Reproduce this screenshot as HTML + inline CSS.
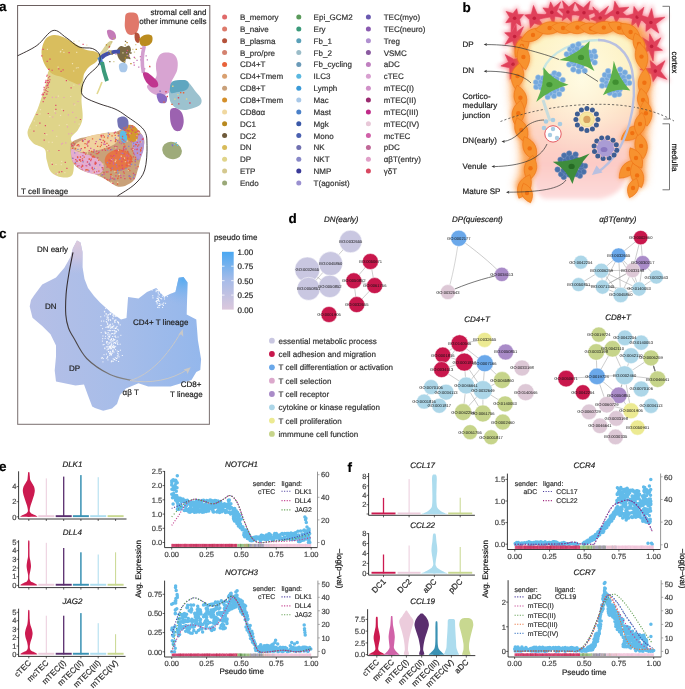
<!DOCTYPE html>
<html><head><meta charset="utf-8"><style>
html,body{margin:0;padding:0;background:#fff;width:685px;height:689px;overflow:hidden}
svg{display:block;will-change:transform}
text.n{stroke:none}
text{font-family:"Liberation Sans",sans-serif;text-rendering:geometricPrecision;stroke:currentColor;stroke-width:0.2px}
</style></head><body>
<svg width="685" height="689" viewBox="0 0 685 689" font-family="Liberation Sans, sans-serif">
<text x="-1.0" y="11.0" font-size="13.5" fill="#000" color="#000" font-weight="bold" >a</text>
<rect x="17.6" y="5.5" width="192.2" height="190.7" fill="none" stroke="#6b5f5f" stroke-width="1"/>
<path d="M50.0,70.0 C53.2,69.0 60.7,73.7 66.0,74.0 C71.3,74.3 79.2,70.2 82.0,72.0 C84.8,73.8 83.1,80.4 83.0,85.0 C82.9,89.6 81.6,94.1 81.5,99.6 C81.4,105.1 83.2,113.2 82.6,118.2 C82.0,123.2 79.9,126.5 78.0,129.8 C76.1,133.1 71.8,135.3 71.0,138.0 C70.2,140.7 72.9,142.3 73.4,146.0 C73.9,149.7 74.2,155.2 74.0,160.0 C73.8,164.8 74.2,172.1 72.2,175.0 C70.2,177.9 65.3,177.8 61.8,177.3 C58.3,176.8 53.5,174.9 51.0,172.0 C48.5,169.1 47.8,163.8 46.7,160.0 C45.6,156.2 46.8,151.8 44.5,149.0 C42.2,146.2 35.8,145.7 33.0,143.0 C30.2,140.3 27.5,137.0 27.5,133.0 C27.5,129.0 31.2,123.2 33.0,119.0 C34.8,114.8 36.3,112.4 38.0,108.0 C39.7,103.6 41.7,97.3 43.2,92.6 C44.7,87.9 45.9,83.8 47.0,80.0 C48.1,76.2 46.8,71.0 50.0,70.0Z" fill="#dfd489"/>
<path d="M42.0,48.0 C42.7,44.9 44.0,40.7 46.0,38.5 C48.0,36.3 51.2,35.2 54.0,35.0 C56.8,34.8 59.7,35.7 63.0,37.0 C66.3,38.3 70.3,40.9 74.0,43.0 C77.7,45.1 81.5,48.1 85.0,49.5 C88.5,50.9 92.7,50.6 95.0,51.5 C97.3,52.4 98.8,53.3 99.0,55.0 C99.2,56.7 98.2,59.5 96.5,61.5 C94.8,63.5 91.1,64.9 89.0,67.0 C86.9,69.1 85.5,71.2 84.0,74.0 C82.5,76.8 82.0,82.7 80.0,84.0 C78.0,85.3 75.0,83.2 72.0,82.0 C69.0,80.8 65.2,78.3 62.0,77.0 C58.8,75.7 55.2,75.8 52.5,74.0 C49.8,72.2 47.2,68.8 45.5,66.0 C43.8,63.2 42.6,60.0 42.0,57.0 C41.4,54.0 41.3,51.1 42.0,48.0Z" fill="#d9be5e"/>
<path d="M71.0,144.0 C72.0,140.5 75.5,140.2 78.0,139.0 C80.5,137.8 83.2,137.7 86.0,137.0 C88.8,136.3 91.8,135.7 95.0,135.0 C98.2,134.3 102.0,133.4 105.0,133.0 C108.0,132.6 110.8,132.9 113.0,132.6 C115.2,132.3 116.2,131.8 118.0,131.0 C119.8,130.2 121.7,129.0 124.0,128.0 C126.3,127.0 129.3,124.3 132.0,125.0 C134.7,125.7 137.9,129.4 140.0,132.0 C142.1,134.6 143.8,137.3 144.3,140.3 C144.8,143.3 143.4,147.7 143.0,150.0 C142.6,152.3 142.6,151.1 141.7,154.4 C140.8,157.7 139.1,165.5 137.8,169.8 C136.5,174.1 136.1,177.4 134.0,180.1 C131.9,182.8 128.0,184.9 125.0,185.9 C122.0,186.9 119.4,187.1 116.0,185.9 C112.6,184.7 108.1,180.8 104.4,178.8 C100.8,176.8 96.9,174.8 94.1,173.7 C91.3,172.6 90.4,173.3 87.7,172.4 C85.0,171.5 80.6,170.1 78.0,168.0 C75.4,165.9 73.2,164.0 72.0,160.0 C70.8,156.0 70.0,147.5 71.0,144.0Z" fill="#c9a179"/>
<path d="M74.0,146.0 C74.2,144.0 79.3,141.7 82.0,140.0 C84.7,138.3 87.0,137.0 90.0,136.0 C93.0,135.0 96.2,134.6 100.0,134.0 C103.8,133.4 109.8,132.3 113.0,132.6 C116.2,132.9 118.5,134.3 119.0,136.0 C119.5,137.7 118.2,141.0 116.0,143.0 C113.8,145.0 109.8,146.7 106.0,148.0 C102.2,149.3 97.2,150.3 93.0,151.0 C88.8,151.7 84.2,152.8 81.0,152.0 C77.8,151.2 73.8,148.0 74.0,146.0Z" fill="#f0d29e"/>
<path d="M71.5,149.0 C72.6,147.5 76.1,151.0 79.0,152.0 C81.9,153.0 85.7,153.7 89.0,155.0 C92.3,156.3 96.5,158.0 99.0,160.0 C101.5,162.0 104.0,164.7 104.0,167.0 C104.0,169.3 101.5,173.0 99.0,174.0 C96.5,175.0 92.3,174.0 89.0,173.0 C85.7,172.0 81.8,170.0 79.0,168.0 C76.2,166.0 73.8,164.2 72.5,161.0 C71.2,157.8 70.4,150.5 71.5,149.0Z" fill="#e4add0"/>
<path d="M106.0,156.0 C107.2,154.0 109.5,152.0 112.0,151.0 C114.5,150.0 118.0,149.5 121.0,150.0 C124.0,150.5 128.2,152.2 130.0,154.0 C131.8,155.8 132.5,158.7 132.0,161.0 C131.5,163.3 129.3,166.3 127.0,168.0 C124.7,169.7 120.8,170.8 118.0,171.0 C115.2,171.2 112.2,170.3 110.0,169.0 C107.8,167.7 105.7,165.2 105.0,163.0 C104.3,160.8 104.8,158.0 106.0,156.0Z" fill="#e8713f" opacity="0.9"/>
<path d="M135.0,135.0 C136.5,134.0 139.5,133.2 141.0,134.0 C142.5,134.8 143.7,137.0 144.0,140.0 C144.3,143.0 144.0,148.7 143.0,152.0 C142.0,155.3 139.7,160.3 138.0,160.0 C136.3,159.7 134.0,153.3 133.0,150.0 C132.0,146.7 131.7,142.5 132.0,140.0 C132.3,137.5 133.5,136.0 135.0,135.0Z" fill="#b596d2"/>
<path d="M127.0,125.0 C128.5,124.3 132.2,124.8 134.0,126.0 C135.8,127.2 137.5,129.7 138.0,132.0 C138.5,134.3 138.2,138.3 137.0,140.0 C135.8,141.7 132.8,142.5 131.0,142.0 C129.2,141.5 127.0,139.0 126.0,137.0 C125.0,135.0 124.8,132.0 125.0,130.0 C125.2,128.0 125.5,125.7 127.0,125.0Z" fill="#d4972e"/>
<path d="M118.0,118.0 C119.1,116.9 122.3,116.2 124.0,116.5 C125.7,116.8 127.3,118.2 128.0,120.0 C128.7,121.8 128.7,125.3 128.0,127.0 C127.3,128.7 125.5,129.8 124.0,130.0 C122.5,130.2 120.1,129.2 119.0,128.0 C117.9,126.8 117.7,124.7 117.5,123.0 C117.3,121.3 116.9,119.1 118.0,118.0Z" fill="#7272b4"/>
<path d="M121.0,131.0 C122.0,130.0 125.0,130.5 126.0,132.0 C127.0,133.5 127.3,138.2 127.0,140.0 C126.7,141.8 125.2,143.3 124.0,143.0 C122.8,142.7 120.5,140.0 120.0,138.0 C119.5,136.0 120.0,132.0 121.0,131.0Z" fill="#5cbce6"/>
<path d="M126.6 141.1h1.3M123.8 158.2h1.3M95.3 167.6h1.3M83.6 142.9h1.3M103.5 145.3h1.3M110.2 138.9h1.3M113.6 138.7h1.3M97.8 159.5h1.3M127.8 170.1h1.3M111.7 183.3h1.3M110.5 159.1h1.3M82.7 145.0h1.3M86.3 144.7h1.3M133.0 148.4h1.3M102.2 164.2h1.3M92.7 172.7h1.3M94.8 171.1h1.3M120.6 156.2h1.3M76.5 150.2h1.3M117.1 182.5h1.3M107.5 149.6h1.3M77.2 166.1h1.3M128.2 161.1h1.3M129.5 133.5h1.3M117.6 150.4h1.3M71.0 148.2h1.3M109.2 149.0h1.3M114.6 161.6h1.3M132.8 149.2h1.3M98.5 175.6h1.3M101.9 174.0h1.3M78.6 153.2h1.3M137.2 132.3h1.3M128.5 164.3h1.3M140.3 142.0h1.3M124.8 161.6h1.3M99.7 167.8h1.3M136.2 135.8h1.3M78.5 161.7h1.3M118.6 174.4h1.3M111.5 177.1h1.3M110.8 182.3h1.3M115.4 147.9h1.3M74.9 151.5h1.3M111.6 159.7h1.3M114.3 171.5h1.3M86.8 153.0h1.3M92.0 148.8h1.3M115.2 160.2h1.3M135.9 140.0h1.3" stroke="#f0d29e" stroke-width="1.3"/>
<path d="M126.4 154.8h1.3M135.4 168.2h1.3M78.4 146.0h1.3M105.4 171.9h1.3M104.5 144.4h1.3M142.5 139.2h1.3M81.4 169.4h1.3M86.1 165.9h1.3M120.0 175.6h1.3M76.8 161.1h1.3M113.7 156.0h1.3M93.4 150.6h1.3M94.9 163.8h1.3M93.4 149.6h1.3M120.5 153.1h1.3M82.2 155.6h1.3M113.9 178.9h1.3M128.0 156.2h1.3M118.9 142.5h1.3M127.0 160.9h1.3M103.1 144.2h1.3M98.5 151.8h1.3M95.6 141.7h1.3M107.6 171.9h1.3M96.0 171.6h1.3M132.6 126.9h1.3M123.0 147.7h1.3M87.0 142.9h1.3M124.5 141.4h1.3M117.6 135.9h1.3M75.1 163.8h1.3M112.2 159.7h1.3M110.0 176.6h1.3M81.6 165.1h1.3M140.6 150.3h1.3M85.4 165.6h1.3M94.9 162.9h1.3M111.7 158.8h1.3M103.8 174.1h1.3M90.1 148.3h1.3M110.2 140.7h1.3M78.3 165.6h1.3M133.8 154.4h1.3M110.9 169.0h1.3M88.7 140.9h1.3M112.8 164.0h1.3M123.2 175.9h1.3M125.9 155.8h1.3M112.9 162.1h1.3M130.8 141.7h1.3M122.4 169.2h1.3M120.7 143.7h1.3M116.3 166.9h1.3M120.0 158.0h1.3M116.3 149.2h1.3M136.0 136.5h1.3M95.6 153.6h1.3M134.2 149.4h1.3" stroke="#d060a0" stroke-width="1.3"/>
<path d="M128.5 130.9h1.3M136.3 149.6h1.3M132.8 156.8h1.3M132.3 148.3h1.3M103.8 142.0h1.3M116.2 146.7h1.3M81.9 141.1h1.3M100.9 136.8h1.3M135.0 144.3h1.3M79.1 160.3h1.3M126.9 158.5h1.3M123.8 130.3h1.3M79.5 159.7h1.3M134.3 174.7h1.3M75.1 159.7h1.3M136.6 131.8h1.3M131.4 125.8h1.3M81.9 140.2h1.3M76.9 166.1h1.3M115.2 175.9h1.3M106.3 179.3h1.3M94.0 157.1h1.3M82.7 152.3h1.3M121.2 161.5h1.3M90.1 160.5h1.3M115.3 139.7h1.3M142.3 138.8h1.3M123.1 146.9h1.3M124.6 130.3h1.3M114.4 150.7h1.3M83.6 152.6h1.3M87.5 141.4h1.3M128.7 175.9h1.3M110.3 155.9h1.3M91.6 167.5h1.3M94.6 164.2h1.3M116.6 150.6h1.3M132.8 173.4h1.3M134.9 159.3h1.3M104.0 141.3h1.3M102.5 135.3h1.3M87.1 146.0h1.3M108.6 148.2h1.3M128.3 137.0h1.3M134.7 161.5h1.3M114.8 141.5h1.3M126.2 134.6h1.3M104.1 177.9h1.3M95.6 163.1h1.3M122.7 158.8h1.3M122.9 171.8h1.3M133.4 178.7h1.3M108.6 160.2h1.3M97.1 157.8h1.3M93.7 172.2h1.3M114.2 146.4h1.3M89.0 164.8h1.3M121.5 165.5h1.3M92.0 156.9h1.3M100.9 142.7h1.3M95.9 151.2h1.3M141.8 139.4h1.3M127.5 131.2h1.3M131.9 130.6h1.3M120.3 177.6h1.3M122.3 150.9h1.3M88.6 150.7h1.3M109.3 163.4h1.3M94.7 163.2h1.3M121.7 139.2h1.3M71.1 145.8h1.3M109.1 147.8h1.3M76.4 145.7h1.3M108.0 145.3h1.3M136.6 142.3h1.3M104.8 150.4h1.3M110.2 178.2h1.3M115.8 153.1h1.3M98.0 152.7h1.3M91.5 168.3h1.3M130.5 133.4h1.3M134.7 132.3h1.3M88.4 164.4h1.3M102.4 169.1h1.3M136.6 149.1h1.3M101.7 150.1h1.3M112.2 183.4h1.3M80.6 148.7h1.3M129.3 166.1h1.3M138.2 134.7h1.3M109.7 149.6h1.3M109.6 160.1h1.3M121.9 168.5h1.3M111.9 178.2h1.3M124.2 146.2h1.3M90.3 154.5h1.3M123.1 140.1h1.3M80.8 167.0h1.3M125.3 149.1h1.3M113.7 133.1h1.3M123.3 150.0h1.3M129.4 164.2h1.3M127.9 135.1h1.3M130.8 149.2h1.3M130.4 161.4h1.3M106.4 167.2h1.3M137.4 130.9h1.3M84.1 147.7h1.3M139.7 154.6h1.3M128.7 161.3h1.3M72.1 158.4h1.3M113.1 155.6h1.3M132.9 153.1h1.3M110.6 161.1h1.3M139.6 141.8h1.3M94.8 143.7h1.3M100.7 135.3h1.3M86.8 162.0h1.3M123.5 153.9h1.3M126.7 130.3h1.3M88.5 159.1h1.3M94.7 162.1h1.3M99.9 139.6h1.3M122.8 148.9h1.3M92.4 156.4h1.3M125.8 165.2h1.3M102.1 174.4h1.3M77.0 157.5h1.3M124.2 178.7h1.3M72.0 145.6h1.3M86.2 144.2h1.3M73.8 144.8h1.3M84.4 139.4h1.3M108.9 179.9h1.3M106.1 146.7h1.3M114.7 132.2h1.3M82.0 160.7h1.3M81.9 165.6h1.3" stroke="#e04a6a" stroke-width="1.3"/>
<path d="M121.5 141.8h1.3M117.9 135.6h1.3M109.8 179.2h1.3M107.8 133.1h1.3M134.6 160.9h1.3M88.4 171.0h1.3M73.8 143.8h1.3M128.1 146.4h1.3M130.9 164.3h1.3M82.6 140.8h1.3M117.0 170.5h1.3M122.1 153.3h1.3M114.7 138.2h1.3M134.4 145.8h1.3M88.8 163.4h1.3M93.1 152.2h1.3M130.1 126.5h1.3M103.1 172.3h1.3M132.9 143.1h1.3M127.9 152.2h1.3M125.2 168.3h1.3M137.2 159.5h1.3M120.4 170.0h1.3M133.5 175.0h1.3M122.6 142.9h1.3M114.2 179.5h1.3M101.3 167.6h1.3M77.3 149.3h1.3M134.5 164.9h1.3M121.5 141.8h1.3M106.8 162.7h1.3M93.8 168.5h1.3M111.6 168.1h1.3M70.9 144.2h1.3M79.8 150.2h1.3M107.5 136.0h1.3M129.5 176.6h1.3M99.1 139.4h1.3M125.1 148.3h1.3M99.1 164.9h1.3M82.5 161.9h1.3M101.4 175.0h1.3M130.5 127.8h1.3M110.9 149.7h1.3M116.9 140.5h1.3M107.2 150.0h1.3M119.1 159.3h1.3M89.4 165.2h1.3M132.8 177.5h1.3M128.4 176.1h1.3M72.0 158.3h1.3M74.9 162.4h1.3M130.2 179.0h1.3M115.7 164.7h1.3M117.4 173.0h1.3M74.1 152.9h1.3M125.3 132.3h1.3" stroke="#8a80c8" stroke-width="1.3"/>
<path d="M138.5 131.3h1.3M100.4 135.9h1.3M99.7 146.7h1.3M139.9 151.0h1.3M109.9 174.5h1.3M113.2 179.2h1.3M103.3 172.5h1.3M118.6 165.8h1.3M77.9 144.7h1.3M125.1 151.2h1.3M107.5 148.8h1.3M91.6 156.5h1.3M115.3 150.3h1.3M81.8 158.9h1.3M126.3 162.8h1.3M97.0 146.4h1.3M140.8 148.0h1.3M129.8 159.2h1.3M110.6 169.8h1.3M110.1 168.4h1.3M88.8 159.1h1.3M84.3 147.7h1.3M76.1 161.2h1.3M139.9 149.6h1.3M128.8 161.5h1.3M92.3 169.7h1.3M110.3 170.5h1.3M94.6 163.5h1.3M126.6 165.7h1.3M135.6 144.6h1.3M90.7 159.2h1.3M75.0 148.5h1.3M102.1 167.7h1.3M98.0 160.1h1.3M131.9 150.8h1.3M106.3 172.0h1.3M116.9 184.0h1.3M121.1 150.3h1.3M82.0 166.1h1.3M111.4 135.9h1.3M87.4 170.2h1.3M85.2 170.0h1.3M132.4 127.7h1.3M119.1 149.6h1.3M136.8 153.1h1.3M98.2 171.2h1.3M129.9 178.9h1.3M107.1 137.9h1.3M74.2 143.9h1.3M100.7 145.1h1.3M108.8 134.4h1.3M128.1 169.3h1.3M129.2 170.7h1.3M103.7 137.0h1.3M131.0 157.3h1.3M124.6 160.7h1.3M117.0 178.7h1.3M90.9 151.5h1.3M110.6 158.7h1.3M81.9 141.2h1.3M124.0 146.9h1.3M76.9 157.0h1.3M93.0 156.1h1.3M111.6 156.7h1.3M80.1 161.2h1.3M77.1 145.0h1.3M117.4 178.1h1.3M91.9 138.8h1.3M88.1 142.1h1.3M125.2 129.4h1.3M133.0 146.1h1.3M79.8 157.0h1.3M110.7 174.3h1.3M138.1 144.8h1.3M115.6 151.1h1.3M103.8 148.8h1.3M137.4 166.7h1.3M130.0 156.2h1.3M86.2 169.7h1.3M106.3 143.4h1.3M85.0 154.2h1.3M115.5 172.5h1.3M127.0 151.5h1.3M131.1 158.9h1.3M83.6 157.1h1.3M129.1 178.1h1.3M70.7 144.2h1.3M129.0 162.6h1.3M74.3 163.3h1.3M137.0 146.2h1.3M125.6 127.2h1.3M93.1 157.0h1.3M78.8 159.7h1.3M123.5 128.0h1.3M131.0 129.7h1.3M129.3 127.3h1.3M96.4 153.7h1.3M102.6 140.3h1.3M131.4 161.7h1.3M114.6 135.4h1.3M114.9 141.3h1.3M128.0 153.8h1.3M117.8 133.1h1.3M121.9 136.5h1.3M123.4 143.9h1.3M71.7 148.4h1.3M134.9 157.3h1.3M117.8 176.1h1.3M106.9 179.8h1.3M84.4 143.6h1.3M72.6 143.0h1.3M123.6 173.2h1.3M127.3 152.5h1.3M97.1 153.7h1.3M107.7 148.3h1.3M115.3 139.8h1.3M92.6 152.0h1.3" stroke="#e8623a" stroke-width="1.3"/>
<path d="M56.8 173.6h1.2M39.9 109.6h1.2M55.4 164.5h1.2M51.2 162.8h1.2M51.7 142.3h1.2M46.2 134.6h1.2M60.7 164.6h1.2M74.2 104.9h1.2M33.8 120.9h1.2M39.4 113.9h1.2M47.0 150.7h1.2M35.7 125.7h1.2M29.5 128.2h1.2M54.0 111.1h1.2M49.3 116.7h1.2M60.0 115.4h1.2M58.7 125.4h1.2M61.3 109.3h1.2M66.3 124.5h1.2M57.8 96.1h1.2M48.3 142.2h1.2M73.3 85.1h1.2M56.1 136.4h1.2M70.1 96.5h1.2M64.3 172.7h1.2M78.6 124.2h1.2M61.1 161.3h1.2" stroke="#f0e0b0" stroke-width="1.2"/>
<path d="M67.8 114.8h1.2M61.9 143.3h1.2M63.4 97.5h1.2M47.2 84.7h1.2M55.5 97.4h1.2M54.9 113.2h1.2M68.2 133.9h1.2M77.4 101.5h1.2M73.3 104.0h1.2M66.9 126.9h1.2M60.9 144.2h1.2M75.5 117.6h1.2M71.1 133.5h1.2M65.2 142.9h1.2M74.2 122.0h1.2M78.6 84.3h1.2M55.4 173.8h1.2M72.1 112.3h1.2M52.1 130.7h1.2M51.8 97.3h1.2M52.1 117.0h1.2M48.8 151.0h1.2" stroke="#e8a0b8" stroke-width="1.2"/>
<path d="M61.2 171.7h1.2M44.1 133.5h1.2M65.8 80.6h1.2M55.2 105.3h1.2M42.6 101.7h1.2M36.4 114.5h1.2M70.5 87.8h1.2M64.7 162.4h1.2M66.3 168.3h1.2M44.8 125.6h1.2M62.9 110.7h1.2M79.8 119.5h1.2M43.6 140.2h1.2M58.3 150.5h1.2M47.7 113.5h1.2M58.6 172.1h1.2M55.3 109.3h1.2M42.9 94.7h1.2M33.3 131.1h1.2M51.7 164.4h1.2M39.3 123.1h1.2" stroke="#e0486a" stroke-width="1.2"/>
<path d="M61.9 49.5h1.2M63.3 52.4h1.2M57.5 67.1h1.2M46.8 49.3h1.2M77.5 67.6h1.2M73.1 71.0h1.2M60.1 51.3h1.2M76.1 52.3h1.2M59.8 51.9h1.2M71.9 63.7h1.2M75.8 68.0h1.2M86.2 45.2h1.2M78.5 41.0h1.2M73.3 41.4h1.2M81.9 47.6h1.2M82.7 48.7h1.2" stroke="#f0e0b0" stroke-width="1.2"/>
<path d="M58.2 68.9h1.2M68.5 52.7h1.2M49.4 59.1h1.2M42.5 49.4h1.2M62.5 69.8h1.2M60.5 71.4h1.2M46.6 61.3h1.2M41.2 55.8h1.2M82.5 44.3h1.2" stroke="#e0486a" stroke-width="1.2"/>
<rect x="42.4" y="94.2" width="1.1" height="1.1" fill="#e04a6a"/>
<rect x="45.7" y="93.5" width="1.1" height="1.1" fill="#e04a6a"/>
<rect x="42.4" y="92.7" width="1.1" height="1.1" fill="#e04a6a"/>
<rect x="45.3" y="80.8" width="1.1" height="1.1" fill="#e04a6a"/>
<rect x="47.2" y="91.0" width="1.1" height="1.1" fill="#e04a6a"/>
<rect x="47.1" y="84.7" width="1.1" height="1.1" fill="#e04a6a"/>
<rect x="43.4" y="89.3" width="1.1" height="1.1" fill="#e04a6a"/>
<rect x="46.8" y="79.9" width="1.1" height="1.1" fill="#e04a6a"/>
<rect x="44.1" y="92.0" width="1.1" height="1.1" fill="#e04a6a"/>
<rect x="47.8" y="79.8" width="1.1" height="1.1" fill="#e04a6a"/>
<rect x="46.7" y="74.6" width="1.1" height="1.1" fill="#e04a6a"/>
<rect x="46.2" y="75.6" width="1.1" height="1.1" fill="#e04a6a"/>
<rect x="44.9" y="89.4" width="1.1" height="1.1" fill="#e04a6a"/>
<rect x="45.9" y="87.7" width="1.1" height="1.1" fill="#e04a6a"/>
<rect x="51.6" y="69.7" width="1.1" height="1.1" fill="#e04a6a"/>
<rect x="41.5" y="94.2" width="1.1" height="1.1" fill="#e04a6a"/>
<rect x="48.5" y="81.8" width="1.1" height="1.1" fill="#e04a6a"/>
<rect x="49.0" y="81.3" width="1.1" height="1.1" fill="#e04a6a"/>
<rect x="45.7" y="90.2" width="1.1" height="1.1" fill="#e04a6a"/>
<rect x="44.6" y="97.0" width="1.1" height="1.1" fill="#e04a6a"/>
<rect x="43.6" y="86.7" width="1.1" height="1.1" fill="#e04a6a"/>
<rect x="47.8" y="82.5" width="1.1" height="1.1" fill="#e04a6a"/>
<rect x="46.7" y="84.7" width="1.1" height="1.1" fill="#e04a6a"/>
<rect x="49.4" y="79.2" width="1.1" height="1.1" fill="#e04a6a"/>
<rect x="49.2" y="75.9" width="1.1" height="1.1" fill="#e04a6a"/>
<rect x="45.2" y="82.0" width="1.1" height="1.1" fill="#e04a6a"/>
<rect x="48.5" y="68.6" width="1.1" height="1.1" fill="#e04a6a"/>
<rect x="48.1" y="77.2" width="1.1" height="1.1" fill="#e04a6a"/>
<rect x="48.1" y="68.9" width="1.1" height="1.1" fill="#e04a6a"/>
<rect x="46.5" y="93.5" width="1.1" height="1.1" fill="#e04a6a"/>
<rect x="46.9" y="81.8" width="1.1" height="1.1" fill="#e04a6a"/>
<rect x="43.7" y="87.3" width="1.1" height="1.1" fill="#e04a6a"/>
<rect x="47.1" y="85.2" width="1.1" height="1.1" fill="#e04a6a"/>
<rect x="43.7" y="98.2" width="1.1" height="1.1" fill="#e04a6a"/>
<rect x="45.7" y="85.4" width="1.1" height="1.1" fill="#e04a6a"/>
<rect x="43.3" y="97.2" width="1.1" height="1.1" fill="#e04a6a"/>
<rect x="47.8" y="83.3" width="1.1" height="1.1" fill="#e04a6a"/>
<rect x="44.8" y="82.0" width="1.1" height="1.1" fill="#e04a6a"/>
<rect x="47.6" y="86.9" width="1.1" height="1.1" fill="#e04a6a"/>
<rect x="45.5" y="79.8" width="1.1" height="1.1" fill="#e04a6a"/>
<path d="M126.0,14.0 C127.0,12.8 129.2,12.5 131.0,12.5 C132.8,12.5 135.7,12.4 137.0,14.0 C138.3,15.6 138.8,19.3 139.0,22.0 C139.2,24.7 138.8,27.9 138.0,30.0 C137.2,32.1 135.7,33.8 134.0,34.5 C132.3,35.2 129.5,35.1 128.0,34.0 C126.5,32.9 125.5,30.3 125.0,28.0 C124.5,25.7 124.8,22.3 125.0,20.0 C125.2,17.7 125.0,15.2 126.0,14.0Z" fill="#e0786a"/>
<path d="M135.0,33.0 C135.7,32.0 138.2,32.8 139.0,34.0 C139.8,35.2 140.2,38.5 140.0,40.0 C139.8,41.5 138.8,43.0 138.0,43.0 C137.2,43.0 135.5,41.7 135.0,40.0 C134.5,38.3 134.3,34.0 135.0,33.0Z" fill="#b5523b"/>
<path d="M141.0,37.0 C142.2,35.8 145.2,34.7 147.0,34.5 C148.8,34.3 151.2,34.8 152.0,36.0 C152.8,37.2 152.7,40.4 152.0,42.0 C151.3,43.6 149.7,44.8 148.0,45.5 C146.3,46.2 143.4,46.6 142.0,46.0 C140.6,45.4 139.7,43.5 139.5,42.0 C139.3,40.5 139.8,38.2 141.0,37.0Z" fill="#bb8c1f"/>
<path d="M107.0,31.0 C107.3,29.7 109.7,29.7 111.0,30.0 C112.3,30.3 114.2,31.7 115.0,33.0 C115.8,34.3 116.3,36.8 116.0,38.0 C115.7,39.2 114.2,40.0 113.0,40.0 C111.8,40.0 110.0,39.5 109.0,38.0 C108.0,36.5 106.7,32.3 107.0,31.0Z" fill="#c47ab8"/>
<path d="M99.0,55.0 C99.5,53.3 101.7,50.9 103.0,49.0 C104.3,47.1 105.8,44.8 107.0,43.5 C108.2,42.2 109.7,41.1 110.5,41.0 C111.3,40.9 112.2,41.8 112.0,43.0 C111.8,44.2 110.0,46.3 109.0,48.0 C108.0,49.7 107.0,51.3 106.0,53.0 C105.0,54.7 104.0,57.0 103.0,58.0 C102.0,59.0 100.7,59.5 100.0,59.0 C99.3,58.5 98.5,56.7 99.0,55.0Z" fill="#d8cf96"/>
<path d="M117.0,50.0 C117.5,48.2 119.7,46.5 121.0,46.0 C122.3,45.5 123.7,47.1 125.0,47.0 C126.3,46.9 128.0,45.0 129.0,45.5 C130.0,46.0 131.0,48.4 131.0,50.0 C131.0,51.6 129.1,53.5 129.0,55.0 C128.9,56.5 131.0,58.3 130.5,59.0 C130.0,59.7 126.9,58.3 126.0,59.0 C125.1,59.7 125.8,62.7 125.0,63.0 C124.2,63.3 122.2,62.0 121.0,61.0 C119.8,60.0 118.7,58.8 118.0,57.0 C117.3,55.2 116.5,51.8 117.0,50.0Z" fill="#7a6a44"/>
<path d="M119.5,64.0 C120.3,63.1 122.7,62.2 124.0,62.5 C125.3,62.8 127.2,64.5 127.5,66.0 C127.8,67.5 127.1,70.5 126.0,71.5 C124.9,72.5 122.2,72.6 121.0,72.0 C119.8,71.4 119.2,69.3 119.0,68.0 C118.8,66.7 118.7,64.9 119.5,64.0Z" fill="#a9c8ea"/>
<path d="M101,58 C106,53 112,51.5 120,51.5" fill="none" stroke="#4450aa" stroke-width="4.2"/>
<path d="M99,57 C100.5,59 101,62 101.5,65" fill="none" stroke="#4a82cc" stroke-width="4"/>
<path d="M102,62 C103,68 104.5,74 107,81" fill="none" stroke="#3c9a7a" stroke-width="4"/>
<path d="M102,82 C100,87 98.5,91 97,94" fill="none" stroke="#e2d88f" stroke-width="1.6"/>
<path d="M109.2 61.6h1.3M130.2 53.4h1.3M108.6 50.7h1.3M128.0 55.4h1.3M123.1 59.4h1.3M124.9 41.3h1.3M130.2 52.7h1.3M111.5 54.0h1.3M107.9 53.5h1.3" stroke="#7a6a44" stroke-width="1.3"/>
<path d="M123.8 61.7h1.3M124.6 45.0h1.3M113.3 38.4h1.3M110.3 51.0h1.3M126.6 55.7h1.3M109.6 51.8h1.3M111.2 41.9h1.3M110.2 53.0h1.3" stroke="#c4b060" stroke-width="1.3"/>
<path d="M126.0 52.6h1.3M115.3 54.1h1.3M133.2 62.7h1.3M141.3 60.1h1.3M128.3 55.9h1.3M140.1 59.9h1.3" stroke="#c47ab8" stroke-width="1.3"/>
<path d="M113.2 61.6h1.3M132.2 49.4h1.3M135.1 44.7h1.3M133.8 52.1h1.3M122.3 52.8h1.3M134.5 58.4h1.3M108.6 51.0h1.3" stroke="#d8cf96" stroke-width="1.3"/>
<path d="M126.4 42.7h1.3M130.3 63.7h1.3M124.7 58.0h1.3M105.8 44.9h1.3M108.9 46.4h1.3M135.6 49.3h1.3M138.9 38.6h1.3" stroke="#b8891f" stroke-width="1.3"/>
<path d="M140.4 48.3h1.3M126.8 50.4h1.3M108.6 47.2h1.3" stroke="#d84860" stroke-width="1.3"/>
<path d="M138.1 67.1h1.3M136.4 60.3h1.3M149.2 66.8h1.3M145.5 55.9h1.3M146.7 59.8h1.3" stroke="#c47ab8" stroke-width="1.3"/>
<path d="M133.6 65.2h1.3M133.7 57.3h1.3M139.8 56.6h1.3M144.0 68.9h1.3" stroke="#d060a8" stroke-width="1.3"/>
<path d="M149.0 66.4h1.3" stroke="#e8623a" stroke-width="1.3"/>
<path d="M144.3,46 C142,54 141.2,62 143.5,73" fill="none" stroke="#d39ecf" stroke-width="3.6"/>
<path d="M156.4,62.0 C157.1,59.8 158.2,56.1 160.0,54.5 C161.8,52.9 164.7,52.6 167.0,52.6 C169.3,52.6 172.2,53.1 174.0,54.5 C175.8,55.9 177.0,58.4 177.5,61.0 C178.0,63.6 177.8,67.3 177.2,70.0 C176.6,72.7 174.9,75.0 174.0,77.0 C173.1,79.0 171.8,80.2 171.5,82.0 C171.2,83.8 172.2,86.3 172.0,88.0 C171.8,89.7 171.5,90.8 170.0,92.0 C168.5,93.2 165.5,95.1 163.0,95.5 C160.5,95.9 157.2,95.2 155.0,94.5 C152.8,93.8 150.8,92.4 149.5,91.0 C148.2,89.6 146.6,87.5 147.0,86.0 C147.4,84.5 150.4,83.7 152.0,82.0 C153.6,80.3 155.8,78.3 156.5,76.0 C157.2,73.7 156.0,70.3 156.0,68.0 C156.0,65.7 155.7,64.2 156.4,62.0Z" fill="#d8a4d2"/>
<path d="M143.0,73.0 C143.4,71.9 145.5,72.0 147.0,72.5 C148.5,73.0 150.3,74.6 152.0,76.0 C153.7,77.4 156.0,79.3 157.0,81.0 C158.0,82.7 158.7,84.9 158.0,86.0 C157.3,87.1 154.7,87.8 153.0,87.5 C151.3,87.2 149.4,85.4 148.0,84.0 C146.6,82.6 145.3,80.8 144.5,79.0 C143.7,77.2 142.6,74.1 143.0,73.0Z" fill="#c0358f"/>
<path d="M172.0,82.0 C173.3,80.7 175.7,80.5 178.0,80.3 C180.3,80.0 184.0,79.9 186.0,80.5 C188.0,81.1 188.3,82.1 190.0,84.0 C191.7,85.9 194.1,89.5 196.0,92.0 C197.9,94.5 200.6,96.8 201.3,99.0 C202.0,101.2 201.6,103.4 200.0,105.0 C198.4,106.6 194.7,107.7 192.0,108.5 C189.3,109.3 186.7,110.1 184.0,110.0 C181.3,109.9 178.2,109.2 176.0,108.0 C173.8,106.8 172.2,105.2 171.0,103.0 C169.8,100.8 169.2,97.5 169.0,95.0 C168.8,92.5 169.5,90.2 170.0,88.0 C170.5,85.8 170.7,83.3 172.0,82.0Z" fill="#9cc2cf"/>
<path d="M172.0,82.0 C173.3,80.9 175.7,80.5 178.0,80.3 C180.3,80.0 184.2,79.7 186.0,80.5 C187.8,81.3 189.0,83.4 189.0,85.0 C189.0,86.6 187.8,88.8 186.0,90.0 C184.2,91.2 180.5,91.5 178.0,92.0 C175.5,92.5 172.3,93.8 171.0,93.0 C169.7,92.2 169.8,88.8 170.0,87.0 C170.2,85.2 170.7,83.1 172.0,82.0Z" fill="#5fa6c0"/>
<path d="M157.0,94.0 C157.8,93.1 160.4,93.2 162.0,93.7 C163.6,94.2 166.1,95.5 166.8,97.0 C167.5,98.5 167.1,101.5 166.0,102.5 C164.9,103.5 161.4,103.6 160.0,103.0 C158.6,102.4 158.0,100.5 157.5,99.0 C157.0,97.5 156.2,94.9 157.0,94.0Z" fill="#8a6ac2"/>
<path d="M159.4 91.2h1.4" stroke="#8a6ac2" stroke-width="1.4"/>
<path d="M189.2 103.0h1.4M165.3 91.7h1.4M166.6 96.5h1.4M178.1 103.9h1.4M177.8 97.8h1.4" stroke="#d84860" stroke-width="1.4"/>
<path d="M180.0 92.6h1.4M182.9 92.7h1.4M163.3 102.1h1.4M171.3 104.4h1.4" stroke="#e8623a" stroke-width="1.4"/>
<path d="M185.9 99.0h1.4M174.2 99.1h1.4M172.1 86.2h1.4M177.2 94.6h1.4" stroke="#e0d48a" stroke-width="1.4"/>
<path d="M171.0,109.0 C172.2,107.9 175.2,107.8 177.0,108.5 C178.8,109.2 180.9,110.8 182.0,113.0 C183.1,115.2 183.9,119.2 183.7,122.0 C183.5,124.8 182.4,128.6 181.0,130.0 C179.6,131.4 176.7,131.5 175.0,130.5 C173.3,129.5 171.8,126.6 171.0,124.0 C170.2,121.4 170.0,117.5 170.0,115.0 C170.0,112.5 169.8,110.1 171.0,109.0Z" fill="#9c62b0"/>
<ellipse cx="172" cy="150.5" rx="10" ry="8.5" transform="rotate(20 172 150.5)" fill="#9eab7a"/>
<path d="M171.5 145.0h1.2M176.9 145.4h1.2M173.9 144.4h1.2M175.6 142.7h1.2" stroke="#5cbce6" stroke-width="1.2"/>
<path d="M172.0 145.7h1.2M171.7 144.8h1.2" stroke="#8a6ac2" stroke-width="1.2"/>
<path d="M17.6,55.8 C20.8,54.1 31.0,49.7 36.9,45.5 C42.8,41.3 48.1,31.8 53.0,30.5 C57.9,29.2 61.7,34.8 66.0,37.5 C70.3,40.2 74.6,45.2 79.0,47.0 C83.4,48.8 89.0,47.2 92.4,48.5 C95.9,49.8 98.7,52.2 99.7,55.0 C100.7,57.8 100.4,61.6 98.2,65.3 C96.0,69.0 89.3,72.9 86.5,77.0 C83.7,81.1 81.7,86.6 81.4,90.0 C81.2,93.4 81.9,95.1 85.0,97.4 C88.1,99.7 95.0,102.1 100.0,104.0 C105.0,105.9 110.7,107.0 115.0,109.0 C119.3,111.0 121.2,112.3 126.0,115.8 C130.8,119.3 140.3,124.9 143.8,129.8 C147.3,134.8 146.8,138.8 147.0,145.5 C147.2,152.2 146.7,163.6 144.7,170.0 C142.7,176.4 139.5,179.7 135.0,184.0 C130.5,188.3 120.4,194.0 117.5,196.0" fill="none" stroke="#2a2222" stroke-width="0.9"/>
<text x="206.5" y="15.0" font-size="8" fill="#222" color="#222" text-anchor="end" >stromal cell and</text>
<text x="206.5" y="24.3" font-size="8" fill="#222" color="#222" text-anchor="end" >other immune cells</text>
<text x="21.1" y="194.0" font-size="8" fill="#222" color="#222" >T cell lineage</text>
<circle cx="224.6" cy="17.1" r="2.50" fill="#e06a6a" />
<text x="239.9" y="20.0" font-size="8" fill="#333" color="#333" >B_memory</text>
<circle cx="224.6" cy="29.0" r="2.50" fill="#dd7a6b" />
<text x="239.9" y="31.9" font-size="8" fill="#333" color="#333" >B_naive</text>
<circle cx="224.6" cy="40.8" r="2.50" fill="#b5523b" />
<text x="239.9" y="43.7" font-size="8" fill="#333" color="#333" >B_plasma</text>
<circle cx="224.6" cy="52.6" r="2.50" fill="#d4826f" />
<text x="239.9" y="55.5" font-size="8" fill="#333" color="#333" >B_pro/pre</text>
<circle cx="224.6" cy="64.5" r="2.50" fill="#e8623a" />
<text x="239.9" y="67.4" font-size="8" fill="#333" color="#333" >CD4+T</text>
<circle cx="224.6" cy="76.3" r="2.50" fill="#d9a070" />
<text x="239.9" y="79.2" font-size="8" fill="#333" color="#333" >CD4+Tmem</text>
<circle cx="224.6" cy="88.2" r="2.50" fill="#c9a07a" />
<text x="239.9" y="91.1" font-size="8" fill="#333" color="#333" >CD8+T</text>
<circle cx="224.6" cy="100.1" r="2.50" fill="#d48f2a" />
<text x="239.9" y="103.0" font-size="8" fill="#333" color="#333" >CD8+Tmem</text>
<circle cx="224.6" cy="111.9" r="2.50" fill="#f0d8a0" />
<text x="239.9" y="114.8" font-size="8" fill="#333" color="#333" >CD8αα</text>
<circle cx="224.6" cy="123.8" r="2.50" fill="#b8891f" />
<text x="239.9" y="126.7" font-size="8" fill="#333" color="#333" >DC1</text>
<circle cx="224.6" cy="135.6" r="2.50" fill="#6e5a3a" />
<text x="239.9" y="138.5" font-size="8" fill="#333" color="#333" >DC2</text>
<circle cx="224.6" cy="147.4" r="2.50" fill="#d8bb5a" />
<text x="239.9" y="150.3" font-size="8" fill="#333" color="#333" >DN</text>
<circle cx="224.6" cy="159.3" r="2.50" fill="#e0d48a" />
<text x="239.9" y="162.2" font-size="8" fill="#333" color="#333" >DP</text>
<circle cx="224.6" cy="171.1" r="2.50" fill="#d4c88e" />
<text x="239.9" y="174.0" font-size="8" fill="#333" color="#333" >ETP</text>
<circle cx="224.6" cy="183.0" r="2.50" fill="#9aa878" />
<text x="239.9" y="185.9" font-size="8" fill="#333" color="#333" >Endo</text>
<circle cx="298.8" cy="17.1" r="2.50" fill="#5a9a5a" />
<text x="313.6" y="20.0" font-size="8" fill="#333" color="#333" >Epi_GCM2</text>
<circle cx="298.8" cy="29.0" r="2.50" fill="#3a9a7a" />
<text x="313.6" y="31.9" font-size="8" fill="#333" color="#333" >Ery</text>
<circle cx="298.8" cy="40.8" r="2.50" fill="#5aa0b8" />
<text x="313.6" y="43.7" font-size="8" fill="#333" color="#333" >Fb_1</text>
<circle cx="298.8" cy="52.6" r="2.50" fill="#9abcc8" />
<text x="313.6" y="55.5" font-size="8" fill="#333" color="#333" >Fb_2</text>
<circle cx="298.8" cy="64.5" r="2.50" fill="#6a9ab8" />
<text x="313.6" y="67.4" font-size="8" fill="#333" color="#333" >Fb_cycling</text>
<circle cx="298.8" cy="76.3" r="2.50" fill="#5ab8e0" />
<text x="313.6" y="79.2" font-size="8" fill="#333" color="#333" >ILC3</text>
<circle cx="298.8" cy="88.2" r="2.50" fill="#3a9ad8" />
<text x="313.6" y="91.1" font-size="8" fill="#333" color="#333" >Lymph</text>
<circle cx="298.8" cy="100.1" r="2.50" fill="#a8c8e8" />
<text x="313.6" y="103.0" font-size="8" fill="#333" color="#333" >Mac</text>
<circle cx="298.8" cy="111.9" r="2.50" fill="#4a80c8" />
<text x="313.6" y="114.8" font-size="8" fill="#333" color="#333" >Mast</text>
<circle cx="298.8" cy="123.8" r="2.50" fill="#3a58a8" />
<text x="313.6" y="126.7" font-size="8" fill="#333" color="#333" >Mgk</text>
<circle cx="298.8" cy="135.6" r="2.50" fill="#4a60b0" />
<text x="313.6" y="138.5" font-size="8" fill="#333" color="#333" >Mono</text>
<circle cx="298.8" cy="147.4" r="2.50" fill="#7070b0" />
<text x="313.6" y="150.3" font-size="8" fill="#333" color="#333" >NK</text>
<circle cx="298.8" cy="159.3" r="2.50" fill="#8888c8" />
<text x="313.6" y="162.2" font-size="8" fill="#333" color="#333" >NKT</text>
<circle cx="298.8" cy="171.1" r="2.50" fill="#3a3a98" />
<text x="313.6" y="174.0" font-size="8" fill="#333" color="#333" >NMP</text>
<circle cx="298.8" cy="183.0" r="2.50" fill="#9a90d0" />
<text x="313.6" y="185.9" font-size="8" fill="#333" color="#333" >T(agonist)</text>
<circle cx="368.4" cy="17.1" r="2.50" fill="#6a5ab0" />
<text x="383.7" y="20.0" font-size="8" fill="#333" color="#333" >TEC(myo)</text>
<circle cx="368.4" cy="29.0" r="2.50" fill="#8a5ab0" />
<text x="383.7" y="31.9" font-size="8" fill="#333" color="#333" >TEC(neuro)</text>
<circle cx="368.4" cy="40.8" r="2.50" fill="#b090d0" />
<text x="383.7" y="43.7" font-size="8" fill="#333" color="#333" >Treg</text>
<circle cx="368.4" cy="52.6" r="2.50" fill="#8a5aa0" />
<text x="383.7" y="55.5" font-size="8" fill="#333" color="#333" >VSMC</text>
<circle cx="368.4" cy="64.5" r="2.50" fill="#c080c0" />
<text x="383.7" y="67.4" font-size="8" fill="#333" color="#333" >aDC</text>
<circle cx="368.4" cy="76.3" r="2.50" fill="#d8a0d0" />
<text x="383.7" y="79.2" font-size="8" fill="#333" color="#333" >cTEC</text>
<circle cx="368.4" cy="88.2" r="2.50" fill="#d090c8" />
<text x="383.7" y="91.1" font-size="8" fill="#333" color="#333" >mTEC(I)</text>
<circle cx="368.4" cy="100.1" r="2.50" fill="#9a2a70" />
<text x="383.7" y="103.0" font-size="8" fill="#333" color="#333" >mTEC(II)</text>
<circle cx="368.4" cy="111.9" r="2.50" fill="#c02a88" />
<text x="383.7" y="114.8" font-size="8" fill="#333" color="#333" >mTEC(III)</text>
<circle cx="368.4" cy="123.8" r="2.50" fill="#e8c8d8" />
<text x="383.7" y="126.7" font-size="8" fill="#333" color="#333" >mTEC(IV)</text>
<circle cx="368.4" cy="135.6" r="2.50" fill="#d060a8" />
<text x="383.7" y="138.5" font-size="8" fill="#333" color="#333" >mcTEC</text>
<circle cx="368.4" cy="147.4" r="2.50" fill="#c06898" />
<text x="383.7" y="150.3" font-size="8" fill="#333" color="#333" >pDC</text>
<circle cx="368.4" cy="159.3" r="2.50" fill="#e0a0c8" />
<text x="383.7" y="162.2" font-size="8" fill="#333" color="#333" >αβT(entry)</text>
<circle cx="368.4" cy="171.1" r="2.50" fill="#d84860" />
<text x="383.7" y="174.0" font-size="8" fill="#333" color="#333" >γδT</text>
<defs>
<filter id="blur4" x="-40%" y="-40%" width="180%" height="180%"><feGaussianBlur stdDeviation="4"/></filter>
<filter id="blur3" x="-40%" y="-40%" width="180%" height="180%"><feGaussianBlur stdDeviation="3"/></filter>
<filter id="blur2" x="-40%" y="-40%" width="180%" height="180%"><feGaussianBlur stdDeviation="2"/></filter>
<filter id="blur1" x="-40%" y="-40%" width="180%" height="180%"><feGaussianBlur stdDeviation="1"/></filter>
<linearGradient id="lob" x1="0" y1="0" x2="0" y2="1">
<stop offset="0" stop-color="#fdf3c0"/><stop offset="0.3" stop-color="#fdf0c4"/><stop offset="0.45" stop-color="#fde3c4"/><stop offset="0.6" stop-color="#fdd6c6"/><stop offset="0.8" stop-color="#fccbc6"/><stop offset="1" stop-color="#fddcdc"/></linearGradient>
<radialGradient id="lobc" cx="0.5" cy="0.3" r="0.45"><stop offset="0" stop-color="#fffce6" stop-opacity="0.9"/><stop offset="1" stop-color="#fffce6" stop-opacity="0"/></radialGradient>
</defs>
<text x="462.6" y="11.8" font-size="13.5" fill="#000" color="#000" font-weight="bold" >b</text>
<path d="M520,190 C530,170 528,150 522,125 C516,100 516,70 520,45 C527,32 545,26 565,26 L628,26 C642,28 647,40 646,55 L644,105 C642,130 640,150 638,185" fill="none" stroke="#fdb070" stroke-width="16" filter="url(#blur4)" opacity="0.55"/>
<path d="M522,45 C528,33 545,27 565,27 L625,27 C640,29 646,40 645,55 L643,105 C641,130 632,150 628,172 C626,185 618,196 600,199 L545,199 C535,196 533,185 533,170 C533,150 525,140 522,125 C517,100 517,70 522,45 Z" fill="url(#lob)" filter="url(#blur2)"/>
<path d="M522,45 C528,33 545,27 565,27 L625,27 C640,29 646,40 645,55 L643,105 C641,130 632,150 628,172 C626,185 618,196 600,199 L545,199 C535,196 533,185 533,170 C533,150 525,140 522,125 C517,100 517,70 522,45 Z" fill="url(#lobc)"/>
<path d="M520,190 C530,170 528,150 522,125 C516,100 516,70 520,45 C527,32 545,26 565,26 L628,26 C642,28 647,40 646,55 L644,105 C642,130 640,150 638,185" fill="none" stroke="#fca04a" stroke-width="9" filter="url(#blur3)" opacity="0.75"/>
<path d="M523.6,14.6 L519.5,19.2 L521.0,25.9 L516.2,22.9 L511.1,32.8 L511.3,22.0 L505.8,22.7 L509.7,17.2 L506.1,11.4 L513.0,13.5 L516.7,8.7 L517.9,14.4 L523.6,14.6Z" fill="#f77a8c" filter="url(#blur2)" opacity="0.8" stroke="#f77a8c" stroke-width="2.5"/>
<path d="M546.9,14.8 L539.1,19.7 L544.2,26.6 L534.4,23.2 L530.3,28.2 L529.6,19.8 L524.6,15.0 L531.3,14.2 L533.5,5.5 L537.2,14.1 L546.9,14.8Z" fill="#f77a8c" filter="url(#blur2)" opacity="0.8" stroke="#f77a8c" stroke-width="2.5"/>
<path d="M542.9,7.9 L548.7,8.5 L550.6,1.9 L553.6,7.8 L560.7,1.8 L556.7,11.7 L564.0,17.7 L554.9,16.3 L553.7,25.0 L550.0,17.0 L541.2,18.6 L546.9,13.1 L542.9,7.9Z" fill="#f77a8c" filter="url(#blur2)" opacity="0.8" stroke="#f77a8c" stroke-width="2.5"/>
<path d="M562.2,20.8 L563.2,13.7 L558.5,8.9 L564.1,8.8 L562.5,0.8 L568.8,7.1 L575.0,2.1 L572.6,10.3 L577.5,14.2 L571.7,15.2 L571.4,21.8 L567.0,16.9 L562.2,20.8Z" fill="#f77a8c" filter="url(#blur2)" opacity="0.8" stroke="#f77a8c" stroke-width="2.5"/>
<path d="M589.6,20.6 L584.5,17.8 L577.0,25.1 L579.9,15.7 L569.2,13.6 L579.5,10.7 L575.1,2.4 L583.5,7.8 L590.0,1.3 L588.1,9.9 L598.5,11.1 L588.5,14.9 L589.6,20.6Z" fill="#f77a8c" filter="url(#blur2)" opacity="0.8" stroke="#f77a8c" stroke-width="2.5"/>
<path d="M590.5,18.9 L595.5,16.3 L592.8,6.9 L599.4,13.2 L608.5,6.2 L604.1,14.9 L611.6,14.9 L604.9,19.9 L605.6,25.9 L601.0,23.0 L596.7,27.9 L596.3,21.3 L590.5,18.9Z" fill="#f77a8c" filter="url(#blur2)" opacity="0.8" stroke="#f77a8c" stroke-width="2.5"/>
<path d="M606.6,14.8 L613.4,10.0 L614.8,1.3 L618.9,8.0 L628.8,7.2 L622.6,12.6 L628.5,17.6 L619.3,17.5 L616.0,22.9 L613.7,15.9 L606.6,14.8Z" fill="#f77a8c" filter="url(#blur2)" opacity="0.8" stroke="#f77a8c" stroke-width="2.5"/>
<path d="M643.9,7.2 L641.8,15.5 L651.9,18.9 L640.9,20.4 L638.2,27.4 L636.2,22.0 L631.4,26.3 L632.4,18.7 L624.7,16.4 L633.3,13.8 L634.0,6.5 L638.0,12.2 L643.9,7.2Z" fill="#f77a8c" filter="url(#blur2)" opacity="0.8" stroke="#f77a8c" stroke-width="2.5"/>
<path d="M658.8,33.1 L651.0,27.5 L645.9,31.4 L646.2,24.2 L637.2,15.6 L647.9,18.5 L651.6,8.5 L653.7,18.4 L664.8,17.2 L655.7,23.9 L658.8,33.1Z" fill="#f77a8c" filter="url(#blur2)" opacity="0.8" stroke="#f77a8c" stroke-width="2.5"/>
<path d="M505.1,44.4 L509.6,37.1 L504.7,32.8 L511.6,32.5 L516.1,24.5 L516.6,31.9 L523.4,26.8 L519.6,35.9 L527.2,39.2 L517.6,40.5 L516.1,51.7 L512.6,41.1 L505.1,44.4Z" fill="#f77a8c" filter="url(#blur2)" opacity="0.8" stroke="#f77a8c" stroke-width="2.5"/>
<path d="M524.3,67.6 L515.5,68.6 L510.1,79.3 L509.7,67.8 L500.9,65.9 L508.6,62.1 L505.2,54.6 L513.7,59.2 L523.5,57.5 L518.0,63.3 L524.3,67.6Z" fill="#f77a8c" filter="url(#blur2)" opacity="0.8" stroke="#f77a8c" stroke-width="2.5"/>
<path d="M662.5,50.2 L654.0,50.8 L653.1,60.9 L649.0,50.7 L644.2,52.4 L646.6,46.3 L642.5,37.6 L649.2,42.0 L649.6,33.8 L654.2,42.1 L660.9,37.8 L656.6,46.5 L662.5,50.2Z" fill="#f77a8c" filter="url(#blur2)" opacity="0.8" stroke="#f77a8c" stroke-width="2.5"/>
<path d="M650.1,60.6 L656.7,66.3 L665.0,60.7 L660.3,71.0 L666.9,79.4 L657.0,75.8 L653.1,81.6 L651.3,74.1 L639.9,69.1 L651.2,68.3 L650.1,60.6Z" fill="#f77a8c" filter="url(#blur2)" opacity="0.8" stroke="#f77a8c" stroke-width="2.5"/>
<path d="M523.6,14.6 L519.5,19.2 L521.0,25.9 L516.2,22.9 L511.1,32.8 L511.3,22.0 L505.8,22.7 L509.7,17.2 L506.1,11.4 L513.0,13.5 L516.7,8.7 L517.9,14.4 L523.6,14.6Z" fill="#e0405a" stroke="#e0405a" stroke-width="0.6" stroke-linejoin="round"/>
<circle cx="514.6" cy="18.2" r="1.80" fill="#c21f3c" />
<path d="M546.9,14.8 L539.1,19.7 L544.2,26.6 L534.4,23.2 L530.3,28.2 L529.6,19.8 L524.6,15.0 L531.3,14.2 L533.5,5.5 L537.2,14.1 L546.9,14.8Z" fill="#e0405a" stroke="#e0405a" stroke-width="0.6" stroke-linejoin="round"/>
<circle cx="534.3" cy="18.2" r="1.80" fill="#c21f3c" />
<path d="M542.9,7.9 L548.7,8.5 L550.6,1.9 L553.6,7.8 L560.7,1.8 L556.7,11.7 L564.0,17.7 L554.9,16.3 L553.7,25.0 L550.0,17.0 L541.2,18.6 L546.9,13.1 L542.9,7.9Z" fill="#e0405a" stroke="#e0405a" stroke-width="0.6" stroke-linejoin="round"/>
<circle cx="551.8" cy="12.4" r="1.80" fill="#c21f3c" />
<path d="M562.2,20.8 L563.2,13.7 L558.5,8.9 L564.1,8.8 L562.5,0.8 L568.8,7.1 L575.0,2.1 L572.6,10.3 L577.5,14.2 L571.7,15.2 L571.4,21.8 L567.0,16.9 L562.2,20.8Z" fill="#e0405a" stroke="#e0405a" stroke-width="0.6" stroke-linejoin="round"/>
<circle cx="567.9" cy="12.0" r="1.80" fill="#c21f3c" />
<path d="M589.6,20.6 L584.5,17.8 L577.0,25.1 L579.9,15.7 L569.2,13.6 L579.5,10.7 L575.1,2.4 L583.5,7.8 L590.0,1.3 L588.1,9.9 L598.5,11.1 L588.5,14.9 L589.6,20.6Z" fill="#e0405a" stroke="#e0405a" stroke-width="0.6" stroke-linejoin="round"/>
<circle cx="584.0" cy="12.8" r="1.80" fill="#c21f3c" />
<path d="M590.5,18.9 L595.5,16.3 L592.8,6.9 L599.4,13.2 L608.5,6.2 L604.1,14.9 L611.6,14.9 L604.9,19.9 L605.6,25.9 L601.0,23.0 L596.7,27.9 L596.3,21.3 L590.5,18.9Z" fill="#e0405a" stroke="#e0405a" stroke-width="0.6" stroke-linejoin="round"/>
<circle cx="600.2" cy="18.1" r="1.80" fill="#c21f3c" />
<path d="M606.6,14.8 L613.4,10.0 L614.8,1.3 L618.9,8.0 L628.8,7.2 L622.6,12.6 L628.5,17.6 L619.3,17.5 L616.0,22.9 L613.7,15.9 L606.6,14.8Z" fill="#e0405a" stroke="#e0405a" stroke-width="0.6" stroke-linejoin="round"/>
<circle cx="617.6" cy="12.8" r="1.80" fill="#c21f3c" />
<path d="M643.9,7.2 L641.8,15.5 L651.9,18.9 L640.9,20.4 L638.2,27.4 L636.2,22.0 L631.4,26.3 L632.4,18.7 L624.7,16.4 L633.3,13.8 L634.0,6.5 L638.0,12.2 L643.9,7.2Z" fill="#e0405a" stroke="#e0405a" stroke-width="0.6" stroke-linejoin="round"/>
<circle cx="637.1" cy="17.1" r="1.80" fill="#c21f3c" />
<path d="M658.8,33.1 L651.0,27.5 L645.9,31.4 L646.2,24.2 L637.2,15.6 L647.9,18.5 L651.6,8.5 L653.7,18.4 L664.8,17.2 L655.7,23.9 L658.8,33.1Z" fill="#e0405a" stroke="#e0405a" stroke-width="0.6" stroke-linejoin="round"/>
<circle cx="650.9" cy="22.5" r="1.80" fill="#c21f3c" />
<path d="M505.1,44.4 L509.6,37.1 L504.7,32.8 L511.6,32.5 L516.1,24.5 L516.6,31.9 L523.4,26.8 L519.6,35.9 L527.2,39.2 L517.6,40.5 L516.1,51.7 L512.6,41.1 L505.1,44.4Z" fill="#e0405a" stroke="#e0405a" stroke-width="0.6" stroke-linejoin="round"/>
<circle cx="514.6" cy="36.5" r="1.80" fill="#c21f3c" />
<path d="M524.3,67.6 L515.5,68.6 L510.1,79.3 L509.7,67.8 L500.9,65.9 L508.6,62.1 L505.2,54.6 L513.7,59.2 L523.5,57.5 L518.0,63.3 L524.3,67.6Z" fill="#e0405a" stroke="#e0405a" stroke-width="0.6" stroke-linejoin="round"/>
<circle cx="513.1" cy="64.2" r="1.80" fill="#c21f3c" />
<path d="M662.5,50.2 L654.0,50.8 L653.1,60.9 L649.0,50.7 L644.2,52.4 L646.6,46.3 L642.5,37.6 L649.2,42.0 L649.6,33.8 L654.2,42.1 L660.9,37.8 L656.6,46.5 L662.5,50.2Z" fill="#e0405a" stroke="#e0405a" stroke-width="0.6" stroke-linejoin="round"/>
<circle cx="651.6" cy="46.4" r="1.80" fill="#c21f3c" />
<path d="M650.1,60.6 L656.7,66.3 L665.0,60.7 L660.3,71.0 L666.9,79.4 L657.0,75.8 L653.1,81.6 L651.3,74.1 L639.9,69.1 L651.2,68.3 L650.1,60.6Z" fill="#e0405a" stroke="#e0405a" stroke-width="0.6" stroke-linejoin="round"/>
<circle cx="655.3" cy="71.1" r="1.80" fill="#c21f3c" />
<path d="M-14.0,0 C-4.9,-9.4 4.9,-9.4 14.0,0 C4.9,9.4 -4.9,9.4 -14.0,0Z" transform="translate(522.0,46.0) rotate(-60.0)" fill="#f7862a" filter="url(#blur2)" opacity="0.55"/>
<path d="M-14.0,0 C-4.9,-9.4 4.9,-9.4 14.0,0 C4.9,9.4 -4.9,9.4 -14.0,0Z" transform="translate(533.0,35.0) rotate(-25.0)" fill="#f7862a" filter="url(#blur2)" opacity="0.55"/>
<path d="M-15.4,0 C-5.4,-9.9 5.4,-9.9 15.4,0 C5.4,9.9 -5.4,9.9 -15.4,0Z" transform="translate(549.6,28.0) rotate(-8.0)" fill="#f7862a" filter="url(#blur2)" opacity="0.55"/>
<path d="M-12.6,0 C-4.4,-8.8 4.4,-8.8 12.6,0 C4.4,8.8 -4.4,8.8 -12.6,0Z" transform="translate(563.0,28.0) rotate(8.0)" fill="#f7862a" filter="url(#blur2)" opacity="0.55"/>
<path d="M-14.0,0 C-4.9,-9.9 4.9,-9.9 14.0,0 C4.9,9.9 -4.9,9.9 -14.0,0Z" transform="translate(577.4,27.5) rotate(-3.0)" fill="#f7862a" filter="url(#blur2)" opacity="0.55"/>
<path d="M-12.6,0 C-4.4,-8.8 4.4,-8.8 12.6,0 C4.4,8.8 -4.4,8.8 -12.6,0Z" transform="translate(591.0,28.5) rotate(8.0)" fill="#f7862a" filter="url(#blur2)" opacity="0.55"/>
<path d="M-15.4,0 C-5.4,-9.9 5.4,-9.9 15.4,0 C5.4,9.9 -5.4,9.9 -15.4,0Z" transform="translate(603.8,27.6) rotate(-5.0)" fill="#f7862a" filter="url(#blur2)" opacity="0.55"/>
<path d="M-12.6,0 C-4.4,-8.8 4.4,-8.8 12.6,0 C4.4,8.8 -4.4,8.8 -12.6,0Z" transform="translate(619.0,28.0) rotate(25.0)" fill="#f7862a" filter="url(#blur2)" opacity="0.55"/>
<path d="M-14.0,0 C-4.9,-9.9 4.9,-9.9 14.0,0 C4.9,9.9 -4.9,9.9 -14.0,0Z" transform="translate(630.6,32.0) rotate(40.0)" fill="#f7862a" filter="url(#blur2)" opacity="0.55"/>
<path d="M-12.6,0 C-4.4,-8.8 4.4,-8.8 12.6,0 C4.4,8.8 -4.4,8.8 -12.6,0Z" transform="translate(639.0,44.0) rotate(70.0)" fill="#f7862a" filter="url(#blur2)" opacity="0.55"/>
<path d="M-15.4,0 C-5.4,-9.9 5.4,-9.9 15.4,0 C5.4,9.9 -5.4,9.9 -15.4,0Z" transform="translate(641.5,56.6) rotate(80.0)" fill="#f7862a" filter="url(#blur2)" opacity="0.55"/>
<path d="M-15.4,0 C-5.4,-9.9 5.4,-9.9 15.4,0 C5.4,9.9 -5.4,9.9 -15.4,0Z" transform="translate(644.4,82.7) rotate(95.0)" fill="#f7862a" filter="url(#blur2)" opacity="0.55"/>
<path d="M-12.6,0 C-4.4,-8.8 4.4,-8.8 12.6,0 C4.4,8.8 -4.4,8.8 -12.6,0Z" transform="translate(643.0,100.0) rotate(80.0)" fill="#f7862a" filter="url(#blur2)" opacity="0.55"/>
<path d="M-14.0,0 C-4.9,-9.9 4.9,-9.9 14.0,0 C4.9,9.9 -4.9,9.9 -14.0,0Z" transform="translate(645.9,113.2) rotate(85.0)" fill="#f7862a" filter="url(#blur2)" opacity="0.55"/>
<path d="M-14.0,0 C-4.9,-9.9 4.9,-9.9 14.0,0 C4.9,9.9 -4.9,9.9 -14.0,0Z" transform="translate(632.3,133.1) rotate(150.0)" fill="#f7862a" filter="url(#blur2)" opacity="0.55"/>
<path d="M-14.0,0 C-4.9,-9.9 4.9,-9.9 14.0,0 C4.9,9.9 -4.9,9.9 -14.0,0Z" transform="translate(641.1,145.9) rotate(80.0)" fill="#f7862a" filter="url(#blur2)" opacity="0.55"/>
<path d="M-14.0,0 C-4.9,-9.9 4.9,-9.9 14.0,0 C4.9,9.9 -4.9,9.9 -14.0,0Z" transform="translate(628.3,169.0) rotate(135.0)" fill="#f7862a" filter="url(#blur2)" opacity="0.55"/>
<path d="M-14.0,0 C-4.9,-9.9 4.9,-9.9 14.0,0 C4.9,9.9 -4.9,9.9 -14.0,0Z" transform="translate(637.1,175.4) rotate(70.0)" fill="#f7862a" filter="url(#blur2)" opacity="0.55"/>
<path d="M-14.0,0 C-4.9,-9.9 4.9,-9.9 14.0,0 C4.9,9.9 -4.9,9.9 -14.0,0Z" transform="translate(523.4,57.0) rotate(80.0)" fill="#f7862a" filter="url(#blur2)" opacity="0.55"/>
<path d="M-14.0,0 C-4.9,-9.9 4.9,-9.9 14.0,0 C4.9,9.9 -4.9,9.9 -14.0,0Z" transform="translate(517.5,76.0) rotate(100.0)" fill="#f7862a" filter="url(#blur2)" opacity="0.55"/>
<path d="M-14.0,0 C-4.9,-9.9 4.9,-9.9 14.0,0 C4.9,9.9 -4.9,9.9 -14.0,0Z" transform="translate(520.4,97.8) rotate(75.0)" fill="#f7862a" filter="url(#blur2)" opacity="0.55"/>
<path d="M-14.0,0 C-4.9,-9.9 4.9,-9.9 14.0,0 C4.9,9.9 -4.9,9.9 -14.0,0Z" transform="translate(518.3,113.3) rotate(100.0)" fill="#f7862a" filter="url(#blur2)" opacity="0.55"/>
<path d="M-14.0,0 C-4.9,-9.9 4.9,-9.9 14.0,0 C4.9,9.9 -4.9,9.9 -14.0,0Z" transform="translate(521.3,130.0) rotate(70.0)" fill="#f7862a" filter="url(#blur2)" opacity="0.55"/>
<path d="M-14.0,0 C-4.9,-9.9 4.9,-9.9 14.0,0 C4.9,9.9 -4.9,9.9 -14.0,0Z" transform="translate(529.7,148.4) rotate(65.0)" fill="#f7862a" filter="url(#blur2)" opacity="0.55"/>
<path d="M-14.0,0 C-4.9,-9.9 4.9,-9.9 14.0,0 C4.9,9.9 -4.9,9.9 -14.0,0Z" transform="translate(530.5,168.2) rotate(100.0)" fill="#f7862a" filter="url(#blur2)" opacity="0.55"/>
<path d="M-14.0,0 C-4.9,-9.9 4.9,-9.9 14.0,0 C4.9,9.9 -4.9,9.9 -14.0,0Z" transform="translate(524.4,186.5) rotate(115.0)" fill="#f7862a" filter="url(#blur2)" opacity="0.55"/>
<path d="M-12.6,0 C-4.4,-8.8 4.4,-8.8 12.6,0 C4.4,8.8 -4.4,8.8 -12.6,0Z" transform="translate(640.0,124.0) rotate(100.0)" fill="#f7862a" filter="url(#blur2)" opacity="0.55"/>
<path d="M-12.6,0 C-4.4,-8.8 4.4,-8.8 12.6,0 C4.4,8.8 -4.4,8.8 -12.6,0Z" transform="translate(636.0,158.0) rotate(60.0)" fill="#f7862a" filter="url(#blur2)" opacity="0.55"/>
<path d="M-11.2,0 C-3.9,-8.3 3.9,-8.3 11.2,0 C3.9,8.3 -3.9,8.3 -11.2,0Z" transform="translate(633.0,188.0) rotate(110.0)" fill="#f7862a" filter="url(#blur2)" opacity="0.55"/>
<path d="M-11.2,0 C-3.9,-8.3 3.9,-8.3 11.2,0 C3.9,8.3 -3.9,8.3 -11.2,0Z" transform="translate(527.0,193.0) rotate(70.0)" fill="#f7862a" filter="url(#blur2)" opacity="0.55"/>
<path d="M-5.5,0 C-1.9,-2.1 1.9,-2.1 5.5,0 C1.9,2.1 -1.9,2.1 -5.5,0Z" transform="translate(519.2,50.8) rotate(-95.0)" fill="#f68a2e"/>
<path d="M-5.5,0 C-1.9,-2.1 1.9,-2.1 5.5,0 C1.9,2.1 -1.9,2.1 -5.5,0Z" transform="translate(524.8,41.2) rotate(-25.0)" fill="#f68a2e"/>
<path d="M-13.0,0 C-4.5,-7.7 4.5,-7.7 13.0,0 C4.5,7.7 -4.5,7.7 -13.0,0Z" transform="translate(522.0,46.0) rotate(-60.0)" fill="#f7922f" stroke="#ee7416" stroke-width="0.6"/>
<circle cx="522.0" cy="46.0" r="2.20" fill="#f07010" />
<path d="M-5.5,0 C-1.9,-2.1 1.9,-2.1 5.5,0 C1.9,2.1 -1.9,2.1 -5.5,0Z" transform="translate(528.0,37.3) rotate(10.0)" fill="#f68a2e"/>
<path d="M-5.5,0 C-1.9,-2.1 1.9,-2.1 5.5,0 C1.9,2.1 -1.9,2.1 -5.5,0Z" transform="translate(538.0,32.7) rotate(10.0)" fill="#f68a2e"/>
<path d="M-13.0,0 C-4.5,-7.7 4.5,-7.7 13.0,0 C4.5,7.7 -4.5,7.7 -13.0,0Z" transform="translate(533.0,35.0) rotate(-25.0)" fill="#f7922f" stroke="#ee7416" stroke-width="0.6"/>
<circle cx="533.0" cy="35.0" r="2.20" fill="#f07010" />
<path d="M-6.1,0 C-2.1,-2.2 2.1,-2.2 6.1,0 C2.1,2.2 -2.1,2.2 -6.1,0Z" transform="translate(543.6,28.8) rotate(-43.0)" fill="#f68a2e"/>
<path d="M-6.1,0 C-2.1,-2.2 2.1,-2.2 6.1,0 C2.1,2.2 -2.1,2.2 -6.1,0Z" transform="translate(555.6,27.2) rotate(-43.0)" fill="#f68a2e"/>
<path d="M-14.3,0 C-5.0,-8.2 5.0,-8.2 14.3,0 C5.0,8.2 -5.0,8.2 -14.3,0Z" transform="translate(549.6,28.0) rotate(-8.0)" fill="#f7922f" stroke="#ee7416" stroke-width="0.6"/>
<circle cx="549.6" cy="28.0" r="2.20" fill="#f07010" />
<path d="M-5.0,0 C-1.7,-2.0 1.7,-2.0 5.0,0 C1.7,2.0 -1.7,2.0 -5.0,0Z" transform="translate(558.1,27.3) rotate(43.0)" fill="#f68a2e"/>
<path d="M-5.0,0 C-1.7,-2.0 1.7,-2.0 5.0,0 C1.7,2.0 -1.7,2.0 -5.0,0Z" transform="translate(567.9,28.7) rotate(43.0)" fill="#f68a2e"/>
<path d="M-11.7,0 C-4.1,-7.3 4.1,-7.3 11.7,0 C4.1,7.3 -4.1,7.3 -11.7,0Z" transform="translate(563.0,28.0) rotate(8.0)" fill="#f7922f" stroke="#ee7416" stroke-width="0.6"/>
<circle cx="563.0" cy="28.0" r="2.20" fill="#f07010" />
<path d="M-5.5,0 C-1.9,-2.2 1.9,-2.2 5.5,0 C1.9,2.2 -1.9,2.2 -5.5,0Z" transform="translate(571.9,27.8) rotate(-38.0)" fill="#f68a2e"/>
<path d="M-5.5,0 C-1.9,-2.2 1.9,-2.2 5.5,0 C1.9,2.2 -1.9,2.2 -5.5,0Z" transform="translate(582.9,27.2) rotate(-38.0)" fill="#f68a2e"/>
<path d="M-13.0,0 C-4.5,-8.2 4.5,-8.2 13.0,0 C4.5,8.2 -4.5,8.2 -13.0,0Z" transform="translate(577.4,27.5) rotate(-3.0)" fill="#f7922f" stroke="#ee7416" stroke-width="0.6"/>
<circle cx="577.4" cy="27.5" r="2.20" fill="#f07010" />
<path d="M-5.0,0 C-1.7,-2.0 1.7,-2.0 5.0,0 C1.7,2.0 -1.7,2.0 -5.0,0Z" transform="translate(586.1,27.8) rotate(43.0)" fill="#f68a2e"/>
<path d="M-5.0,0 C-1.7,-2.0 1.7,-2.0 5.0,0 C1.7,2.0 -1.7,2.0 -5.0,0Z" transform="translate(595.9,29.2) rotate(-27.0)" fill="#f68a2e"/>
<path d="M-11.7,0 C-4.1,-7.3 4.1,-7.3 11.7,0 C4.1,7.3 -4.1,7.3 -11.7,0Z" transform="translate(591.0,28.5) rotate(8.0)" fill="#f7922f" stroke="#ee7416" stroke-width="0.6"/>
<circle cx="591.0" cy="28.5" r="2.20" fill="#f07010" />
<path d="M-6.1,0 C-2.1,-2.2 2.1,-2.2 6.1,0 C2.1,2.2 -2.1,2.2 -6.1,0Z" transform="translate(597.8,28.1) rotate(-40.0)" fill="#f68a2e"/>
<path d="M-6.1,0 C-2.1,-2.2 2.1,-2.2 6.1,0 C2.1,2.2 -2.1,2.2 -6.1,0Z" transform="translate(609.8,27.1) rotate(-40.0)" fill="#f68a2e"/>
<path d="M-14.3,0 C-5.0,-8.2 5.0,-8.2 14.3,0 C5.0,8.2 -5.0,8.2 -14.3,0Z" transform="translate(603.8,27.6) rotate(-5.0)" fill="#f7922f" stroke="#ee7416" stroke-width="0.6"/>
<circle cx="603.8" cy="27.6" r="2.20" fill="#f07010" />
<path d="M-5.0,0 C-1.7,-2.0 1.7,-2.0 5.0,0 C1.7,2.0 -1.7,2.0 -5.0,0Z" transform="translate(614.5,25.9) rotate(60.0)" fill="#f68a2e"/>
<path d="M-5.0,0 C-1.7,-2.0 1.7,-2.0 5.0,0 C1.7,2.0 -1.7,2.0 -5.0,0Z" transform="translate(623.5,30.1) rotate(-10.0)" fill="#f68a2e"/>
<path d="M-11.7,0 C-4.1,-7.3 4.1,-7.3 11.7,0 C4.1,7.3 -4.1,7.3 -11.7,0Z" transform="translate(619.0,28.0) rotate(25.0)" fill="#f7922f" stroke="#ee7416" stroke-width="0.6"/>
<circle cx="619.0" cy="28.0" r="2.20" fill="#f07010" />
<path d="M-5.5,0 C-1.9,-2.2 1.9,-2.2 5.5,0 C1.9,2.2 -1.9,2.2 -5.5,0Z" transform="translate(626.4,28.5) rotate(75.0)" fill="#f68a2e"/>
<path d="M-5.5,0 C-1.9,-2.2 1.9,-2.2 5.5,0 C1.9,2.2 -1.9,2.2 -5.5,0Z" transform="translate(634.8,35.5) rotate(75.0)" fill="#f68a2e"/>
<path d="M-13.0,0 C-4.5,-8.2 4.5,-8.2 13.0,0 C4.5,8.2 -4.5,8.2 -13.0,0Z" transform="translate(630.6,32.0) rotate(40.0)" fill="#f7922f" stroke="#ee7416" stroke-width="0.6"/>
<circle cx="630.6" cy="32.0" r="2.20" fill="#f07010" />
<path d="M-5.0,0 C-1.7,-2.0 1.7,-2.0 5.0,0 C1.7,2.0 -1.7,2.0 -5.0,0Z" transform="translate(637.3,39.3) rotate(35.0)" fill="#f68a2e"/>
<path d="M-5.0,0 C-1.7,-2.0 1.7,-2.0 5.0,0 C1.7,2.0 -1.7,2.0 -5.0,0Z" transform="translate(640.7,48.7) rotate(105.0)" fill="#f68a2e"/>
<path d="M-11.7,0 C-4.1,-7.3 4.1,-7.3 11.7,0 C4.1,7.3 -4.1,7.3 -11.7,0Z" transform="translate(639.0,44.0) rotate(70.0)" fill="#f7922f" stroke="#ee7416" stroke-width="0.6"/>
<circle cx="639.0" cy="44.0" r="2.20" fill="#f07010" />
<path d="M-6.1,0 C-2.1,-2.2 2.1,-2.2 6.1,0 C2.1,2.2 -2.1,2.2 -6.1,0Z" transform="translate(640.4,50.6) rotate(45.0)" fill="#f68a2e"/>
<path d="M-6.1,0 C-2.1,-2.2 2.1,-2.2 6.1,0 C2.1,2.2 -2.1,2.2 -6.1,0Z" transform="translate(642.6,62.6) rotate(45.0)" fill="#f68a2e"/>
<path d="M-14.3,0 C-5.0,-8.2 5.0,-8.2 14.3,0 C5.0,8.2 -5.0,8.2 -14.3,0Z" transform="translate(641.5,56.6) rotate(80.0)" fill="#f7922f" stroke="#ee7416" stroke-width="0.6"/>
<circle cx="641.5" cy="56.6" r="2.20" fill="#f07010" />
<path d="M-6.1,0 C-2.1,-2.2 2.1,-2.2 6.1,0 C2.1,2.2 -2.1,2.2 -6.1,0Z" transform="translate(644.9,76.7) rotate(60.0)" fill="#f68a2e"/>
<path d="M-6.1,0 C-2.1,-2.2 2.1,-2.2 6.1,0 C2.1,2.2 -2.1,2.2 -6.1,0Z" transform="translate(643.9,88.7) rotate(60.0)" fill="#f68a2e"/>
<path d="M-14.3,0 C-5.0,-8.2 5.0,-8.2 14.3,0 C5.0,8.2 -5.0,8.2 -14.3,0Z" transform="translate(644.4,82.7) rotate(95.0)" fill="#f7922f" stroke="#ee7416" stroke-width="0.6"/>
<circle cx="644.4" cy="82.7" r="2.20" fill="#f07010" />
<path d="M-5.0,0 C-1.7,-2.0 1.7,-2.0 5.0,0 C1.7,2.0 -1.7,2.0 -5.0,0Z" transform="translate(642.1,95.1) rotate(45.0)" fill="#f68a2e"/>
<path d="M-5.0,0 C-1.7,-2.0 1.7,-2.0 5.0,0 C1.7,2.0 -1.7,2.0 -5.0,0Z" transform="translate(643.9,104.9) rotate(45.0)" fill="#f68a2e"/>
<path d="M-11.7,0 C-4.1,-7.3 4.1,-7.3 11.7,0 C4.1,7.3 -4.1,7.3 -11.7,0Z" transform="translate(643.0,100.0) rotate(80.0)" fill="#f7922f" stroke="#ee7416" stroke-width="0.6"/>
<circle cx="643.0" cy="100.0" r="2.20" fill="#f07010" />
<path d="M-5.5,0 C-1.9,-2.2 1.9,-2.2 5.5,0 C1.9,2.2 -1.9,2.2 -5.5,0Z" transform="translate(645.4,107.7) rotate(50.0)" fill="#f68a2e"/>
<path d="M-5.5,0 C-1.9,-2.2 1.9,-2.2 5.5,0 C1.9,2.2 -1.9,2.2 -5.5,0Z" transform="translate(646.4,118.7) rotate(50.0)" fill="#f68a2e"/>
<path d="M-13.0,0 C-4.5,-8.2 4.5,-8.2 13.0,0 C4.5,8.2 -4.5,8.2 -13.0,0Z" transform="translate(645.9,113.2) rotate(85.0)" fill="#f7922f" stroke="#ee7416" stroke-width="0.6"/>
<circle cx="645.9" cy="113.2" r="2.20" fill="#f07010" />
<path d="M-5.5,0 C-1.9,-2.2 1.9,-2.2 5.5,0 C1.9,2.2 -1.9,2.2 -5.5,0Z" transform="translate(637.1,130.3) rotate(185.0)" fill="#f68a2e"/>
<path d="M-5.5,0 C-1.9,-2.2 1.9,-2.2 5.5,0 C1.9,2.2 -1.9,2.2 -5.5,0Z" transform="translate(627.5,135.8) rotate(185.0)" fill="#f68a2e"/>
<path d="M-13.0,0 C-4.5,-8.2 4.5,-8.2 13.0,0 C4.5,8.2 -4.5,8.2 -13.0,0Z" transform="translate(632.3,133.1) rotate(150.0)" fill="#f7922f" stroke="#ee7416" stroke-width="0.6"/>
<circle cx="632.3" cy="133.1" r="2.20" fill="#f07010" />
<path d="M-5.5,0 C-1.9,-2.2 1.9,-2.2 5.5,0 C1.9,2.2 -1.9,2.2 -5.5,0Z" transform="translate(640.1,140.5) rotate(45.0)" fill="#f68a2e"/>
<path d="M-5.5,0 C-1.9,-2.2 1.9,-2.2 5.5,0 C1.9,2.2 -1.9,2.2 -5.5,0Z" transform="translate(642.1,151.3) rotate(45.0)" fill="#f68a2e"/>
<path d="M-13.0,0 C-4.5,-8.2 4.5,-8.2 13.0,0 C4.5,8.2 -4.5,8.2 -13.0,0Z" transform="translate(641.1,145.9) rotate(80.0)" fill="#f7922f" stroke="#ee7416" stroke-width="0.6"/>
<circle cx="641.1" cy="145.9" r="2.20" fill="#f07010" />
<path d="M-5.5,0 C-1.9,-2.2 1.9,-2.2 5.5,0 C1.9,2.2 -1.9,2.2 -5.5,0Z" transform="translate(632.2,165.1) rotate(100.0)" fill="#f68a2e"/>
<path d="M-5.5,0 C-1.9,-2.2 1.9,-2.2 5.5,0 C1.9,2.2 -1.9,2.2 -5.5,0Z" transform="translate(624.4,172.9) rotate(100.0)" fill="#f68a2e"/>
<path d="M-13.0,0 C-4.5,-8.2 4.5,-8.2 13.0,0 C4.5,8.2 -4.5,8.2 -13.0,0Z" transform="translate(628.3,169.0) rotate(135.0)" fill="#f7922f" stroke="#ee7416" stroke-width="0.6"/>
<circle cx="628.3" cy="169.0" r="2.20" fill="#f07010" />
<path d="M-5.5,0 C-1.9,-2.2 1.9,-2.2 5.5,0 C1.9,2.2 -1.9,2.2 -5.5,0Z" transform="translate(635.2,170.2) rotate(35.0)" fill="#f68a2e"/>
<path d="M-5.5,0 C-1.9,-2.2 1.9,-2.2 5.5,0 C1.9,2.2 -1.9,2.2 -5.5,0Z" transform="translate(639.0,180.6) rotate(35.0)" fill="#f68a2e"/>
<path d="M-13.0,0 C-4.5,-8.2 4.5,-8.2 13.0,0 C4.5,8.2 -4.5,8.2 -13.0,0Z" transform="translate(637.1,175.4) rotate(70.0)" fill="#f7922f" stroke="#ee7416" stroke-width="0.6"/>
<circle cx="637.1" cy="175.4" r="2.20" fill="#f07010" />
<path d="M-5.5,0 C-1.9,-2.2 1.9,-2.2 5.5,0 C1.9,2.2 -1.9,2.2 -5.5,0Z" transform="translate(522.4,51.6) rotate(115.0)" fill="#f68a2e"/>
<path d="M-5.5,0 C-1.9,-2.2 1.9,-2.2 5.5,0 C1.9,2.2 -1.9,2.2 -5.5,0Z" transform="translate(524.4,62.4) rotate(115.0)" fill="#f68a2e"/>
<path d="M-13.0,0 C-4.5,-8.2 4.5,-8.2 13.0,0 C4.5,8.2 -4.5,8.2 -13.0,0Z" transform="translate(523.4,57.0) rotate(80.0)" fill="#f7922f" stroke="#ee7416" stroke-width="0.6"/>
<circle cx="523.4" cy="57.0" r="2.20" fill="#f07010" />
<path d="M-5.5,0 C-1.9,-2.2 1.9,-2.2 5.5,0 C1.9,2.2 -1.9,2.2 -5.5,0Z" transform="translate(518.5,70.6) rotate(135.0)" fill="#f68a2e"/>
<path d="M-5.5,0 C-1.9,-2.2 1.9,-2.2 5.5,0 C1.9,2.2 -1.9,2.2 -5.5,0Z" transform="translate(516.5,81.4) rotate(65.0)" fill="#f68a2e"/>
<path d="M-13.0,0 C-4.5,-8.2 4.5,-8.2 13.0,0 C4.5,8.2 -4.5,8.2 -13.0,0Z" transform="translate(517.5,76.0) rotate(100.0)" fill="#f7922f" stroke="#ee7416" stroke-width="0.6"/>
<circle cx="517.5" cy="76.0" r="2.20" fill="#f07010" />
<path d="M-5.5,0 C-1.9,-2.2 1.9,-2.2 5.5,0 C1.9,2.2 -1.9,2.2 -5.5,0Z" transform="translate(519.0,92.5) rotate(110.0)" fill="#f68a2e"/>
<path d="M-5.5,0 C-1.9,-2.2 1.9,-2.2 5.5,0 C1.9,2.2 -1.9,2.2 -5.5,0Z" transform="translate(521.8,103.1) rotate(110.0)" fill="#f68a2e"/>
<path d="M-13.0,0 C-4.5,-8.2 4.5,-8.2 13.0,0 C4.5,8.2 -4.5,8.2 -13.0,0Z" transform="translate(520.4,97.8) rotate(75.0)" fill="#f7922f" stroke="#ee7416" stroke-width="0.6"/>
<circle cx="520.4" cy="97.8" r="2.20" fill="#f07010" />
<path d="M-5.5,0 C-1.9,-2.2 1.9,-2.2 5.5,0 C1.9,2.2 -1.9,2.2 -5.5,0Z" transform="translate(519.3,107.9) rotate(65.0)" fill="#f68a2e"/>
<path d="M-5.5,0 C-1.9,-2.2 1.9,-2.2 5.5,0 C1.9,2.2 -1.9,2.2 -5.5,0Z" transform="translate(517.3,118.7) rotate(135.0)" fill="#f68a2e"/>
<path d="M-13.0,0 C-4.5,-8.2 4.5,-8.2 13.0,0 C4.5,8.2 -4.5,8.2 -13.0,0Z" transform="translate(518.3,113.3) rotate(100.0)" fill="#f7922f" stroke="#ee7416" stroke-width="0.6"/>
<circle cx="518.3" cy="113.3" r="2.20" fill="#f07010" />
<path d="M-5.5,0 C-1.9,-2.2 1.9,-2.2 5.5,0 C1.9,2.2 -1.9,2.2 -5.5,0Z" transform="translate(519.4,124.8) rotate(35.0)" fill="#f68a2e"/>
<path d="M-5.5,0 C-1.9,-2.2 1.9,-2.2 5.5,0 C1.9,2.2 -1.9,2.2 -5.5,0Z" transform="translate(523.2,135.2) rotate(105.0)" fill="#f68a2e"/>
<path d="M-13.0,0 C-4.5,-8.2 4.5,-8.2 13.0,0 C4.5,8.2 -4.5,8.2 -13.0,0Z" transform="translate(521.3,130.0) rotate(70.0)" fill="#f7922f" stroke="#ee7416" stroke-width="0.6"/>
<circle cx="521.3" cy="130.0" r="2.20" fill="#f07010" />
<path d="M-5.5,0 C-1.9,-2.2 1.9,-2.2 5.5,0 C1.9,2.2 -1.9,2.2 -5.5,0Z" transform="translate(527.4,143.4) rotate(30.0)" fill="#f68a2e"/>
<path d="M-5.5,0 C-1.9,-2.2 1.9,-2.2 5.5,0 C1.9,2.2 -1.9,2.2 -5.5,0Z" transform="translate(532.0,153.4) rotate(30.0)" fill="#f68a2e"/>
<path d="M-13.0,0 C-4.5,-8.2 4.5,-8.2 13.0,0 C4.5,8.2 -4.5,8.2 -13.0,0Z" transform="translate(529.7,148.4) rotate(65.0)" fill="#f7922f" stroke="#ee7416" stroke-width="0.6"/>
<circle cx="529.7" cy="148.4" r="2.20" fill="#f07010" />
<path d="M-5.5,0 C-1.9,-2.2 1.9,-2.2 5.5,0 C1.9,2.2 -1.9,2.2 -5.5,0Z" transform="translate(531.5,162.8) rotate(65.0)" fill="#f68a2e"/>
<path d="M-5.5,0 C-1.9,-2.2 1.9,-2.2 5.5,0 C1.9,2.2 -1.9,2.2 -5.5,0Z" transform="translate(529.5,173.6) rotate(65.0)" fill="#f68a2e"/>
<path d="M-13.0,0 C-4.5,-8.2 4.5,-8.2 13.0,0 C4.5,8.2 -4.5,8.2 -13.0,0Z" transform="translate(530.5,168.2) rotate(100.0)" fill="#f7922f" stroke="#ee7416" stroke-width="0.6"/>
<circle cx="530.5" cy="168.2" r="2.20" fill="#f07010" />
<path d="M-5.5,0 C-1.9,-2.2 1.9,-2.2 5.5,0 C1.9,2.2 -1.9,2.2 -5.5,0Z" transform="translate(526.7,181.5) rotate(150.0)" fill="#f68a2e"/>
<path d="M-5.5,0 C-1.9,-2.2 1.9,-2.2 5.5,0 C1.9,2.2 -1.9,2.2 -5.5,0Z" transform="translate(522.1,191.5) rotate(150.0)" fill="#f68a2e"/>
<path d="M-13.0,0 C-4.5,-8.2 4.5,-8.2 13.0,0 C4.5,8.2 -4.5,8.2 -13.0,0Z" transform="translate(524.4,186.5) rotate(115.0)" fill="#f7922f" stroke="#ee7416" stroke-width="0.6"/>
<circle cx="524.4" cy="186.5" r="2.20" fill="#f07010" />
<path d="M-5.0,0 C-1.7,-2.0 1.7,-2.0 5.0,0 C1.7,2.0 -1.7,2.0 -5.0,0Z" transform="translate(640.9,119.1) rotate(65.0)" fill="#f68a2e"/>
<path d="M-5.0,0 C-1.7,-2.0 1.7,-2.0 5.0,0 C1.7,2.0 -1.7,2.0 -5.0,0Z" transform="translate(639.1,128.9) rotate(135.0)" fill="#f68a2e"/>
<path d="M-11.7,0 C-4.1,-7.3 4.1,-7.3 11.7,0 C4.1,7.3 -4.1,7.3 -11.7,0Z" transform="translate(640.0,124.0) rotate(100.0)" fill="#f7922f" stroke="#ee7416" stroke-width="0.6"/>
<circle cx="640.0" cy="124.0" r="2.20" fill="#f07010" />
<path d="M-5.0,0 C-1.7,-2.0 1.7,-2.0 5.0,0 C1.7,2.0 -1.7,2.0 -5.0,0Z" transform="translate(633.5,153.7) rotate(25.0)" fill="#f68a2e"/>
<path d="M-5.0,0 C-1.7,-2.0 1.7,-2.0 5.0,0 C1.7,2.0 -1.7,2.0 -5.0,0Z" transform="translate(638.5,162.3) rotate(95.0)" fill="#f68a2e"/>
<path d="M-11.7,0 C-4.1,-7.3 4.1,-7.3 11.7,0 C4.1,7.3 -4.1,7.3 -11.7,0Z" transform="translate(636.0,158.0) rotate(60.0)" fill="#f7922f" stroke="#ee7416" stroke-width="0.6"/>
<circle cx="636.0" cy="158.0" r="2.20" fill="#f07010" />
<path d="M-4.4,0 C-1.5,-1.9 1.5,-1.9 4.4,0 C1.5,1.9 -1.5,1.9 -4.4,0Z" transform="translate(634.5,183.9) rotate(75.0)" fill="#f68a2e"/>
<path d="M-4.4,0 C-1.5,-1.9 1.5,-1.9 4.4,0 C1.5,1.9 -1.5,1.9 -4.4,0Z" transform="translate(631.5,192.1) rotate(75.0)" fill="#f68a2e"/>
<path d="M-10.4,0 C-3.6,-6.9 3.6,-6.9 10.4,0 C3.6,6.9 -3.6,6.9 -10.4,0Z" transform="translate(633.0,188.0) rotate(110.0)" fill="#f7922f" stroke="#ee7416" stroke-width="0.6"/>
<circle cx="633.0" cy="188.0" r="2.20" fill="#f07010" />
<path d="M-4.4,0 C-1.5,-1.9 1.5,-1.9 4.4,0 C1.5,1.9 -1.5,1.9 -4.4,0Z" transform="translate(525.5,188.9) rotate(35.0)" fill="#f68a2e"/>
<path d="M-4.4,0 C-1.5,-1.9 1.5,-1.9 4.4,0 C1.5,1.9 -1.5,1.9 -4.4,0Z" transform="translate(528.5,197.1) rotate(105.0)" fill="#f68a2e"/>
<path d="M-10.4,0 C-3.6,-6.9 3.6,-6.9 10.4,0 C3.6,6.9 -3.6,6.9 -10.4,0Z" transform="translate(527.0,193.0) rotate(70.0)" fill="#f7922f" stroke="#ee7416" stroke-width="0.6"/>
<circle cx="527.0" cy="193.0" r="2.20" fill="#f07010" />
<path d="M500.5,121.5 C530,110 570,103 610,104.5 C640,106 660,113 674,121" fill="none" stroke="#333" stroke-width="0.7" stroke-dasharray="2.2,2"/>
<path d="M543,70 C550,52 575,40 600,40" fill="none" stroke="#c8e6e2" stroke-width="2.4"/>
<path d="M598,40 C615,40 628,52 632,70 C638,100 630,150 598,172" fill="none" stroke="#b9c0e0" stroke-width="2.4"/>
<path d="M591.9,175.1 L596.5,165.5 L602.5,172.5 Z" fill="#b9c0e0"/>
<path d="M543,100 L550,121" stroke="#c8dcdc" stroke-width="3"/>
<circle cx="595.3" cy="56.4" r="2.75" fill="#74a8dc" stroke="#a9c9ea" stroke-width="0.5"/>
<circle cx="591.0" cy="59.3" r="2.75" fill="#74a8dc" stroke="#a9c9ea" stroke-width="0.5"/>
<circle cx="594.7" cy="62.6" r="2.75" fill="#74a8dc" stroke="#a9c9ea" stroke-width="0.5"/>
<circle cx="584.7" cy="70.7" r="2.75" fill="#74a8dc" stroke="#a9c9ea" stroke-width="0.5"/>
<circle cx="581.5" cy="66.5" r="2.75" fill="#74a8dc" stroke="#a9c9ea" stroke-width="0.5"/>
<circle cx="578.6" cy="71.3" r="2.75" fill="#74a8dc" stroke="#a9c9ea" stroke-width="0.5"/>
<circle cx="578.6" cy="65.9" r="2.75" fill="#74a8dc" stroke="#a9c9ea" stroke-width="0.5"/>
<circle cx="573.3" cy="69.6" r="2.75" fill="#74a8dc" stroke="#a9c9ea" stroke-width="0.5"/>
<circle cx="574.0" cy="64.0" r="2.75" fill="#74a8dc" stroke="#a9c9ea" stroke-width="0.5"/>
<circle cx="569.2" cy="64.6" r="2.75" fill="#74a8dc" stroke="#a9c9ea" stroke-width="0.5"/>
<circle cx="572.1" cy="61.6" r="2.75" fill="#74a8dc" stroke="#a9c9ea" stroke-width="0.5"/>
<circle cx="566.7" cy="54.2" r="2.75" fill="#74a8dc" stroke="#a9c9ea" stroke-width="0.5"/>
<circle cx="571.7" cy="53.6" r="2.75" fill="#74a8dc" stroke="#a9c9ea" stroke-width="0.5"/>
<circle cx="570.1" cy="49.2" r="2.75" fill="#74a8dc" stroke="#a9c9ea" stroke-width="0.5"/>
<circle cx="574.3" cy="51.2" r="2.75" fill="#74a8dc" stroke="#a9c9ea" stroke-width="0.5"/>
<circle cx="572.9" cy="46.2" r="2.75" fill="#74a8dc" stroke="#a9c9ea" stroke-width="0.5"/>
<circle cx="577.1" cy="48.6" r="2.75" fill="#74a8dc" stroke="#a9c9ea" stroke-width="0.5"/>
<circle cx="578.5" cy="44.3" r="2.75" fill="#74a8dc" stroke="#a9c9ea" stroke-width="0.5"/>
<circle cx="582.8" cy="48.3" r="2.75" fill="#74a8dc" stroke="#a9c9ea" stroke-width="0.5"/>
<circle cx="589.3" cy="52.4" r="2.75" fill="#74a8dc" stroke="#a9c9ea" stroke-width="0.5"/>
<circle cx="594.2" cy="51.4" r="2.75" fill="#74a8dc" stroke="#a9c9ea" stroke-width="0.5"/>
<circle cx="591.2" cy="56.0" r="2.75" fill="#74a8dc" stroke="#a9c9ea" stroke-width="0.5"/>
<path d="M559.0,60.1 Q577.7,54.0 589.6,41.1 Q586.5,56.7 594.4,71.0 Q578.8,61.5 559.0,60.1Z" fill="#5eb04b"/>
<ellipse cx="581.0" cy="57.4" rx="3.1" ry="2.6" fill="#3f8f30"/>
<circle cx="562.2" cy="89.2" r="2.75" fill="#74a8dc" stroke="#a9c9ea" stroke-width="0.5"/>
<circle cx="556.9" cy="89.5" r="2.75" fill="#74a8dc" stroke="#a9c9ea" stroke-width="0.5"/>
<circle cx="559.1" cy="94.0" r="2.75" fill="#74a8dc" stroke="#a9c9ea" stroke-width="0.5"/>
<circle cx="554.0" cy="91.8" r="2.75" fill="#74a8dc" stroke="#a9c9ea" stroke-width="0.5"/>
<circle cx="553.9" cy="96.1" r="2.75" fill="#74a8dc" stroke="#a9c9ea" stroke-width="0.5"/>
<circle cx="550.0" cy="93.5" r="2.75" fill="#74a8dc" stroke="#a9c9ea" stroke-width="0.5"/>
<circle cx="547.7" cy="97.1" r="2.75" fill="#74a8dc" stroke="#a9c9ea" stroke-width="0.5"/>
<circle cx="547.0" cy="92.6" r="2.75" fill="#74a8dc" stroke="#a9c9ea" stroke-width="0.5"/>
<circle cx="541.0" cy="87.5" r="2.75" fill="#74a8dc" stroke="#a9c9ea" stroke-width="0.5"/>
<circle cx="536.2" cy="86.9" r="2.75" fill="#74a8dc" stroke="#a9c9ea" stroke-width="0.5"/>
<circle cx="539.6" cy="84.3" r="2.75" fill="#74a8dc" stroke="#a9c9ea" stroke-width="0.5"/>
<circle cx="536.0" cy="82.2" r="2.75" fill="#74a8dc" stroke="#a9c9ea" stroke-width="0.5"/>
<circle cx="541.2" cy="81.5" r="2.75" fill="#74a8dc" stroke="#a9c9ea" stroke-width="0.5"/>
<circle cx="538.2" cy="77.5" r="2.75" fill="#74a8dc" stroke="#a9c9ea" stroke-width="0.5"/>
<circle cx="543.0" cy="78.2" r="2.75" fill="#74a8dc" stroke="#a9c9ea" stroke-width="0.5"/>
<circle cx="551.0" cy="76.5" r="2.75" fill="#74a8dc" stroke="#a9c9ea" stroke-width="0.5"/>
<circle cx="554.4" cy="73.2" r="2.75" fill="#74a8dc" stroke="#a9c9ea" stroke-width="0.5"/>
<circle cx="554.3" cy="77.8" r="2.75" fill="#74a8dc" stroke="#a9c9ea" stroke-width="0.5"/>
<circle cx="558.6" cy="74.5" r="2.75" fill="#74a8dc" stroke="#a9c9ea" stroke-width="0.5"/>
<circle cx="556.8" cy="79.1" r="2.75" fill="#74a8dc" stroke="#a9c9ea" stroke-width="0.5"/>
<circle cx="562.7" cy="79.9" r="2.75" fill="#74a8dc" stroke="#a9c9ea" stroke-width="0.5"/>
<path d="M543.4,67.3 Q552.7,80.3 568.6,84.7 Q550.9,89.0 536.2,101.9 Q544.6,84.6 543.4,67.3Z" fill="#5eb04b"/>
<ellipse cx="549.4" cy="84.6" rx="3.1" ry="2.6" fill="#3f8f30"/>
<circle cx="629.3" cy="83.1" r="2.75" fill="#74a8dc" stroke="#a9c9ea" stroke-width="0.5"/>
<circle cx="624.7" cy="84.0" r="2.75" fill="#74a8dc" stroke="#a9c9ea" stroke-width="0.5"/>
<circle cx="619.8" cy="89.6" r="2.75" fill="#74a8dc" stroke="#a9c9ea" stroke-width="0.5"/>
<circle cx="619.0" cy="94.2" r="2.75" fill="#74a8dc" stroke="#a9c9ea" stroke-width="0.5"/>
<circle cx="617.2" cy="90.3" r="2.75" fill="#74a8dc" stroke="#a9c9ea" stroke-width="0.5"/>
<circle cx="614.7" cy="95.0" r="2.75" fill="#74a8dc" stroke="#a9c9ea" stroke-width="0.5"/>
<circle cx="613.2" cy="90.3" r="2.75" fill="#74a8dc" stroke="#a9c9ea" stroke-width="0.5"/>
<circle cx="609.8" cy="93.0" r="2.75" fill="#74a8dc" stroke="#a9c9ea" stroke-width="0.5"/>
<circle cx="606.8" cy="85.2" r="2.75" fill="#74a8dc" stroke="#a9c9ea" stroke-width="0.5"/>
<circle cx="602.1" cy="85.8" r="2.75" fill="#74a8dc" stroke="#a9c9ea" stroke-width="0.5"/>
<circle cx="605.9" cy="81.6" r="2.75" fill="#74a8dc" stroke="#a9c9ea" stroke-width="0.5"/>
<circle cx="602.5" cy="80.1" r="2.75" fill="#74a8dc" stroke="#a9c9ea" stroke-width="0.5"/>
<circle cx="607.3" cy="78.1" r="2.75" fill="#74a8dc" stroke="#a9c9ea" stroke-width="0.5"/>
<circle cx="604.8" cy="74.9" r="2.75" fill="#74a8dc" stroke="#a9c9ea" stroke-width="0.5"/>
<circle cx="609.2" cy="75.8" r="2.75" fill="#74a8dc" stroke="#a9c9ea" stroke-width="0.5"/>
<circle cx="608.1" cy="71.1" r="2.75" fill="#74a8dc" stroke="#a9c9ea" stroke-width="0.5"/>
<circle cx="620.1" cy="69.6" r="2.75" fill="#74a8dc" stroke="#a9c9ea" stroke-width="0.5"/>
<circle cx="620.2" cy="75.0" r="2.75" fill="#74a8dc" stroke="#a9c9ea" stroke-width="0.5"/>
<circle cx="624.9" cy="72.5" r="2.75" fill="#74a8dc" stroke="#a9c9ea" stroke-width="0.5"/>
<circle cx="623.4" cy="77.3" r="2.75" fill="#74a8dc" stroke="#a9c9ea" stroke-width="0.5"/>
<circle cx="628.8" cy="76.9" r="2.75" fill="#74a8dc" stroke="#a9c9ea" stroke-width="0.5"/>
<circle cx="624.7" cy="81.1" r="2.75" fill="#74a8dc" stroke="#a9c9ea" stroke-width="0.5"/>
<path d="M613.8,60.8 Q618.8,78.9 630.3,90.5 Q616.1,87.5 602.9,95.3 Q612.0,80.1 613.8,60.8Z" fill="#5eb04b"/>
<ellipse cx="615.6" cy="82.2" rx="3.1" ry="2.6" fill="#3f8f30"/>
<circle cx="585.0" cy="165.9" r="2.75" fill="#4a70a8" stroke="#6e8ec0" stroke-width="0.5"/>
<circle cx="581.2" cy="167.9" r="2.75" fill="#4a70a8" stroke="#6e8ec0" stroke-width="0.5"/>
<circle cx="583.6" cy="171.8" r="2.75" fill="#4a70a8" stroke="#6e8ec0" stroke-width="0.5"/>
<circle cx="579.0" cy="172.3" r="2.75" fill="#4a70a8" stroke="#6e8ec0" stroke-width="0.5"/>
<circle cx="579.9" cy="175.8" r="2.75" fill="#4a70a8" stroke="#6e8ec0" stroke-width="0.5"/>
<circle cx="576.3" cy="174.2" r="2.75" fill="#4a70a8" stroke="#6e8ec0" stroke-width="0.5"/>
<circle cx="568.9" cy="174.6" r="2.75" fill="#4a70a8" stroke="#6e8ec0" stroke-width="0.5"/>
<circle cx="563.8" cy="177.0" r="2.75" fill="#4a70a8" stroke="#6e8ec0" stroke-width="0.5"/>
<circle cx="565.5" cy="172.3" r="2.75" fill="#4a70a8" stroke="#6e8ec0" stroke-width="0.5"/>
<circle cx="561.1" cy="174.2" r="2.75" fill="#4a70a8" stroke="#6e8ec0" stroke-width="0.5"/>
<circle cx="563.6" cy="170.5" r="2.75" fill="#4a70a8" stroke="#6e8ec0" stroke-width="0.5"/>
<circle cx="557.6" cy="169.6" r="2.75" fill="#4a70a8" stroke="#6e8ec0" stroke-width="0.5"/>
<circle cx="560.5" cy="159.7" r="2.75" fill="#4a70a8" stroke="#6e8ec0" stroke-width="0.5"/>
<circle cx="565.5" cy="160.5" r="2.75" fill="#4a70a8" stroke="#6e8ec0" stroke-width="0.5"/>
<circle cx="564.2" cy="155.5" r="2.75" fill="#4a70a8" stroke="#6e8ec0" stroke-width="0.5"/>
<circle cx="568.3" cy="158.2" r="2.75" fill="#4a70a8" stroke="#6e8ec0" stroke-width="0.5"/>
<circle cx="569.2" cy="153.5" r="2.75" fill="#4a70a8" stroke="#6e8ec0" stroke-width="0.5"/>
<circle cx="572.1" cy="157.8" r="2.75" fill="#4a70a8" stroke="#6e8ec0" stroke-width="0.5"/>
<circle cx="575.6" cy="154.5" r="2.75" fill="#4a70a8" stroke="#6e8ec0" stroke-width="0.5"/>
<circle cx="576.2" cy="159.4" r="2.75" fill="#4a70a8" stroke="#6e8ec0" stroke-width="0.5"/>
<circle cx="581.1" cy="165.1" r="2.75" fill="#4a70a8" stroke="#6e8ec0" stroke-width="0.5"/>
<path d="M552.7,161.8 Q571.4,162.0 589.7,153.5 Q576.4,167.6 572.5,184.0 Q567.1,169.7 552.7,161.8Z" fill="#3e8c3c"/>
<ellipse cx="571.6" cy="166.4" rx="3.1" ry="2.6" fill="#256a24"/>
<circle cx="597.9" cy="119.4" r="2.50" fill="#3d5d92" />
<circle cx="596.4" cy="124.9" r="2.50" fill="#3d5d92" />
<circle cx="592.4" cy="128.9" r="2.50" fill="#3d5d92" />
<circle cx="586.9" cy="130.4" r="2.50" fill="#3d5d92" />
<circle cx="581.4" cy="128.9" r="2.50" fill="#3d5d92" />
<circle cx="577.4" cy="124.9" r="2.50" fill="#3d5d92" />
<circle cx="575.9" cy="119.4" r="2.50" fill="#3d5d92" />
<circle cx="577.4" cy="113.9" r="2.50" fill="#3d5d92" />
<circle cx="581.4" cy="109.9" r="2.50" fill="#3d5d92" />
<circle cx="586.9" cy="108.4" r="2.50" fill="#3d5d92" />
<circle cx="592.4" cy="109.9" r="2.50" fill="#3d5d92" />
<circle cx="596.4" cy="113.9" r="2.50" fill="#3d5d92" />
<circle cx="586.9" cy="119.4" r="7.40" fill="#f6e6a0" stroke="#e8d080" stroke-width="0.6"/>
<circle cx="586.9" cy="119.4" r="3.60" fill="#d9a462" />
<circle cx="616.7" cy="150.2" r="2.50" fill="#3d5d92" />
<circle cx="614.0" cy="155.1" r="2.50" fill="#3d5d92" />
<circle cx="609.1" cy="158.1" r="2.50" fill="#3d5d92" />
<circle cx="603.1" cy="158.4" r="2.50" fill="#3d5d92" />
<circle cx="597.8" cy="156.0" r="2.50" fill="#3d5d92" />
<circle cx="594.5" cy="151.4" r="2.50" fill="#3d5d92" />
<circle cx="594.1" cy="146.0" r="2.50" fill="#3d5d92" />
<circle cx="596.8" cy="141.1" r="2.50" fill="#3d5d92" />
<circle cx="601.7" cy="138.1" r="2.50" fill="#3d5d92" />
<circle cx="607.7" cy="137.8" r="2.50" fill="#3d5d92" />
<circle cx="613.0" cy="140.2" r="2.50" fill="#3d5d92" />
<circle cx="616.3" cy="144.8" r="2.50" fill="#3d5d92" />
<path d="M615.3,149.4 Q611.8,150.9 612.0,154.9 Q608.9,154.1 608.1,157.4 Q604.7,155.1 602.3,157.7 Q600.7,153.3 596.9,152.4 Q598.6,149.6 595.5,147.3 Q599.0,145.3 597.7,141.2 Q601.9,142.1 604.1,138.6 Q606.1,141.1 609.6,140.6 Q610.1,142.9 614.4,143.5 Q612.2,146.6 615.3,149.4Z" fill="#aa9cd4"/>
<ellipse cx="604" cy="149.5" rx="3.4" ry="2.6" fill="#8a78c0"/>
<circle cx="546.0" cy="121.5" r="2.30" fill="#a8cce2" />
<circle cx="553.0" cy="120.0" r="2.30" fill="#a8cce2" />
<circle cx="560.0" cy="124.0" r="2.30" fill="#a8cce2" />
<circle cx="544.0" cy="128.0" r="2.30" fill="#a8cce2" />
<circle cx="553.0" cy="133.9" r="8.20" fill="#ffffff" stroke="#e04a54" stroke-width="0.9"/>
<circle cx="550.0" cy="135.0" r="2.20" fill="#a8cce2" />
<circle cx="557.0" cy="138.0" r="2.20" fill="#a8cce2" />
<circle cx="553.0" cy="129.0" r="2.20" fill="#a8cce2" />
<path d="M662.5,6.3 L669.5,6.3 L669.5,119 L663.5,119" fill="none" stroke="#555" stroke-width="0.8"/>
<path d="M662.5,123.8 L669.5,123.8 L669.5,189.8 L662.5,189.8" fill="none" stroke="#555" stroke-width="0.8"/>
<text x="0" y="0" font-size="8" fill="#222" transform="translate(672.3,51.5) rotate(90)">cortex</text>
<text x="0" y="0" font-size="8" fill="#222" transform="translate(672.3,143.5) rotate(90)">medulla</text>
<text x="462.6" y="47.4" font-size="8" fill="#222" color="#222" >DP</text>
<text x="462.6" y="73.0" font-size="8" fill="#222" color="#222" >DN</text>
<text x="462.6" y="98.8" font-size="8" fill="#222" color="#222" >Cortico-</text>
<text x="462.6" y="108.2" font-size="8" fill="#222" color="#222" >medullary</text>
<text x="462.6" y="117.7" font-size="8" fill="#222" color="#222" >junction</text>
<text x="462.6" y="143.3" font-size="8" fill="#222" color="#222" >DN(early)</text>
<text x="462.6" y="168.5" font-size="8" fill="#222" color="#222" >Venule</text>
<text x="462.6" y="193.7" font-size="8" fill="#222" color="#222" >Mature SP</text>
<path d="M485.7,44.6 C500,44.5 515,46 525,49 C540,53 550,56 559,59.5" fill="none" stroke="#333" stroke-width="0.7"/>
<path d="M483.7,44.6 l3.4,-1.5 l-0.9,1.5 l0.9,1.5 Z" fill="#333"/>
<path d="M485.7,71.3 C500,71 512,73 520,76 C525,78 529,81 531,83" fill="none" stroke="#333" stroke-width="0.7"/>
<path d="M483.7,71.3 l3.4,-1.5 l-0.9,1.5 l0.9,1.5 Z" fill="#333"/>
<path d="M503.5,141.5 C515,140 522,130 528,125 C534,121 540,120 544,120" fill="none" stroke="#333" stroke-width="0.7"/>
<path d="M501.5,141.5 l3.4,-1.5 l-0.9,1.5 l0.9,1.5 Z" fill="#333"/>
<path d="M493.5,166.6 C520,166 540,160 547,144" fill="none" stroke="#333" stroke-width="0.7"/>
<path d="M491.5,166.6 l3.4,-1.5 l-0.9,1.5 l0.9,1.5 Z" fill="#333"/>
<path d="M508.0,192.2 C540,192 560,189 566,180" fill="none" stroke="#333" stroke-width="0.7"/>
<path d="M506.0,192.2 l3.4,-1.5 l-0.9,1.5 l0.9,1.5 Z" fill="#333"/>
<path d="M584.7,73 L598,81.5" stroke="#333" stroke-width="0.7"/>
<defs>
<linearGradient id="cbase" x1="30" y1="0" x2="205" y2="0" gradientUnits="userSpaceOnUse"><stop offset="0" stop-color="#b6bfe6"/><stop offset="0.5" stop-color="#a7bde9"/><stop offset="1" stop-color="#93b7ec"/></linearGradient>
<radialGradient id="ctop" cx="77" cy="242" r="32" gradientUnits="userSpaceOnUse"><stop offset="0" stop-color="#dcc9dc"/><stop offset="0.5" stop-color="#d0c6e0" stop-opacity="0.8"/><stop offset="1" stop-color="#c0c2e4" stop-opacity="0"/></radialGradient>
<radialGradient id="ccd4" cx="183" cy="280" r="26" gradientUnits="userSpaceOnUse"><stop offset="0" stop-color="#5aacf0"/><stop offset="0.5" stop-color="#78b2ee" stop-opacity="0.6"/><stop offset="1" stop-color="#90b6ec" stop-opacity="0"/></radialGradient>
<linearGradient id="ctraj" x1="73" y1="250" x2="135" y2="380" gradientUnits="userSpaceOnUse"><stop offset="0" stop-color="#2a2226"/><stop offset="0.6" stop-color="#4a4446"/><stop offset="1" stop-color="#8a8a8a"/></linearGradient>
<linearGradient id="cbar" x1="0" y1="1" x2="0" y2="0"><stop offset="0" stop-color="#dcc8dc"/><stop offset="0.5" stop-color="#a8bce8"/><stop offset="1" stop-color="#4aa8f2"/></linearGradient>
</defs>
<text x="-1.0" y="237.8" font-size="13.5" fill="#000" color="#000" font-weight="bold" >c</text>
<rect x="17.7" y="233" width="191.7" height="191.3" fill="none" stroke="#7f7575" stroke-width="1.05"/>
<path d="M77.0,240.6 L80.5,242.5 L82.5,252.0 L82.5,267.0 L84.5,279.0 L88.0,288.0 L94.0,296.0 L100.0,302.5 L110.0,311.5 L121.0,319.4 L126.5,318.0 L128.1,297.0 L138.5,298.5 L147.0,292.0 L156.2,288.1 L160.0,292.0 L164.2,297.0 L170.0,294.0 L175.4,292.0 L178.7,277.7 L183.5,276.9 L187.5,282.5 L186.7,314.6 L196.3,319.4 L197.9,340.3 L201.1,359.3 L200.3,370.0 L196.3,372.1 L191.5,380.1 L170.6,386.5 L148.2,386.5 L138.5,383.3 L126.0,388.5 L120.0,395.0 L117.0,404.0 L112.0,408.5 L103.2,410.8 L95.0,408.0 L92.2,406.6 L88.0,395.5 L84.0,384.5 L75.5,385.6 L56.0,381.6 L54.7,370.4 L56.0,356.5 L56.0,345.5 L50.5,334.3 L42.2,326.0 L32.5,317.7 L29.7,306.6 L31.0,300.0 L34.0,295.5 L42.2,284.4 L56.0,277.5 L64.4,267.7 L70.6,257.0 L73.0,248.0Z" fill="url(#cbase)"/>
<path d="M77.0,240.6 L80.5,242.5 L82.5,252.0 L82.5,267.0 L84.5,279.0 L88.0,288.0 L94.0,296.0 L100.0,302.5 L110.0,311.5 L121.0,319.4 L126.5,318.0 L128.1,297.0 L138.5,298.5 L147.0,292.0 L156.2,288.1 L160.0,292.0 L164.2,297.0 L170.0,294.0 L175.4,292.0 L178.7,277.7 L183.5,276.9 L187.5,282.5 L186.7,314.6 L196.3,319.4 L197.9,340.3 L201.1,359.3 L200.3,370.0 L196.3,372.1 L191.5,380.1 L170.6,386.5 L148.2,386.5 L138.5,383.3 L126.0,388.5 L120.0,395.0 L117.0,404.0 L112.0,408.5 L103.2,410.8 L95.0,408.0 L92.2,406.6 L88.0,395.5 L84.0,384.5 L75.5,385.6 L56.0,381.6 L54.7,370.4 L56.0,356.5 L56.0,345.5 L50.5,334.3 L42.2,326.0 L32.5,317.7 L29.7,306.6 L31.0,300.0 L34.0,295.5 L42.2,284.4 L56.0,277.5 L64.4,267.7 L70.6,257.0 L73.0,248.0Z" fill="url(#ctop)"/>
<path d="M77.0,240.6 L80.5,242.5 L82.5,252.0 L82.5,267.0 L84.5,279.0 L88.0,288.0 L94.0,296.0 L100.0,302.5 L110.0,311.5 L121.0,319.4 L126.5,318.0 L128.1,297.0 L138.5,298.5 L147.0,292.0 L156.2,288.1 L160.0,292.0 L164.2,297.0 L170.0,294.0 L175.4,292.0 L178.7,277.7 L183.5,276.9 L187.5,282.5 L186.7,314.6 L196.3,319.4 L197.9,340.3 L201.1,359.3 L200.3,370.0 L196.3,372.1 L191.5,380.1 L170.6,386.5 L148.2,386.5 L138.5,383.3 L126.0,388.5 L120.0,395.0 L117.0,404.0 L112.0,408.5 L103.2,410.8 L95.0,408.0 L92.2,406.6 L88.0,395.5 L84.0,384.5 L75.5,385.6 L56.0,381.6 L54.7,370.4 L56.0,356.5 L56.0,345.5 L50.5,334.3 L42.2,326.0 L32.5,317.7 L29.7,306.6 L31.0,300.0 L34.0,295.5 L42.2,284.4 L56.0,277.5 L64.4,267.7 L70.6,257.0 L73.0,248.0Z" fill="url(#ccd4)"/>
<path d="M111.4 328.0h1.1M116.6 340.6h1.1M109.8 353.2h1.1M110.8 361.8h1.1M114.3 333.4h1.1M113.6 342.5h1.1M106.6 316.1h1.1M105.0 336.3h1.1M104.2 348.0h1.1M110.2 348.9h1.1M109.6 339.9h1.1M110.6 354.7h1.1M112.1 333.5h1.1M109.2 346.6h1.1M101.9 357.7h1.1M104.6 332.0h1.1M116.0 358.5h1.1M112.5 315.3h1.1M109.6 319.7h1.1M115.7 341.8h1.1M110.0 324.3h1.1M106.6 326.9h1.1M110.8 339.6h1.1M102.6 344.8h1.1M106.1 358.2h1.1M119.6 344.2h1.1M100.2 316.8h1.1M118.5 356.9h1.1M102.1 338.7h1.1M110.3 352.9h1.1M108.0 339.0h1.1M110.6 354.1h1.1M112.6 361.4h1.1M117.9 330.2h1.1M115.3 316.1h1.1M108.9 355.1h1.1M110.0 346.8h1.1M110.1 325.9h1.1M120.3 335.3h1.1M102.4 361.9h1.1M110.3 340.4h1.1M112.5 341.0h1.1M115.4 316.4h1.1M119.7 324.9h1.1M113.4 359.8h1.1M114.5 332.9h1.1M108.3 336.1h1.1M107.3 338.2h1.1M106.2 341.5h1.1M116.0 331.3h1.1M109.0 346.9h1.1M111.3 360.8h1.1M114.8 336.1h1.1M110.3 330.4h1.1M110.8 339.3h1.1M117.2 342.1h1.1M107.5 344.7h1.1M107.4 327.0h1.1M103.9 311.3h1.1M105.8 321.6h1.1M100.7 332.6h1.1M107.7 327.7h1.1M108.8 324.9h1.1M106.9 324.2h1.1M115.4 328.4h1.1M111.1 338.7h1.1M110.0 347.7h1.1M109.8 351.4h1.1M114.0 320.9h1.1M112.8 345.7h1.1M109.2 353.0h1.1M114.6 331.7h1.1M112.7 326.2h1.1M108.8 343.1h1.1M114.7 320.2h1.1M107.7 314.5h1.1M108.1 351.6h1.1M110.5 353.3h1.1M112.5 351.6h1.1M114.3 342.7h1.1M112.4 315.0h1.1M107.1 323.8h1.1M112.0 326.7h1.1M107.6 330.5h1.1M107.0 357.7h1.1M113.2 316.4h1.1M121.8 355.5h1.1M111.3 361.3h1.1M100.9 358.1h1.1M115.4 320.0h1.1M110.8 343.8h1.1M102.4 336.0h1.1M110.0 320.3h1.1M107.9 351.8h1.1M116.7 357.9h1.1M107.1 356.4h1.1M107.5 348.2h1.1M112.8 343.8h1.1M114.4 336.3h1.1M101.9 341.1h1.1M116.5 326.4h1.1M110.9 333.8h1.1M119.9 350.2h1.1M109.2 336.9h1.1M113.4 352.1h1.1M114.8 357.8h1.1M118.0 351.5h1.1M111.2 341.9h1.1M110.5 354.6h1.1M114.4 322.5h1.1M112.1 336.5h1.1M106.5 349.9h1.1M113.2 314.7h1.1M109.6 335.1h1.1M109.4 327.0h1.1M114.6 342.9h1.1M107.4 318.3h1.1M108.8 325.8h1.1M115.1 346.7h1.1M115.0 328.5h1.1M113.5 328.2h1.1M112.4 340.6h1.1M111.9 351.3h1.1M106.7 341.6h1.1M107.1 334.8h1.1M112.8 346.0h1.1M104.9 332.9h1.1M114.3 321.2h1.1M104.2 311.9h1.1M109.5 330.9h1.1M102.7 358.6h1.1M115.2 328.2h1.1M117.4 322.2h1.1M106.2 333.1h1.1M116.9 343.8h1.1M116.8 355.9h1.1M112.8 347.6h1.1M104.6 338.4h1.1M114.6 315.7h1.1M111.2 313.0h1.1M109.7 313.4h1.1M109.1 353.4h1.1M117.3 344.4h1.1M117.0 353.2h1.1M116.7 351.1h1.1M111.6 346.6h1.1M105.6 313.8h1.1M100.5 325.5h1.1M103.2 321.1h1.1M107.7 317.7h1.1M111.0 348.7h1.1M117.2 329.3h1.1M108.0 326.9h1.1M114.3 330.6h1.1M115.6 360.5h1.1M113.6 330.3h1.1M111.0 345.3h1.1M108.3 348.8h1.1M108.5 334.1h1.1M106.2 342.7h1.1M109.5 348.4h1.1M115.7 331.9h1.1M108.3 346.8h1.1M112.4 318.8h1.1M114.3 339.6h1.1M109.7 345.3h1.1M114.0 359.5h1.1M109.0 330.3h1.1M117.7 354.1h1.1M107.9 319.8h1.1M106.6 317.3h1.1M111.6 327.5h1.1M107.6 315.8h1.1M118.0 361.5h1.1M105.0 333.3h1.1M111.8 353.1h1.1M113.5 334.0h1.1M105.8 346.9h1.1M113.8 347.6h1.1M107.4 359.9h1.1M107.8 320.7h1.1M111.7 346.8h1.1M105.9 354.1h1.1M100.9 321.1h1.1M112.3 318.1h1.1M114.2 346.1h1.1M117.1 321.8h1.1M103.5 354.7h1.1M109.2 347.4h1.1M118.1 323.8h1.1M115.7 327.3h1.1M105.1 308.4h1.1M107.7 326.1h1.1M106.2 319.3h1.1M113.0 339.6h1.1M115.3 337.4h1.1M109.8 314.4h1.1M110.0 314.1h1.1M117.6 355.9h1.1M112.7 358.8h1.1M109.9 328.2h1.1M112.1 324.0h1.1M103.5 344.5h1.1M106.4 322.3h1.1M104.3 348.7h1.1M117.5 337.0h1.1M109.4 314.1h1.1M106.8 346.8h1.1M111.2 344.6h1.1M108.4 342.9h1.1M109.8 342.1h1.1M115.1 343.4h1.1M113.3 325.9h1.1M110.0 346.9h1.1M106.3 343.0h1.1M107.7 332.7h1.1M109.9 311.7h1.1M113.6 346.7h1.1M111.2 347.9h1.1M105.4 327.4h1.1M110.6 355.1h1.1M107.6 349.5h1.1M110.9 327.1h1.1M108.7 337.2h1.1M115.0 349.7h1.1M105.7 314.1h1.1M118.0 322.6h1.1M112.8 350.1h1.1M112.3 347.3h1.1M112.2 330.5h1.1M113.7 348.1h1.1M114.0 340.0h1.1M104.2 315.9h1.1M108.6 336.5h1.1M112.8 338.7h1.1M112.0 350.2h1.1M114.1 359.3h1.1M102.0 328.7h1.1M155.6 301.4h1.1M158.5 307.6h1.1M158.9 305.5h1.1M157.3 298.7h1.1M155.5 290.0h1.1M156.6 303.9h1.1M157.9 299.4h1.1M156.5 298.3h1.1M164.0 299.0h1.1M157.7 300.2h1.1M157.0 307.3h1.1M161.5 304.3h1.1M158.8 301.2h1.1M152.2 295.8h1.1M158.0 305.7h1.1M159.4 305.4h1.1M158.2 300.8h1.1M165.0 303.3h1.1M157.5 296.2h1.1M162.8 305.5h1.1M152.4 297.9h1.1M156.0 290.8h1.1M161.1 298.9h1.1M158.6 297.6h1.1M155.9 301.7h1.1M158.7 303.6h1.1M163.7 297.2h1.1M163.2 303.0h1.1M166.8 296.6h1.1M157.0 300.7h1.1M162.4 304.1h1.1M160.0 292.6h1.1M157.8 293.8h1.1M160.6 293.1h1.1M158.3 290.5h1.1M156.6 302.7h1.1M157.1 290.5h1.1M162.0 307.4h1.1M160.3 298.5h1.1M157.7 292.2h1.1M157.8 290.9h1.1M159.6 304.2h1.1M157.2 298.4h1.1M158.8 294.8h1.1M161.9 296.2h1.1M155.5 291.7h1.1M156.2 300.7h1.1M151.6 290.1h1.1" stroke="#ffffff" stroke-width="1.0" stroke-opacity="0.9"/>
<path d="M73.0,252.3 C72.3,255.8 70.2,266.1 69.0,273.0 C67.8,279.9 66.6,287.0 66.1,294.0 C65.6,301.0 65.4,309.2 65.8,314.9 C66.2,320.6 67.2,324.1 68.5,328.0 C69.8,331.9 70.8,332.9 73.8,338.0 C76.8,343.1 80.7,352.4 86.7,358.5 C92.7,364.6 102.5,370.9 110.0,374.6 C117.5,378.3 128.3,379.5 132.0,380.5" fill="none" stroke="url(#ctraj)" stroke-width="1.1"/>
<path d="M130,380.5 C150,384 172,380 188,369" fill="none" stroke="#c8c8c8" stroke-width="1"/>
<path d="M130,380.5 C150,375 168,355 181,332" fill="none" stroke="#c8c8c8" stroke-width="1"/>
<path d="M190.7,367.3 L183.5,369.5 L186.5,371 L187.5,374 Z" fill="#c8c8c8"/>
<path d="M182.7,329 L178.3,335 L181.2,334.6 L183.3,336.8 Z" fill="#c8c8c8"/>
<text x="36.9" y="252.3" font-size="8" fill="#222" color="#222" >DN early</text>
<text x="45.0" y="308.5" font-size="8" fill="#222" color="#222" >DN</text>
<text x="69.0" y="371.4" font-size="8" fill="#222" color="#222" >DP</text>
<text x="132.9" y="325.0" font-size="8" fill="#222" color="#222" >CD4+ T lineage</text>
<text x="122.5" y="394.6" font-size="8" fill="#222" color="#222" >αβ T</text>
<text x="201.5" y="386.5" font-size="8" fill="#222" color="#222" text-anchor="end" >CD8+</text>
<text x="202.7" y="396.5" font-size="8" fill="#222" color="#222" text-anchor="end" >T lineage</text>
<text x="213.9" y="239.6" font-size="8" fill="#222" color="#222" >pseudo time</text>
<rect x="222" y="251.8" width="11.7" height="57.8" fill="url(#cbar)"/>
<text x="237.6" y="254.7" font-size="8" fill="#222" color="#222" >1.00</text>
<text x="237.6" y="269.1" font-size="8" fill="#222" color="#222" >0.75</text>
<line x1="222.0" y1="266.2" x2="224.5" y2="266.2" stroke="#fff" stroke-width="0.8" />
<line x1="231.2" y1="266.2" x2="233.7" y2="266.2" stroke="#fff" stroke-width="0.8" />
<text x="237.6" y="283.6" font-size="8" fill="#222" color="#222" >0.50</text>
<line x1="222.0" y1="280.7" x2="224.5" y2="280.7" stroke="#fff" stroke-width="0.8" />
<line x1="231.2" y1="280.7" x2="233.7" y2="280.7" stroke="#fff" stroke-width="0.8" />
<text x="237.6" y="298.0" font-size="8" fill="#222" color="#222" >0.25</text>
<line x1="222.0" y1="295.1" x2="224.5" y2="295.1" stroke="#fff" stroke-width="0.8" />
<line x1="231.2" y1="295.1" x2="233.7" y2="295.1" stroke="#fff" stroke-width="0.8" />
<text x="237.6" y="312.5" font-size="8" fill="#222" color="#222" >0.00</text>
<text x="288.5" y="223.0" font-size="13.5" fill="#000" color="#000" font-weight="bold" >d</text>
<text x="324.1" y="221.7" font-size="8" fill="#222" color="#222" font-style="italic" >DN(early)</text>
<line x1="350.6" y1="241.5" x2="330.6" y2="263.6" stroke="#9a9a9a" stroke-width="0.5"/>
<line x1="330.6" y1="263.6" x2="307.3" y2="269.6" stroke="#9a9a9a" stroke-width="0.5"/>
<line x1="330.6" y1="263.6" x2="308.6" y2="288.8" stroke="#9a9a9a" stroke-width="0.5"/>
<line x1="307.3" y1="269.6" x2="329.8" y2="286.4" stroke="#9a9a9a" stroke-width="0.5"/>
<line x1="308.6" y1="288.8" x2="329.8" y2="286.4" stroke="#9a9a9a" stroke-width="0.5"/>
<line x1="330.6" y1="263.6" x2="329.8" y2="286.4" stroke="#9a9a9a" stroke-width="0.5"/>
<line x1="370.4" y1="261.5" x2="353.8" y2="280.8" stroke="#9a9a9a" stroke-width="0.5"/>
<line x1="370.4" y1="261.5" x2="374.7" y2="285.6" stroke="#9a9a9a" stroke-width="0.5"/>
<line x1="353.8" y1="280.8" x2="374.7" y2="285.6" stroke="#9a9a9a" stroke-width="0.5"/>
<line x1="353.8" y1="280.8" x2="356.7" y2="304.6" stroke="#9a9a9a" stroke-width="0.5"/>
<line x1="374.7" y1="285.6" x2="356.7" y2="304.6" stroke="#9a9a9a" stroke-width="0.5"/>
<circle cx="350.6" cy="241.5" r="11.20" fill="#c9c7e1" stroke="#fff" stroke-width="0.5"/>
<circle cx="330.6" cy="263.6" r="12.00" fill="#c9c7e1" stroke="#fff" stroke-width="0.5"/>
<circle cx="307.3" cy="269.6" r="12.50" fill="#c9c7e1" stroke="#fff" stroke-width="0.5"/>
<circle cx="308.6" cy="288.8" r="11.50" fill="#c9c7e1" stroke="#fff" stroke-width="0.5"/>
<circle cx="329.8" cy="286.4" r="11.20" fill="#c9c7e1" stroke="#fff" stroke-width="0.5"/>
<circle cx="370.4" cy="261.5" r="8.00" fill="#c8174c" stroke="#fff" stroke-width="0.5"/>
<circle cx="353.8" cy="280.8" r="8.00" fill="#c8174c" stroke="#fff" stroke-width="0.5"/>
<circle cx="374.7" cy="285.6" r="8.00" fill="#c8174c" stroke="#fff" stroke-width="0.5"/>
<circle cx="356.7" cy="304.6" r="8.00" fill="#c8174c" stroke="#fff" stroke-width="0.5"/>
<circle cx="329.0" cy="314.5" r="8.00" fill="#c8174c" stroke="#fff" stroke-width="0.5"/>
<text class="n" x="350.6" y="242.9" font-size="4.1" fill="#111" text-anchor="middle">GO:0032655</text>
<text class="n" x="330.6" y="265.0" font-size="4.1" fill="#111" text-anchor="middle">GO:0045860</text>
<text class="n" x="307.3" y="271.0" font-size="4.1" fill="#111" text-anchor="middle">GO:0032655</text>
<text class="n" x="308.6" y="290.2" font-size="4.1" fill="#111" text-anchor="middle">GO:0050851</text>
<text class="n" x="329.8" y="287.8" font-size="4.1" fill="#111" text-anchor="middle">GO:0050852</text>
<text class="n" x="370.4" y="262.9" font-size="4.1" fill="#111" text-anchor="middle">GO:0050671</text>
<text class="n" x="353.8" y="282.2" font-size="4.1" fill="#111" text-anchor="middle">GO:0050852</text>
<text class="n" x="374.7" y="287.0" font-size="4.1" fill="#111" text-anchor="middle">GO:0061756</text>
<text class="n" x="356.7" y="306.0" font-size="4.1" fill="#111" text-anchor="middle">GO:0032655</text>
<text class="n" x="329.0" y="315.9" font-size="4.1" fill="#111" text-anchor="middle">GO:0001906</text>
<text x="452.1" y="222.1" font-size="8" fill="#222" color="#222" font-style="italic" >DP(quiescent)</text>
<path d="M458.8,238.3 C475,250 490,262 501.8,274.4" fill="none" stroke="#999" stroke-width="0.5"/>
<path d="M458.8,238.3 C456,260 452,278 447.9,292.1" fill="none" stroke="#aaa" stroke-width="0.5"/>
<path d="M447.9,292.1 C465,284 485,278 501.8,274.4" fill="none" stroke="#777" stroke-width="1"/>
<circle cx="458.8" cy="238.3" r="8.10" fill="#6aa8ea" stroke="#fff" stroke-width="0.5"/>
<circle cx="501.8" cy="274.4" r="7.20" fill="#a98bc8" stroke="#fff" stroke-width="0.5"/>
<circle cx="447.9" cy="292.1" r="7.50" fill="#ddc8d6" stroke="#fff" stroke-width="0.5"/>
<text class="n" x="458.8" y="239.7" font-size="4.1" fill="#111" text-anchor="middle">GO:0002177</text>
<text class="n" x="501.8" y="275.8" font-size="4.1" fill="#111" text-anchor="middle">GO:0034113</text>
<text class="n" x="447.9" y="293.5" font-size="4.1" fill="#111" text-anchor="middle">GO:0032543</text>
<text x="599.3" y="221.6" font-size="8" fill="#222" color="#222" font-style="italic" >αβT(entry)</text>
<line x1="640.7" y1="237.6" x2="618.6" y2="255.4" stroke="#9a9a9a" stroke-width="0.5"/>
<line x1="640.7" y1="237.6" x2="642.7" y2="263.0" stroke="#9a9a9a" stroke-width="0.5"/>
<line x1="640.7" y1="237.6" x2="632.6" y2="270.2" stroke="#9a9a9a" stroke-width="0.5"/>
<line x1="618.6" y1="255.4" x2="632.6" y2="270.2" stroke="#9a9a9a" stroke-width="0.5"/>
<line x1="618.6" y1="255.4" x2="601.4" y2="270.7" stroke="#9a9a9a" stroke-width="0.5"/>
<line x1="618.6" y1="255.4" x2="602.5" y2="287.0" stroke="#9a9a9a" stroke-width="0.5"/>
<line x1="618.6" y1="255.4" x2="620.7" y2="295.0" stroke="#9a9a9a" stroke-width="0.5"/>
<line x1="618.6" y1="255.4" x2="639.0" y2="289.0" stroke="#9a9a9a" stroke-width="0.5"/>
<line x1="642.7" y1="263.0" x2="632.6" y2="270.2" stroke="#9a9a9a" stroke-width="0.5"/>
<line x1="642.7" y1="263.0" x2="656.3" y2="277.1" stroke="#9a9a9a" stroke-width="0.5"/>
<line x1="632.6" y1="270.2" x2="601.4" y2="270.7" stroke="#9a9a9a" stroke-width="0.5"/>
<line x1="632.6" y1="270.2" x2="602.5" y2="287.0" stroke="#9a9a9a" stroke-width="0.5"/>
<line x1="632.6" y1="270.2" x2="639.0" y2="289.0" stroke="#9a9a9a" stroke-width="0.5"/>
<line x1="632.6" y1="270.2" x2="620.7" y2="295.0" stroke="#9a9a9a" stroke-width="0.5"/>
<line x1="601.4" y1="270.7" x2="602.5" y2="287.0" stroke="#9a9a9a" stroke-width="0.5"/>
<line x1="601.4" y1="270.7" x2="620.7" y2="295.0" stroke="#9a9a9a" stroke-width="0.5"/>
<line x1="601.4" y1="270.7" x2="578.5" y2="284.6" stroke="#9a9a9a" stroke-width="0.5"/>
<line x1="602.5" y1="287.0" x2="620.7" y2="295.0" stroke="#9a9a9a" stroke-width="0.5"/>
<line x1="602.5" y1="287.0" x2="639.0" y2="289.0" stroke="#9a9a9a" stroke-width="0.5"/>
<line x1="639.0" y1="289.0" x2="620.7" y2="295.0" stroke="#9a9a9a" stroke-width="0.5"/>
<line x1="578.5" y1="284.6" x2="602.5" y2="287.0" stroke="#9a9a9a" stroke-width="0.5"/>
<line x1="656.3" y1="277.1" x2="639.0" y2="289.0" stroke="#9a9a9a" stroke-width="0.5"/>
<line x1="642.7" y1="263.0" x2="639.0" y2="289.0" stroke="#9a9a9a" stroke-width="0.5"/>
<line x1="601.4" y1="270.7" x2="639.0" y2="289.0" stroke="#9a9a9a" stroke-width="0.5"/>
<line x1="602.5" y1="287.0" x2="632.6" y2="270.2" stroke="#9a9a9a" stroke-width="0.5"/>
<circle cx="640.7" cy="237.6" r="7.20" fill="#c8174c" stroke="#fff" stroke-width="0.5"/>
<circle cx="618.6" cy="255.4" r="7.50" fill="#6aa8ea" stroke="#fff" stroke-width="0.5"/>
<circle cx="642.7" cy="263.0" r="7.50" fill="#a98bc8" stroke="#fff" stroke-width="0.5"/>
<circle cx="632.6" cy="270.2" r="7.50" fill="#ddc8d6" stroke="#fff" stroke-width="0.5"/>
<circle cx="580.9" cy="262.2" r="7.00" fill="#acd6e8" stroke="#fff" stroke-width="0.5"/>
<circle cx="601.4" cy="270.7" r="7.50" fill="#acd6e8" stroke="#fff" stroke-width="0.5"/>
<circle cx="656.3" cy="277.1" r="7.00" fill="#acd6e8" stroke="#fff" stroke-width="0.5"/>
<circle cx="578.5" cy="284.6" r="7.00" fill="#acd6e8" stroke="#fff" stroke-width="0.5"/>
<circle cx="602.5" cy="287.0" r="7.20" fill="#acd6e8" stroke="#fff" stroke-width="0.5"/>
<circle cx="639.0" cy="289.0" r="7.20" fill="#acd6e8" stroke="#fff" stroke-width="0.5"/>
<circle cx="620.7" cy="295.0" r="7.70" fill="#acd6e8" stroke="#fff" stroke-width="0.5"/>
<text class="n" x="640.7" y="239.0" font-size="4.1" fill="#111" text-anchor="middle">GO:0002460</text>
<text class="n" x="618.6" y="256.8" font-size="4.1" fill="#111" text-anchor="middle">GO:0032655</text>
<text class="n" x="642.7" y="264.4" font-size="4.1" fill="#111" text-anchor="middle">GO:0030217</text>
<text class="n" x="632.6" y="271.6" font-size="4.1" fill="#111" text-anchor="middle">GO:0033198</text>
<text class="n" x="580.9" y="263.6" font-size="4.1" fill="#111" text-anchor="middle">GO:0042254</text>
<text class="n" x="601.4" y="272.1" font-size="4.1" fill="#111" text-anchor="middle">GO:0006259</text>
<text class="n" x="656.3" y="278.5" font-size="4.1" fill="#111" text-anchor="middle">GO:0032543</text>
<text class="n" x="578.5" y="286.0" font-size="4.1" fill="#111" text-anchor="middle">GO:0050851</text>
<text class="n" x="602.5" y="288.4" font-size="4.1" fill="#111" text-anchor="middle">GO:0071345</text>
<text class="n" x="639.0" y="290.4" font-size="4.1" fill="#111" text-anchor="middle">GO:0140053</text>
<text class="n" x="620.7" y="296.4" font-size="4.1" fill="#111" text-anchor="middle">GO:0045860</text>
<circle cx="271.9" cy="340.7" r="2.90" fill="#c9c7e1" />
<text x="278.6" y="343.6" font-size="8" fill="#333" color="#333" >essential metabolic process</text>
<circle cx="271.9" cy="354.0" r="2.90" fill="#c8174c" />
<text x="278.6" y="356.9" font-size="8" fill="#333" color="#333" >cell adhesion and migration</text>
<circle cx="271.9" cy="367.3" r="2.90" fill="#6aa8ea" />
<text x="278.6" y="370.2" font-size="8" fill="#333" color="#333" >T cell differentiation or activation</text>
<circle cx="271.9" cy="380.7" r="2.90" fill="#dba8cc" />
<text x="278.6" y="383.6" font-size="8" fill="#333" color="#333" >T cell selection</text>
<circle cx="271.9" cy="394.0" r="2.90" fill="#a98bc8" />
<text x="278.6" y="396.9" font-size="8" fill="#333" color="#333" >T cell receptor</text>
<circle cx="271.9" cy="407.3" r="2.90" fill="#acd6e8" />
<text x="278.6" y="410.2" font-size="8" fill="#333" color="#333" >cytokine or kinase regulation</text>
<circle cx="271.9" cy="420.6" r="2.90" fill="#ecea92" />
<text x="278.6" y="423.5" font-size="8" fill="#333" color="#333" >T cell proliferation</text>
<circle cx="271.9" cy="433.9" r="2.90" fill="#c6d48a" />
<text x="278.6" y="436.8" font-size="8" fill="#333" color="#333" >immmune cell function</text>
<text x="464.3" y="322.1" font-size="8" fill="#222" color="#222" font-style="italic" >CD4+T</text>
<line x1="459.6" y1="343.4" x2="442.8" y2="355.1" stroke="#9a9a9a" stroke-width="0.5"/>
<line x1="459.6" y1="343.4" x2="464.3" y2="362.1" stroke="#9a9a9a" stroke-width="0.5"/>
<line x1="442.8" y1="355.1" x2="464.3" y2="362.1" stroke="#9a9a9a" stroke-width="0.5"/>
<line x1="442.8" y1="355.1" x2="441.6" y2="369.6" stroke="#9a9a9a" stroke-width="0.5"/>
<line x1="464.3" y1="362.1" x2="441.6" y2="369.6" stroke="#9a9a9a" stroke-width="0.5"/>
<line x1="459.6" y1="343.4" x2="441.6" y2="369.6" stroke="#9a9a9a" stroke-width="0.5"/>
<line x1="464.3" y1="362.1" x2="484.8" y2="363.3" stroke="#9a9a9a" stroke-width="0.5"/>
<line x1="459.6" y1="343.4" x2="484.8" y2="363.3" stroke="#9a9a9a" stroke-width="0.5"/>
<line x1="484.8" y1="363.3" x2="502.1" y2="380.1" stroke="#9a9a9a" stroke-width="0.5"/>
<line x1="484.8" y1="363.3" x2="466.1" y2="385.5" stroke="#9a9a9a" stroke-width="0.5"/>
<line x1="484.8" y1="363.3" x2="482.9" y2="390.1" stroke="#9a9a9a" stroke-width="0.5"/>
<line x1="464.3" y1="362.1" x2="466.1" y2="385.5" stroke="#9a9a9a" stroke-width="0.5"/>
<line x1="464.3" y1="362.1" x2="482.9" y2="390.1" stroke="#9a9a9a" stroke-width="0.5"/>
<line x1="441.6" y1="369.6" x2="466.1" y2="385.5" stroke="#9a9a9a" stroke-width="0.5"/>
<line x1="466.1" y1="385.5" x2="482.9" y2="390.1" stroke="#9a9a9a" stroke-width="0.5"/>
<line x1="482.9" y1="390.1" x2="502.1" y2="380.1" stroke="#9a9a9a" stroke-width="0.5"/>
<line x1="482.9" y1="390.1" x2="463.1" y2="412.1" stroke="#9a9a9a" stroke-width="0.5"/>
<line x1="482.9" y1="390.1" x2="482.9" y2="413.5" stroke="#9a9a9a" stroke-width="0.5"/>
<line x1="466.1" y1="385.5" x2="463.1" y2="412.1" stroke="#9a9a9a" stroke-width="0.5"/>
<line x1="466.1" y1="385.5" x2="482.9" y2="413.5" stroke="#9a9a9a" stroke-width="0.5"/>
<line x1="463.1" y1="412.1" x2="482.9" y2="413.5" stroke="#9a9a9a" stroke-width="0.5"/>
<line x1="431.1" y1="387.1" x2="446.0" y2="392.2" stroke="#9a9a9a" stroke-width="0.5"/>
<line x1="424.1" y1="401.6" x2="439.3" y2="405.8" stroke="#9a9a9a" stroke-width="0.5"/>
<line x1="431.1" y1="387.1" x2="424.1" y2="401.6" stroke="#9a9a9a" stroke-width="0.5"/>
<line x1="482.9" y1="390.1" x2="505.1" y2="403.9" stroke="#9a9a9a" stroke-width="0.5"/>
<line x1="459.6" y1="343.4" x2="484.6" y2="339.9" stroke="#9a9a9a" stroke-width="0.5"/>
<circle cx="459.6" cy="343.4" r="8.60" fill="#c8174c" stroke="#fff" stroke-width="0.5"/>
<circle cx="484.6" cy="339.9" r="7.50" fill="#ecea92" stroke="#fff" stroke-width="0.5"/>
<circle cx="505.6" cy="352.0" r="8.00" fill="#a98bc8" stroke="#fff" stroke-width="0.5"/>
<circle cx="442.8" cy="355.1" r="8.00" fill="#c8174c" stroke="#fff" stroke-width="0.5"/>
<circle cx="464.3" cy="362.1" r="9.00" fill="#c8174c" stroke="#fff" stroke-width="0.5"/>
<circle cx="484.8" cy="363.3" r="8.50" fill="#6aa8ea" stroke="#fff" stroke-width="0.5"/>
<circle cx="522.0" cy="368.0" r="8.00" fill="#ddc8d6" stroke="#fff" stroke-width="0.5"/>
<circle cx="441.6" cy="369.6" r="8.00" fill="#c8174c" stroke="#fff" stroke-width="0.5"/>
<circle cx="502.1" cy="380.1" r="8.50" fill="#c6d48a" stroke="#fff" stroke-width="0.5"/>
<circle cx="431.1" cy="387.1" r="7.50" fill="#acd6e8" stroke="#fff" stroke-width="0.5"/>
<circle cx="466.1" cy="385.5" r="8.50" fill="#acd6e8" stroke="#fff" stroke-width="0.5"/>
<circle cx="446.0" cy="392.2" r="8.00" fill="#acd6e8" stroke="#fff" stroke-width="0.5"/>
<circle cx="482.9" cy="390.1" r="9.50" fill="#acd6e8" stroke="#fff" stroke-width="0.5"/>
<circle cx="525.7" cy="392.2" r="8.50" fill="#ddc8d6" stroke="#fff" stroke-width="0.5"/>
<circle cx="424.1" cy="401.6" r="7.50" fill="#acd6e8" stroke="#fff" stroke-width="0.5"/>
<circle cx="439.3" cy="405.8" r="7.50" fill="#acd6e8" stroke="#fff" stroke-width="0.5"/>
<circle cx="505.1" cy="403.9" r="8.00" fill="#c6d48a" stroke="#fff" stroke-width="0.5"/>
<circle cx="463.1" cy="412.1" r="8.50" fill="#c6d48a" stroke="#fff" stroke-width="0.5"/>
<circle cx="482.9" cy="413.5" r="8.50" fill="#c6d48a" stroke="#fff" stroke-width="0.5"/>
<circle cx="502.8" cy="422.1" r="8.00" fill="#c6d48a" stroke="#fff" stroke-width="0.5"/>
<circle cx="470.1" cy="432.2" r="7.50" fill="#c6d48a" stroke="#fff" stroke-width="0.5"/>
<circle cx="491.1" cy="437.3" r="7.50" fill="#c6d48a" stroke="#fff" stroke-width="0.5"/>
<text class="n" x="459.6" y="344.8" font-size="4.1" fill="#111" text-anchor="middle">GO:0140546</text>
<text class="n" x="484.6" y="341.3" font-size="4.1" fill="#111" text-anchor="middle">GO:0032655</text>
<text class="n" x="505.6" y="353.4" font-size="4.1" fill="#111" text-anchor="middle">GO:0050851</text>
<text class="n" x="442.8" y="356.5" font-size="4.1" fill="#111" text-anchor="middle">GO:0001816</text>
<text class="n" x="464.3" y="363.5" font-size="4.1" fill="#111" text-anchor="middle">GO:0001817</text>
<text class="n" x="484.8" y="364.7" font-size="4.1" fill="#111" text-anchor="middle">GO:0007166</text>
<text class="n" x="522.0" y="369.4" font-size="4.1" fill="#111" text-anchor="middle">GO:0033198</text>
<text class="n" x="441.6" y="371.0" font-size="4.1" fill="#111" text-anchor="middle">GO:0034113</text>
<text class="n" x="502.1" y="381.5" font-size="4.1" fill="#111" text-anchor="middle">GO:0045860</text>
<text class="n" x="431.1" y="388.5" font-size="4.1" fill="#111" text-anchor="middle">GO:0070106</text>
<text class="n" x="466.1" y="386.9" font-size="4.1" fill="#111" text-anchor="middle">GO:0046641</text>
<text class="n" x="446.0" y="393.6" font-size="4.1" fill="#111" text-anchor="middle">GO:0034113</text>
<text class="n" x="482.9" y="391.5" font-size="4.1" fill="#111" text-anchor="middle">GO:0032649</text>
<text class="n" x="525.7" y="393.6" font-size="4.1" fill="#111" text-anchor="middle">GO:0140546</text>
<text class="n" x="424.1" y="403.0" font-size="4.1" fill="#111" text-anchor="middle">GO:0001816</text>
<text class="n" x="439.3" y="407.2" font-size="4.1" fill="#111" text-anchor="middle">GO:0001817</text>
<text class="n" x="505.1" y="405.3" font-size="4.1" fill="#111" text-anchor="middle">GO:0140053</text>
<text class="n" x="463.1" y="413.5" font-size="4.1" fill="#111" text-anchor="middle">GO:0042254</text>
<text class="n" x="482.9" y="414.9" font-size="4.1" fill="#111" text-anchor="middle">GO:0061756</text>
<text class="n" x="502.8" y="423.5" font-size="4.1" fill="#111" text-anchor="middle">GO:0002460</text>
<text class="n" x="470.1" y="433.6" font-size="4.1" fill="#111" text-anchor="middle">GO:0061756</text>
<text class="n" x="491.1" y="438.7" font-size="4.1" fill="#111" text-anchor="middle">GO:0001817</text>
<text x="605.3" y="320.2" font-size="8" fill="#222" color="#222" font-style="italic" >CD8+T</text>
<line x1="596.2" y1="352.0" x2="597.0" y2="376.4" stroke="#9a9a9a" stroke-width="0.5"/>
<line x1="612.5" y1="348.8" x2="597.0" y2="376.4" stroke="#9a9a9a" stroke-width="0.5"/>
<line x1="612.5" y1="348.8" x2="624.5" y2="375.3" stroke="#9a9a9a" stroke-width="0.5"/>
<line x1="597.0" y1="376.4" x2="624.5" y2="375.3" stroke="#9a9a9a" stroke-width="0.5"/>
<line x1="566.1" y1="378.6" x2="597.0" y2="376.4" stroke="#9a9a9a" stroke-width="0.5"/>
<line x1="624.5" y1="375.3" x2="657.6" y2="379.2" stroke="#9a9a9a" stroke-width="0.5"/>
<line x1="624.5" y1="375.3" x2="618.8" y2="395.3" stroke="#9a9a9a" stroke-width="0.5"/>
<line x1="597.0" y1="376.4" x2="618.8" y2="395.3" stroke="#9a9a9a" stroke-width="0.5"/>
<line x1="597.0" y1="376.4" x2="606.8" y2="404.7" stroke="#9a9a9a" stroke-width="0.5"/>
<line x1="618.8" y1="395.3" x2="606.8" y2="404.7" stroke="#9a9a9a" stroke-width="0.5"/>
<line x1="618.8" y1="395.3" x2="631.0" y2="410.8" stroke="#9a9a9a" stroke-width="0.5"/>
<line x1="624.5" y1="375.3" x2="631.0" y2="410.8" stroke="#9a9a9a" stroke-width="0.5"/>
<line x1="651.0" y1="357.9" x2="657.6" y2="379.2" stroke="#777" stroke-width="1.1"/>
<line x1="651.0" y1="357.9" x2="624.5" y2="375.3" stroke="#9a9a9a" stroke-width="0.5"/>
<line x1="618.8" y1="395.3" x2="624.5" y2="375.3" stroke="#9a9a9a" stroke-width="0.5"/>
<line x1="606.8" y1="404.7" x2="631.0" y2="410.8" stroke="#9a9a9a" stroke-width="0.5"/>
<line x1="596.2" y1="352.0" x2="612.5" y2="348.8" stroke="#9a9a9a" stroke-width="0.5"/>
<line x1="651.0" y1="357.9" x2="657.6" y2="379.2" stroke="#777" stroke-width="1.1"/>
<line x1="624.5" y1="375.3" x2="631.0" y2="355.7" stroke="#9a9a9a" stroke-width="0.5"/>
<circle cx="598.8" cy="334.6" r="7.60" fill="#c6d48a" stroke="#fff" stroke-width="0.5"/>
<circle cx="624.9" cy="337.9" r="7.80" fill="#acd6e8" stroke="#fff" stroke-width="0.5"/>
<circle cx="641.2" cy="342.7" r="7.60" fill="#acd6e8" stroke="#fff" stroke-width="0.5"/>
<circle cx="596.2" cy="352.0" r="8.30" fill="#c6d48a" stroke="#fff" stroke-width="0.5"/>
<circle cx="612.5" cy="348.8" r="8.30" fill="#c6d48a" stroke="#fff" stroke-width="0.5"/>
<circle cx="631.0" cy="355.7" r="8.00" fill="#acd6e8" stroke="#fff" stroke-width="0.5"/>
<circle cx="651.0" cy="357.9" r="8.00" fill="#c6d48a" stroke="#fff" stroke-width="0.5"/>
<circle cx="566.1" cy="378.6" r="8.30" fill="#c8174c" stroke="#fff" stroke-width="0.5"/>
<circle cx="597.0" cy="376.4" r="8.30" fill="#6aa8ea" stroke="#fff" stroke-width="0.5"/>
<circle cx="624.5" cy="375.3" r="9.50" fill="#acd6e8" stroke="#fff" stroke-width="0.5"/>
<circle cx="657.6" cy="379.2" r="8.30" fill="#c6d48a" stroke="#fff" stroke-width="0.5"/>
<circle cx="582.9" cy="392.3" r="7.60" fill="#c8174c" stroke="#fff" stroke-width="0.5"/>
<circle cx="618.8" cy="395.3" r="8.30" fill="#a98bc8" stroke="#fff" stroke-width="0.5"/>
<circle cx="641.2" cy="389.0" r="8.00" fill="#acd6e8" stroke="#fff" stroke-width="0.5"/>
<circle cx="606.8" cy="404.7" r="8.30" fill="#ddc8d6" stroke="#fff" stroke-width="0.5"/>
<circle cx="651.0" cy="405.8" r="7.60" fill="#acd6e8" stroke="#fff" stroke-width="0.5"/>
<circle cx="631.0" cy="410.8" r="8.00" fill="#ecea92" stroke="#fff" stroke-width="0.5"/>
<circle cx="589.0" cy="411.9" r="7.80" fill="#ddc8d6" stroke="#fff" stroke-width="0.5"/>
<circle cx="616.2" cy="418.4" r="7.80" fill="#ddc8d6" stroke="#fff" stroke-width="0.5"/>
<circle cx="599.9" cy="425.8" r="7.80" fill="#ddc8d6" stroke="#fff" stroke-width="0.5"/>
<circle cx="637.5" cy="427.6" r="7.60" fill="#ecea92" stroke="#fff" stroke-width="0.5"/>
<circle cx="615.5" cy="436.9" r="7.80" fill="#ddc8d6" stroke="#fff" stroke-width="0.5"/>
<text class="n" x="598.8" y="336.0" font-size="4.1" fill="#111" text-anchor="middle">GO:0019724</text>
<text class="n" x="624.9" y="339.3" font-size="4.1" fill="#111" text-anchor="middle">GO:0042254</text>
<text class="n" x="641.2" y="344.1" font-size="4.1" fill="#111" text-anchor="middle">GO:0140053</text>
<text class="n" x="596.2" y="353.4" font-size="4.1" fill="#111" text-anchor="middle">GO:0033198</text>
<text class="n" x="612.5" y="350.2" font-size="4.1" fill="#111" text-anchor="middle">GO:0042110</text>
<text class="n" x="631.0" y="357.1" font-size="4.1" fill="#111" text-anchor="middle">GO:0042110</text>
<text class="n" x="651.0" y="359.3" font-size="4.1" fill="#111" text-anchor="middle">GO:0006259</text>
<text class="n" x="566.1" y="380.0" font-size="4.1" fill="#111" text-anchor="middle">GO:0050671</text>
<text class="n" x="597.0" y="377.8" font-size="4.1" fill="#111" text-anchor="middle">GO:0019724</text>
<text class="n" x="624.5" y="376.7" font-size="4.1" fill="#111" text-anchor="middle">GO:0002460</text>
<text class="n" x="657.6" y="380.6" font-size="4.1" fill="#111" text-anchor="middle">GO:0046641</text>
<text class="n" x="582.9" y="393.7" font-size="4.1" fill="#111" text-anchor="middle">GO:0042254</text>
<text class="n" x="618.8" y="396.7" font-size="4.1" fill="#111" text-anchor="middle">GO:0050851</text>
<text class="n" x="641.2" y="390.4" font-size="4.1" fill="#111" text-anchor="middle">GO:0070106</text>
<text class="n" x="606.8" y="406.1" font-size="4.1" fill="#111" text-anchor="middle">GO:0060729</text>
<text class="n" x="651.0" y="407.2" font-size="4.1" fill="#111" text-anchor="middle">GO:0034113</text>
<text class="n" x="631.0" y="412.2" font-size="4.1" fill="#111" text-anchor="middle">GO:0001906</text>
<text class="n" x="589.0" y="413.3" font-size="4.1" fill="#111" text-anchor="middle">GO:0060729</text>
<text class="n" x="616.2" y="419.8" font-size="4.1" fill="#111" text-anchor="middle">GO:0033198</text>
<text class="n" x="599.9" y="427.2" font-size="4.1" fill="#111" text-anchor="middle">GO:0046641</text>
<text class="n" x="637.5" y="429.0" font-size="4.1" fill="#111" text-anchor="middle">GO:0050901</text>
<text class="n" x="615.5" y="438.3" font-size="4.1" fill="#111" text-anchor="middle">GO:0030335</text>
<text x="-1.0" y="471.3" font-size="13.5" fill="#000" color="#000" font-weight="bold" >e</text>
<text x="72.4" y="466.7" font-size="8" fill="#222" color="#222" font-style="italic" text-anchor="middle" >DLK1</text>
<line x1="18.6" y1="471.3" x2="18.6" y2="519.0" stroke="#222" stroke-width="0.9" />
<line x1="16.6" y1="486.6" x2="18.6" y2="486.6" stroke="#222" stroke-width="0.7" />
<text x="16.3" y="489.3" font-size="7.5" fill="#444" color="#444" text-anchor="end" >4</text>
<line x1="16.6" y1="501.7" x2="18.6" y2="501.7" stroke="#222" stroke-width="0.7" />
<text x="16.3" y="504.4" font-size="7.5" fill="#444" color="#444" text-anchor="end" >2</text>
<line x1="16.6" y1="516.8" x2="18.6" y2="516.8" stroke="#222" stroke-width="0.7" />
<text x="16.3" y="519.5" font-size="7.5" fill="#444" color="#444" text-anchor="end" >0</text>
<line x1="18.6" y1="519.0" x2="126.5" y2="519.0" stroke="#222" stroke-width="0.9" />
<line x1="28.8" y1="519.0" x2="28.8" y2="521.0" stroke="#222" stroke-width="0.7" />
<line x1="46.3" y1="519.0" x2="46.3" y2="521.0" stroke="#222" stroke-width="0.7" />
<line x1="63.7" y1="519.0" x2="63.7" y2="521.0" stroke="#222" stroke-width="0.7" />
<line x1="80.9" y1="519.0" x2="80.9" y2="521.0" stroke="#222" stroke-width="0.7" />
<line x1="98.2" y1="519.0" x2="98.2" y2="521.0" stroke="#222" stroke-width="0.7" />
<line x1="115.6" y1="519.0" x2="115.6" y2="521.0" stroke="#222" stroke-width="0.7" />
<path d="M21.2,516.8 C19.4,516.7 20.4,516.4 20.6,516.2 C20.8,516.0 22.1,515.2 22.8,514.9 C23.5,514.6 25.7,513.8 26.3,513.4 C26.9,513.0 27.6,512.0 27.8,511.5 C28.0,511.0 27.9,510.0 27.8,509.2 C27.7,508.5 27.3,506.5 27.0,505.5 C26.7,504.4 25.6,501.4 25.2,500.2 C24.8,499.0 23.8,496.0 23.5,494.9 C23.2,493.8 22.8,491.7 22.8,490.8 C22.8,489.8 23.2,487.5 23.6,486.6 C24.0,485.7 25.4,483.6 25.8,482.8 C26.2,482.0 27.2,480.6 27.4,479.8 C27.6,479.0 27.7,476.9 27.8,476.0 C27.9,475.2 28.0,472.8 28.2,472.4 C28.4,472.0 29.2,472.0 29.4,472.4 C29.6,472.8 29.7,475.2 29.8,476.0 C29.9,476.9 30.0,479.0 30.2,479.8 C30.4,480.6 31.4,482.0 31.8,482.8 C32.2,483.6 33.6,485.7 34.0,486.6 C34.4,487.5 34.8,489.8 34.8,490.8 C34.8,491.7 34.4,493.8 34.1,494.9 C33.8,496.0 32.8,499.0 32.4,500.2 C32.0,501.4 30.9,504.4 30.6,505.5 C30.3,506.5 29.9,508.5 29.8,509.2 C29.7,510.0 29.6,511.0 29.8,511.5 C30.0,512.0 30.7,513.0 31.3,513.4 C31.9,513.8 34.1,514.6 34.8,514.9 C35.5,515.2 36.8,516.0 37.0,516.2 C37.2,516.4 38.2,516.7 36.4,516.8 C34.6,516.9 23.0,516.9 21.2,516.8Z" fill="#cc1a50"/>
<rect x="38.3" y="515.2" width="16.0" height="1.9" fill="#ecccdc"/>
<rect x="45.80" y="478.4" width="1.00" height="38.4" fill="#ecccdc"/>
<rect x="55.7" y="515.2" width="16.0" height="1.9" fill="#5a2e6e"/>
<rect x="63.05" y="476.6" width="1.30" height="40.2" fill="#5a2e6e"/>
<rect x="72.9" y="515.2" width="16.0" height="1.9" fill="#3a92b4"/>
<rect x="80.15" y="475.1" width="1.50" height="41.7" fill="#3a92b4"/>
<rect x="90.2" y="515.2" width="16.0" height="1.9" fill="#acdcee"/>
<rect x="97.70" y="477.2" width="1.00" height="39.6" fill="#acdcee"/>
<rect x="107.6" y="515.2" width="16.0" height="1.9" fill="#c8d890"/>
<text x="72.4" y="535.3" font-size="8" fill="#222" color="#222" font-style="italic" text-anchor="middle" >DLL4</text>
<line x1="18.6" y1="540.2" x2="18.6" y2="587.6" stroke="#222" stroke-width="0.9" />
<line x1="16.6" y1="541.9" x2="18.6" y2="541.9" stroke="#222" stroke-width="0.7" />
<text x="16.3" y="544.6" font-size="7.5" fill="#444" color="#444" text-anchor="end" >5</text>
<line x1="16.6" y1="550.6" x2="18.6" y2="550.6" stroke="#222" stroke-width="0.7" />
<text x="16.3" y="553.3" font-size="7.5" fill="#444" color="#444" text-anchor="end" >4</text>
<line x1="16.6" y1="559.3" x2="18.6" y2="559.3" stroke="#222" stroke-width="0.7" />
<text x="16.3" y="562.0" font-size="7.5" fill="#444" color="#444" text-anchor="end" >3</text>
<line x1="16.6" y1="568.0" x2="18.6" y2="568.0" stroke="#222" stroke-width="0.7" />
<text x="16.3" y="570.7" font-size="7.5" fill="#444" color="#444" text-anchor="end" >2</text>
<line x1="16.6" y1="576.7" x2="18.6" y2="576.7" stroke="#222" stroke-width="0.7" />
<text x="16.3" y="579.4" font-size="7.5" fill="#444" color="#444" text-anchor="end" >1</text>
<line x1="16.6" y1="585.4" x2="18.6" y2="585.4" stroke="#222" stroke-width="0.7" />
<text x="16.3" y="588.1" font-size="7.5" fill="#444" color="#444" text-anchor="end" >0</text>
<line x1="18.6" y1="587.6" x2="126.5" y2="587.6" stroke="#222" stroke-width="0.9" />
<line x1="28.8" y1="587.6" x2="28.8" y2="589.6" stroke="#222" stroke-width="0.7" />
<line x1="46.3" y1="587.6" x2="46.3" y2="589.6" stroke="#222" stroke-width="0.7" />
<line x1="63.7" y1="587.6" x2="63.7" y2="589.6" stroke="#222" stroke-width="0.7" />
<line x1="80.9" y1="587.6" x2="80.9" y2="589.6" stroke="#222" stroke-width="0.7" />
<line x1="98.2" y1="587.6" x2="98.2" y2="589.6" stroke="#222" stroke-width="0.7" />
<line x1="115.6" y1="587.6" x2="115.6" y2="589.6" stroke="#222" stroke-width="0.7" />
<path d="M21.2,585.4 C19.4,585.3 20.4,585.0 20.6,584.7 C20.8,584.5 22.6,583.6 23.3,583.2 C24.0,582.8 26.3,581.9 26.8,581.5 C27.3,581.0 27.8,580.1 28.0,579.3 C28.2,578.5 28.2,575.9 28.1,575.0 C28.0,574.0 27.6,572.5 27.4,571.5 C27.2,570.5 26.6,567.5 26.6,566.3 C26.6,565.0 27.0,562.2 27.2,561.0 C27.4,559.9 27.9,558.1 28.0,556.7 C28.1,555.3 28.1,550.7 28.1,548.9 C28.1,547.0 28.0,541.9 28.2,541.0 C28.4,540.1 29.2,540.1 29.4,541.0 C29.6,541.9 29.5,547.0 29.5,548.9 C29.5,550.7 29.5,555.3 29.6,556.7 C29.7,558.1 30.2,559.9 30.4,561.0 C30.6,562.2 31.0,565.0 31.0,566.3 C31.0,567.5 30.4,570.5 30.2,571.5 C30.0,572.5 29.6,574.0 29.5,575.0 C29.4,575.9 29.4,578.5 29.6,579.3 C29.8,580.1 30.3,581.0 30.8,581.5 C31.3,581.9 33.6,582.8 34.3,583.2 C35.0,583.6 36.8,584.5 37.0,584.7 C37.2,585.0 38.2,585.3 36.4,585.4 C34.6,585.5 23.0,585.5 21.2,585.4Z" fill="#cc1a50"/>
<rect x="38.3" y="583.8" width="16.0" height="1.9" fill="#ecccdc"/>
<rect x="45.80" y="542.8" width="1.00" height="42.6" fill="#ecccdc"/>
<rect x="55.7" y="583.8" width="16.0" height="1.9" fill="#5a2e6e"/>
<rect x="63.05" y="548.0" width="1.30" height="37.4" fill="#5a2e6e"/>
<rect x="72.9" y="583.8" width="16.0" height="1.9" fill="#3a92b4"/>
<rect x="80.15" y="552.3" width="1.50" height="33.1" fill="#3a92b4"/>
<rect x="90.2" y="583.8" width="16.0" height="1.9" fill="#acdcee"/>
<rect x="97.70" y="554.5" width="1.00" height="30.9" fill="#acdcee"/>
<rect x="107.6" y="583.8" width="16.0" height="1.9" fill="#c8d890"/>
<rect x="115.10" y="552.3" width="1.00" height="33.1" fill="#c8d890"/>
<text x="72.4" y="604.4" font-size="8" fill="#222" color="#222" font-style="italic" text-anchor="middle" >JAG2</text>
<line x1="18.6" y1="608.7" x2="18.6" y2="656.4" stroke="#222" stroke-width="0.9" />
<line x1="16.6" y1="612.3" x2="18.6" y2="612.3" stroke="#222" stroke-width="0.7" />
<text x="16.3" y="615.0" font-size="7.5" fill="#444" color="#444" text-anchor="end" >5</text>
<line x1="16.6" y1="620.7" x2="18.6" y2="620.7" stroke="#222" stroke-width="0.7" />
<text x="16.3" y="623.4" font-size="7.5" fill="#444" color="#444" text-anchor="end" >4</text>
<line x1="16.6" y1="629.1" x2="18.6" y2="629.1" stroke="#222" stroke-width="0.7" />
<text x="16.3" y="631.8" font-size="7.5" fill="#444" color="#444" text-anchor="end" >3</text>
<line x1="16.6" y1="637.6" x2="18.6" y2="637.6" stroke="#222" stroke-width="0.7" />
<text x="16.3" y="640.3" font-size="7.5" fill="#444" color="#444" text-anchor="end" >2</text>
<line x1="16.6" y1="646.0" x2="18.6" y2="646.0" stroke="#222" stroke-width="0.7" />
<text x="16.3" y="648.7" font-size="7.5" fill="#444" color="#444" text-anchor="end" >1</text>
<line x1="16.6" y1="654.4" x2="18.6" y2="654.4" stroke="#222" stroke-width="0.7" />
<text x="16.3" y="657.1" font-size="7.5" fill="#444" color="#444" text-anchor="end" >0</text>
<line x1="18.1" y1="656.4" x2="125.5" y2="656.4" stroke="#222" stroke-width="0.9" />
<line x1="28.8" y1="656.4" x2="28.8" y2="658.4" stroke="#222" stroke-width="0.7" />
<text x="0" y="0" font-size="8" fill="#444" text-anchor="end" transform="translate(31.6,663.4) rotate(-45)">cTEC</text>
<line x1="46.3" y1="656.4" x2="46.3" y2="658.4" stroke="#222" stroke-width="0.7" />
<text x="0" y="0" font-size="8" fill="#444" text-anchor="end" transform="translate(49.1,663.4) rotate(-45)">mcTEC</text>
<line x1="63.7" y1="656.4" x2="63.7" y2="658.4" stroke="#222" stroke-width="0.7" />
<text x="0" y="0" font-size="8" fill="#444" text-anchor="end" transform="translate(66.5,663.4) rotate(-45)">mTEC(I)</text>
<line x1="80.9" y1="656.4" x2="80.9" y2="658.4" stroke="#222" stroke-width="0.7" />
<text x="0" y="0" font-size="8" fill="#444" text-anchor="end" transform="translate(83.7,663.4) rotate(-45)">mTEC(II)</text>
<line x1="98.2" y1="656.4" x2="98.2" y2="658.4" stroke="#222" stroke-width="0.7" />
<text x="0" y="0" font-size="8" fill="#444" text-anchor="end" transform="translate(101.0,663.4) rotate(-45)">mTEC(III)</text>
<line x1="115.6" y1="656.4" x2="115.6" y2="658.4" stroke="#222" stroke-width="0.7" />
<text x="0" y="0" font-size="8" fill="#444" text-anchor="end" transform="translate(118.4,663.4) rotate(-45)">mTEC(IV)</text>
<path d="M21.2,654.4 C19.4,654.3 20.4,654.0 20.6,653.7 C20.8,653.5 22.6,652.7 23.3,652.3 C24.0,651.9 26.1,651.1 26.6,650.6 C27.1,650.2 27.6,649.0 27.7,648.5 C27.8,648.0 27.9,646.8 27.8,646.0 C27.7,645.2 27.3,642.8 27.0,641.8 C26.7,640.8 25.8,638.5 25.6,637.6 C25.4,636.6 25.0,634.3 25.0,633.4 C25.0,632.4 25.5,630.2 25.8,629.1 C26.1,628.1 27.2,625.3 27.4,624.1 C27.6,622.9 27.8,620.6 27.9,619.0 C28.0,617.5 28.0,611.6 28.2,610.6 C28.4,609.6 29.2,609.6 29.4,610.6 C29.6,611.6 29.6,617.5 29.7,619.0 C29.8,620.6 30.0,622.9 30.2,624.1 C30.4,625.3 31.5,628.1 31.8,629.1 C32.1,630.2 32.6,632.4 32.6,633.4 C32.6,634.3 32.2,636.6 32.0,637.6 C31.8,638.5 30.9,640.8 30.6,641.8 C30.3,642.8 29.9,645.2 29.8,646.0 C29.7,646.8 29.8,648.0 29.9,648.5 C30.0,649.0 30.5,650.2 31.0,650.6 C31.5,651.1 33.6,651.9 34.3,652.3 C35.0,652.7 36.8,653.5 37.0,653.7 C37.2,654.0 38.2,654.3 36.4,654.4 C34.6,654.5 23.0,654.5 21.2,654.4Z" fill="#cc1a50"/>
<rect x="38.3" y="652.8" width="16.0" height="1.9" fill="#ecccdc"/>
<rect x="45.80" y="615.7" width="1.00" height="38.7" fill="#ecccdc"/>
<rect x="55.7" y="652.8" width="16.0" height="1.9" fill="#5a2e6e"/>
<rect x="63.05" y="615.7" width="1.30" height="38.7" fill="#5a2e6e"/>
<rect x="72.9" y="652.8" width="16.0" height="1.9" fill="#3a92b4"/>
<rect x="80.15" y="613.1" width="1.50" height="41.3" fill="#3a92b4"/>
<rect x="90.2" y="652.8" width="16.0" height="1.9" fill="#acdcee"/>
<rect x="97.70" y="623.2" width="1.00" height="31.2" fill="#acdcee"/>
<rect x="107.6" y="652.8" width="16.0" height="1.9" fill="#c8d890"/>
<rect x="115.10" y="634.2" width="1.00" height="20.2" fill="#c8d890"/>
<text x="241.5" y="466.6" font-size="8" fill="#222" color="#222" font-style="italic" text-anchor="middle" >NOTCH1</text>
<path d="M175.2 485.0h0M176.1 480.9h0M175.8 481.3h0M171.9 489.2h0M177.0 487.8h0M176.7 499.7h0M174.3 495.2h0M174.7 488.4h0M171.8 494.2h0M173.3 480.6h0M176.0 498.2h0M176.1 498.7h0M175.1 498.3h0M171.7 481.1h0M172.9 494.9h0M177.2 482.8h0M173.3 479.7h0M174.7 486.2h0M172.8 480.0h0M175.6 480.2h0M176.7 495.5h0M173.7 496.5h0M172.5 497.7h0M173.4 487.2h0M171.7 484.9h0M173.6 493.4h0M176.3 491.2h0M173.5 489.8h0M175.6 500.2h0M177.1 502.1h0M175.9 483.0h0M171.8 482.8h0M173.7 487.9h0M177.4 509.2h0M178.8 498.1h0M178.9 500.7h0M185.1 500.4h0M180.2 506.2h0M181.7 501.4h0M178.2 500.5h0M184.0 501.1h0M177.6 497.8h0M178.0 505.7h0M182.4 499.8h0M180.1 498.9h0M181.8 507.3h0M179.9 508.4h0M177.9 508.1h0M183.0 499.0h0M178.6 509.6h0M185.5 505.8h0M180.7 507.9h0M182.3 500.9h0M181.1 505.7h0M177.7 498.2h0M177.6 503.6h0M184.3 510.5h0M183.4 499.7h0M182.6 501.5h0M178.2 504.5h0M178.5 499.4h0M179.7 504.8h0M185.6 501.7h0M185.4 506.8h0M181.4 501.8h0M181.3 507.4h0M180.7 509.1h0M180.4 498.2h0M185.3 504.5h0M181.5 506.9h0M189.6 509.2h0M220.6 501.5h0M201.8 502.6h0M220.2 503.7h0M215.3 502.9h0M201.9 503.6h0M198.2 506.4h0M220.0 503.8h0M198.8 500.5h0M214.7 505.2h0M186.2 505.6h0M196.8 504.0h0M206.3 502.2h0M214.6 502.4h0M201.2 504.4h0M218.6 502.0h0M201.3 501.9h0M224.5 503.8h0M229.2 500.4h0M208.8 505.9h0M193.1 501.9h0M227.5 506.5h0M216.5 503.4h0M218.3 510.4h0M220.5 505.2h0M215.4 507.3h0M213.5 502.7h0M214.1 503.4h0M186.9 510.6h0M205.3 504.3h0M195.4 503.9h0M213.8 512.1h0M206.7 509.7h0M188.1 510.9h0M199.8 510.3h0M194.3 512.2h0M206.4 507.8h0M213.0 505.1h0M196.3 501.1h0M185.7 507.5h0M198.1 507.4h0M190.8 502.0h0M202.3 512.2h0M213.0 511.4h0M210.0 508.3h0M211.6 500.4h0M222.2 507.3h0M221.9 504.4h0M202.1 510.8h0M212.3 505.4h0M228.4 500.2h0M212.8 508.1h0M225.5 512.6h0M190.5 505.4h0M213.1 510.8h0M213.7 501.2h0M202.4 507.1h0M195.8 508.9h0M229.1 507.8h0M228.6 500.9h0M212.2 509.3h0M229.4 506.3h0M204.2 508.6h0M229.6 506.3h0M198.4 506.5h0M191.1 504.7h0M205.4 508.9h0M220.5 502.1h0M186.2 505.8h0M197.9 500.7h0M220.6 509.5h0M197.6 510.7h0M229.8 508.9h0M212.8 506.6h0M214.4 504.9h0M218.8 511.1h0M219.6 508.8h0M209.5 508.3h0M198.9 505.9h0M206.4 508.0h0M218.9 505.1h0M187.3 509.4h0M206.0 500.9h0M225.3 505.7h0M186.3 502.7h0M204.7 505.3h0M217.3 504.5h0M207.2 501.0h0M202.9 507.6h0M223.7 510.1h0M198.9 502.0h0M188.6 501.9h0M216.7 507.1h0M198.4 502.6h0M226.3 510.8h0M207.0 505.6h0M207.9 508.4h0M192.5 505.1h0M221.9 511.8h0M195.9 502.1h0M221.0 504.1h0M186.8 503.4h0M229.3 499.9h0M217.0 512.0h0M223.2 509.8h0M214.5 500.5h0M217.5 510.9h0M198.7 500.9h0M192.3 504.8h0M204.1 510.6h0M213.4 512.1h0M190.5 507.8h0M188.9 511.9h0M211.3 503.1h0M224.9 510.9h0M204.9 508.6h0M212.4 506.4h0M227.5 507.8h0M188.1 503.7h0M192.4 504.6h0M208.2 501.0h0M210.4 504.7h0M197.4 505.6h0M197.0 503.0h0M208.7 510.9h0M196.1 507.9h0M218.5 510.3h0M217.5 504.3h0M189.5 504.1h0M189.7 511.0h0M212.2 509.6h0M224.8 506.5h0M200.1 502.4h0M187.0 503.4h0M188.0 510.7h0M228.1 503.9h0M195.6 511.2h0M229.1 504.1h0M222.3 510.8h0M213.5 508.1h0M196.1 508.4h0M213.0 508.2h0M202.9 510.9h0M222.8 504.3h0M221.6 507.1h0M223.7 506.0h0M212.1 505.3h0M218.7 507.6h0M190.0 512.2h0M194.7 512.1h0M225.3 506.5h0M219.6 512.6h0M206.6 501.3h0M213.3 507.2h0M206.4 511.4h0M192.6 510.6h0M202.4 507.7h0M224.9 510.7h0M197.0 509.1h0M192.9 509.0h0M196.1 506.5h0M187.1 500.8h0M202.1 500.6h0M216.3 504.0h0M206.7 500.5h0M190.9 504.1h0M198.6 504.0h0M218.2 510.5h0M194.6 512.3h0M195.9 511.6h0M203.6 500.2h0M201.9 508.6h0M206.5 509.0h0M218.3 503.4h0M192.9 509.6h0M215.7 500.6h0M214.5 507.1h0M229.2 512.6h0M188.4 502.7h0M204.0 512.1h0M210.1 500.0h0M208.8 508.2h0M189.8 511.7h0M225.8 506.4h0M227.4 511.9h0M196.5 512.0h0M203.4 511.9h0M197.1 507.4h0M199.3 512.0h0M187.3 500.2h0M193.7 506.1h0M203.6 505.8h0M189.4 508.6h0M190.5 505.7h0M226.8 505.0h0M223.9 509.9h0M186.4 505.7h0M207.4 505.3h0M202.5 504.6h0M218.0 501.0h0M199.4 506.9h0M222.5 509.8h0M190.8 508.6h0M189.6 502.8h0M222.2 508.6h0M191.4 511.6h0M196.6 511.6h0M204.8 505.3h0M196.6 511.9h0M216.9 512.0h0M194.6 509.0h0M202.3 511.4h0M204.4 508.6h0M219.2 505.5h0M225.7 504.3h0M238.8 519.7h0M235.2 511.4h0M237.6 512.6h0M238.4 517.4h0M233.3 508.8h0M234.6 519.4h0M231.0 513.3h0M233.2 510.5h0M233.5 518.5h0M238.8 520.0h0M230.6 514.0h0M231.7 512.2h0M239.9 515.7h0M237.1 522.1h0M235.1 517.2h0M234.0 520.0h0M236.8 513.4h0M238.4 526.1h0M236.2 521.5h0M238.2 520.7h0M240.8 519.2h0M231.6 512.5h0M240.5 523.9h0M235.1 516.2h0M238.9 514.5h0M236.2 510.7h0M236.9 523.6h0M239.4 522.9h0M230.9 503.7h0M230.7 508.0h0M235.7 511.1h0M234.7 518.5h0M233.4 516.7h0M236.6 519.5h0M238.7 524.4h0M234.2 517.4h0M241.3 519.1h0M239.8 520.5h0M234.8 519.6h0M239.6 522.1h0M230.7 512.8h0M231.4 507.4h0M240.3 527.7h0M239.2 524.0h0M237.9 514.4h0M237.2 514.3h0M234.5 520.9h0M236.0 515.6h0M232.4 512.7h0M233.8 519.6h0M233.8 515.0h0M235.6 513.4h0M234.7 508.6h0M248.3 533.1h0M247.2 533.3h0M245.9 530.1h0M244.5 529.9h0M247.1 534.4h0M243.8 535.1h0M242.2 529.8h0M246.3 531.1h0M247.4 536.6h0M249.2 538.8h0M247.4 538.5h0M247.8 534.1h0M249.5 535.3h0M247.2 531.9h0M247.6 534.4h0M243.2 529.0h0M249.0 538.8h0M249.6 537.7h0M244.7 536.7h0M244.7 534.8h0M246.9 530.8h0M249.1 536.5h0M244.7 535.5h0M247.2 534.2h0M247.4 536.0h0M248.9 538.9h0M244.0 533.0h0M246.7 530.4h0M242.9 527.1h0M247.9 537.7h0M242.0 526.7h0M248.4 533.6h0M247.5 535.8h0M245.0 531.4h0M249.0 538.4h0M253.0 538.5h0M260.6 540.3h0M250.2 540.6h0M256.1 538.5h0M251.9 540.3h0M256.5 538.3h0M257.5 538.0h0M250.5 539.0h0M259.1 537.0h0M253.4 537.5h0M257.0 537.1h0M252.4 538.1h0M259.2 539.0h0M250.9 540.3h0M251.6 540.7h0M251.5 538.5h0M251.0 537.8h0M258.0 537.6h0M258.8 538.0h0M260.1 537.0h0M256.8 537.0h0M251.0 540.6h0M250.5 540.2h0M254.0 539.1h0M257.4 537.9h0M250.8 539.4h0M255.9 539.5h0M251.1 538.5h0M254.0 538.2h0M255.3 537.0h0M260.4 540.8h0M258.3 538.0h0M253.1 540.6h0M278.4 537.4h0M287.7 533.5h0M274.8 537.8h0M279.1 535.2h0M289.6 535.7h0M271.7 537.6h0M291.7 536.1h0M262.8 537.2h0M269.6 535.6h0M263.6 538.1h0M264.5 536.9h0M296.7 535.8h0M275.0 533.8h0M264.3 537.6h0M290.4 539.6h0M288.8 537.2h0M261.6 538.2h0M277.6 537.2h0M279.7 539.3h0M268.9 533.8h0M277.0 536.7h0M264.1 538.0h0M295.6 534.8h0M279.4 539.3h0M275.2 534.8h0M276.7 535.9h0M293.7 535.2h0M284.0 539.4h0M261.8 535.3h0M276.0 534.2h0M290.9 533.4h0M274.7 533.4h0M288.4 533.6h0M266.4 535.0h0M276.3 533.5h0M297.0 538.1h0M276.3 538.0h0M278.0 537.8h0M285.2 538.8h0M267.1 536.9h0M263.7 537.4h0M293.5 533.5h0M268.1 539.5h0M291.0 533.1h0M282.7 538.8h0M269.6 534.1h0M295.0 539.4h0M267.7 537.1h0M270.7 535.1h0M274.5 534.8h0M266.5 536.6h0M296.3 534.7h0M264.2 539.0h0M284.3 537.2h0M274.4 536.7h0M282.1 533.4h0M269.7 536.2h0M270.5 536.4h0M287.5 538.8h0M278.4 535.2h0M261.3 535.3h0M276.2 536.5h0M283.1 534.5h0M263.0 536.8h0M262.4 537.4h0M273.5 539.5h0M271.8 536.9h0M284.7 533.5h0M274.4 536.4h0M286.8 533.4h0M295.4 532.7h0M271.9 538.6h0M294.8 539.1h0M277.3 535.0h0M280.2 537.2h0M294.5 537.6h0M281.0 534.3h0M266.0 537.6h0M278.9 536.0h0M268.5 536.9h0M263.1 539.1h0M273.4 538.8h0M296.1 537.8h0M271.0 534.9h0M287.9 537.9h0M291.1 535.4h0M275.1 535.7h0M269.9 538.1h0M292.8 536.6h0M293.5 538.4h0M266.0 539.4h0M287.8 535.9h0M261.3 539.4h0M290.9 536.3h0M292.6 539.4h0M282.3 538.9h0M287.1 535.6h0M283.2 538.2h0M295.4 538.9h0M263.3 535.7h0M264.3 539.3h0M277.7 535.5h0M293.3 534.6h0M263.5 535.9h0M291.6 538.8h0M288.3 537.9h0M271.8 539.6h0M288.5 536.2h0M293.7 536.4h0M299.2 539.6h0M300.6 531.0h0M299.8 540.9h0M301.7 540.6h0M302.6 534.2h0M305.4 538.7h0M299.0 536.5h0M305.9 535.5h0M304.4 530.5h0M299.1 539.0h0M303.4 535.0h0M308.6 533.6h0M305.6 535.8h0M307.1 530.8h0M300.9 540.4h0M300.5 537.7h0M308.4 537.0h0M305.2 533.4h0M309.3 538.5h0M306.9 536.5h0M298.5 535.0h0M307.9 533.5h0M297.9 531.3h0M302.1 534.2h0M306.3 537.5h0M302.4 537.6h0M298.5 541.5h0M306.3 535.8h0M308.2 539.3h0M301.0 539.6h0M309.1 530.8h0M308.5 534.2h0M298.6 537.5h0M300.1 541.6h0M304.3 537.6h0M298.6 536.4h0M309.0 529.1h0M303.1 540.0h0M306.9 539.0h0M304.0 540.0h0M309.6 533.5h0M302.7 538.2h0M304.2 529.9h0M302.6 538.9h0M303.7 530.6h0M302.0 534.2h0M308.8 536.2h0M307.4 534.2h0M299.0 541.5h0M177.3 475.7h0M173.1 504.1h0M304.9 516.9h0M305.6 519.7h0M305.9 518.3h0M306.3 522.6h0M307.0 526.9h0M308.4 542.5h0M309.8 542.5h0M309.1 541.1h0" stroke="#50b4e8" stroke-opacity="0.9" stroke-width="3.5" stroke-linecap="round" fill="none"/>
<rect x="171.7" y="543.9" width="65.6" height="3.0" fill="#d2406e"/>
<path d="M233.3 543.9v3.0M201.6 543.9v3.0M213.8 543.9v3.0M188.6 543.9v3.0M224.3 543.9v3.0M203.3 543.9v3.0M192.2 543.9v3.0M215.1 543.9v3.0M182.1 543.9v3.0M223.5 543.9v3.0M187.3 543.9v3.0M214.4 543.9v3.0M207.8 543.9v3.0M199.6 543.9v3.0M178.7 543.9v3.0M230.0 543.9v3.0M185.1 543.9v3.0M183.0 543.9v3.0M171.9 543.9v3.0M219.5 543.9v3.0" stroke="#e06a8a" stroke-width="0.5"/>
<path d="M191.8 543.9v3.0M231.9 543.9v3.0M221.4 543.9v3.0M178.1 543.9v3.0M178.6 543.9v3.0M217.4 543.9v3.0M193.8 543.9v3.0M229.1 543.9v3.0M225.6 543.9v3.0M231.7 543.9v3.0M204.8 543.9v3.0M214.4 543.9v3.0M235.6 543.9v3.0M209.8 543.9v3.0M196.2 543.9v3.0M196.1 543.9v3.0M230.2 543.9v3.0M202.9 543.9v3.0M176.6 543.9v3.0M212.6 543.9v3.0M212.0 543.9v3.0M184.9 543.9v3.0" stroke="#b8304f" stroke-width="0.5"/>
<path d="M213.4 543.9v3.0M190.3 543.9v3.0M229.7 543.9v3.0M232.0 543.9v3.0M206.1 543.9v3.0M216.0 543.9v3.0M235.2 543.9v3.0" stroke="#c83a64" stroke-width="0.5"/>
<path d="M185.0 543.9v3.0M200.9 543.9v3.0M180.4 543.9v3.0M227.9 543.9v3.0M218.9 543.9v3.0M185.2 543.9v3.0M211.4 543.9v3.0M229.2 543.9v3.0M198.9 543.9v3.0M190.7 543.9v3.0M221.3 543.9v3.0M171.8 543.9v3.0M223.4 543.9v3.0M226.6 543.9v3.0M186.6 543.9v3.0M203.1 543.9v3.0M220.0 543.9v3.0M199.1 543.9v3.0M214.0 543.9v3.0M185.1 543.9v3.0M191.8 543.9v3.0M223.1 543.9v3.0M226.8 543.9v3.0M172.6 543.9v3.0M236.6 543.9v3.0M195.9 543.9v3.0M175.5 543.9v3.0M197.4 543.9v3.0M230.3 543.9v3.0" stroke="#d2406e" stroke-width="0.5"/>
<rect x="237.3" y="543.9" width="12.6" height="3.0" fill="#9ac48a"/>
<path d="M240.0 543.9v3.0M248.2 543.9v3.0M247.2 543.9v3.0" stroke="#7aa868" stroke-width="0.5"/>
<path d="M248.6 543.9v3.0" stroke="#5e8c46" stroke-width="0.5"/>
<path d="M242.4 543.9v3.0M240.6 543.9v3.0M245.8 543.9v3.0" stroke="#9ac48a" stroke-width="0.5"/>
<path d="M240.7 543.9v3.0" stroke="#3e6a2e" stroke-width="0.5"/>
<path d="M246.9 543.9v3.0M245.9 543.9v3.0M247.6 543.9v3.0M244.3 543.9v3.0M246.5 543.9v3.0M244.6 543.9v3.0" stroke="#c8a070" stroke-width="0.5"/>
<path d="M239.7 543.9v3.0" stroke="#b8d8a8" stroke-width="0.5"/>
<rect x="249.8" y="543.9" width="13.9" height="3.0" fill="#a8a0b8"/>
<path d="M252.5 543.9v3.0M253.5 543.9v3.0" stroke="#d0b890" stroke-width="0.5"/>
<path d="M263.4 543.9v3.0M254.9 543.9v3.0M258.6 543.9v3.0M249.9 543.9v3.0" stroke="#7a7a8a" stroke-width="0.5"/>
<path d="M254.9 543.9v3.0M259.7 543.9v3.0M260.0 543.9v3.0M249.9 543.9v3.0" stroke="#a8a0b8" stroke-width="0.5"/>
<path d="M259.7 543.9v3.0M260.4 543.9v3.0" stroke="#9a9aa8" stroke-width="0.5"/>
<path d="M260.2 543.9v3.0" stroke="#8a9a7a" stroke-width="0.5"/>
<path d="M257.5 543.9v3.0M256.6 543.9v3.0M259.9 543.9v3.0" stroke="#c8b8c8" stroke-width="0.5"/>
<rect x="263.8" y="543.9" width="11.2" height="3.0" fill="#e8c0d0"/>
<path d="M268.8 543.9v3.0M266.3 543.9v3.0M266.2 543.9v3.0M264.8 543.9v3.0M268.3 543.9v3.0" stroke="#c8c0d8" stroke-width="0.5"/>
<path d="M270.6 543.9v3.0M265.7 543.9v3.0M272.4 543.9v3.0" stroke="#f0c8d8" stroke-width="0.5"/>
<path d="M270.0 543.9v3.0M265.0 543.9v3.0M267.7 543.9v3.0M267.2 543.9v3.0M274.1 543.9v3.0" stroke="#e8c0d0" stroke-width="0.5"/>
<rect x="274.9" y="543.9" width="36.3" height="3.0" fill="#f2c8dc"/>
<path d="M302.7 543.9v3.0M297.3 543.9v3.0M306.9 543.9v3.0M296.3 543.9v3.0M300.3 543.9v3.0M293.5 543.9v3.0M308.8 543.9v3.0M286.6 543.9v3.0M290.2 543.9v3.0M276.4 543.9v3.0M296.3 543.9v3.0M277.4 543.9v3.0M305.7 543.9v3.0" stroke="#f2c8dc" stroke-width="0.5"/>
<path d="M276.4 543.9v3.0M287.5 543.9v3.0M299.7 543.9v3.0M286.7 543.9v3.0M286.8 543.9v3.0M286.2 543.9v3.0M305.6 543.9v3.0M297.2 543.9v3.0M279.7 543.9v3.0M281.3 543.9v3.0M276.2 543.9v3.0M294.1 543.9v3.0M305.5 543.9v3.0" stroke="#ecc0d8" stroke-width="0.5"/>
<path d="M282.8 543.9v3.0M280.4 543.9v3.0M308.7 543.9v3.0M278.1 543.9v3.0M306.5 543.9v3.0M296.5 543.9v3.0M304.7 543.9v3.0M286.0 543.9v3.0M280.1 543.9v3.0M285.6 543.9v3.0M285.7 543.9v3.0M288.2 543.9v3.0" stroke="#f4d0e0" stroke-width="0.5"/>
<path d="M310.1 543.9v3.0M289.9 543.9v3.0M289.9 543.9v3.0M285.2 543.9v3.0M305.7 543.9v3.0" stroke="#f0c4da" stroke-width="0.5"/>
<path d="M171.7,508.4 C172.9,507.9 176.3,506.6 178.7,505.5 C181.0,504.5 183.1,503.2 185.6,502.1 C188.2,501.1 191.2,499.5 194.0,499.3 C196.8,499.0 199.1,499.9 202.4,500.7 C205.6,501.5 210.1,504.1 213.5,503.8 C217.0,503.6 220.5,500.6 223.3,499.3 C226.1,497.9 228.0,495.0 230.3,495.6 C232.6,496.1 234.9,498.4 237.3,502.7 C239.6,506.9 241.9,515.5 244.2,521.2 C246.6,526.9 248.9,533.3 251.2,536.8 C253.5,540.4 255.2,541.7 258.2,542.5 C261.2,543.3 265.2,542.1 269.3,541.6 C273.5,541.2 278.6,540.5 283.3,539.7 C288.0,538.9 292.6,538.1 297.2,536.8 C301.9,535.5 308.9,532.5 311.2,531.7" fill="none" stroke="#4b3d9e" stroke-width="1.1" stroke-dasharray="1.1,1.5"/>
<path d="M171.7,525.4 C172.9,523.8 176.3,518.9 178.7,515.5 C181.0,512.0 183.1,507.4 185.6,504.7 C188.2,502.0 191.2,499.9 194.0,499.3 C196.8,498.6 199.1,499.9 202.4,500.7 C205.6,501.5 210.1,504.1 213.5,503.8 C217.0,503.6 220.5,500.6 223.3,499.3 C226.1,497.9 228.0,495.0 230.3,495.6 C232.6,496.1 234.9,498.4 237.3,502.7 C239.6,506.9 241.9,515.5 244.2,521.2 C246.6,526.9 248.9,533.3 251.2,536.8 C253.5,540.4 255.2,541.6 258.2,542.5 C261.2,543.4 265.2,542.1 269.3,541.9 C273.5,541.7 278.6,541.6 283.3,541.4 C288.0,541.1 292.6,540.9 297.2,540.2 C301.9,539.6 308.9,537.9 311.2,537.4" fill="none" stroke="#c43d8e" stroke-width="1.1" stroke-dasharray="1.1,1.5"/>
<path d="M171.7,516.9 C172.9,515.6 176.3,511.3 178.7,508.9 C181.0,506.6 183.1,504.3 185.6,502.7 C188.2,501.1 191.2,499.6 194.0,499.3 C196.8,498.9 199.1,499.9 202.4,500.7 C205.6,501.5 210.1,504.1 213.5,503.8 C217.0,503.6 220.5,500.6 223.3,499.3 C226.1,497.9 228.0,495.0 230.3,495.6 C232.6,496.1 234.9,498.4 237.3,502.7 C239.6,506.9 241.9,515.5 244.2,521.2 C246.6,526.9 248.9,533.3 251.2,536.8 C253.5,540.4 255.2,541.7 258.2,542.5 C261.2,543.3 265.2,542.0 269.3,541.6 C273.5,541.3 278.6,540.8 283.3,540.2 C288.0,539.7 292.6,539.3 297.2,538.2 C301.9,537.2 308.9,534.7 311.2,534.0" fill="none" stroke="#5f9e4f" stroke-width="1.1" stroke-dasharray="1.1,2.2"/>
<line x1="164.6" y1="471.0" x2="164.6" y2="547.6" stroke="#222" stroke-width="0.9" />
<line x1="162.6" y1="471.4" x2="164.6" y2="471.4" stroke="#222" stroke-width="0.7" />
<text x="162.3" y="474.1" font-size="7.5" fill="#444" color="#444" text-anchor="end" >2.5</text>
<line x1="162.6" y1="485.6" x2="164.6" y2="485.6" stroke="#222" stroke-width="0.7" />
<text x="162.3" y="488.3" font-size="7.5" fill="#444" color="#444" text-anchor="end" >2.0</text>
<line x1="162.6" y1="499.8" x2="164.6" y2="499.8" stroke="#222" stroke-width="0.7" />
<text x="162.3" y="502.5" font-size="7.5" fill="#444" color="#444" text-anchor="end" >1.5</text>
<line x1="162.6" y1="514.1" x2="164.6" y2="514.1" stroke="#222" stroke-width="0.7" />
<text x="162.3" y="516.8" font-size="7.5" fill="#444" color="#444" text-anchor="end" >1.0</text>
<line x1="162.6" y1="528.3" x2="164.6" y2="528.3" stroke="#222" stroke-width="0.7" />
<text x="162.3" y="531.0" font-size="7.5" fill="#444" color="#444" text-anchor="end" >0.5</text>
<line x1="162.6" y1="542.5" x2="164.6" y2="542.5" stroke="#222" stroke-width="0.7" />
<text x="162.3" y="545.2" font-size="7.5" fill="#444" color="#444" text-anchor="end" >0.0</text>
<line x1="164.6" y1="547.6" x2="317.5" y2="547.6" stroke="#222" stroke-width="0.9" />
<line x1="171.7" y1="547.6" x2="171.7" y2="549.6" stroke="#222" stroke-width="0.7" />
<text x="171.7" y="556.6" font-size="7.5" fill="#444" color="#444" text-anchor="middle" >0.00</text>
<line x1="206.6" y1="547.6" x2="206.6" y2="549.6" stroke="#222" stroke-width="0.7" />
<text x="206.6" y="556.6" font-size="7.5" fill="#444" color="#444" text-anchor="middle" >0.25</text>
<line x1="241.4" y1="547.6" x2="241.4" y2="549.6" stroke="#222" stroke-width="0.7" />
<text x="241.4" y="556.6" font-size="7.5" fill="#444" color="#444" text-anchor="middle" >0.50</text>
<line x1="276.3" y1="547.6" x2="276.3" y2="549.6" stroke="#222" stroke-width="0.7" />
<text x="276.3" y="556.6" font-size="7.5" fill="#444" color="#444" text-anchor="middle" >0.75</text>
<line x1="311.2" y1="547.6" x2="311.2" y2="549.6" stroke="#222" stroke-width="0.7" />
<text x="311.2" y="556.6" font-size="7.5" fill="#444" color="#444" text-anchor="middle" >1.00</text>
<line x1="317.5" y1="471.7" x2="317.5" y2="547.6" stroke="#8a8a8a" stroke-width="0.9" />
<line x1="317.5" y1="542.5" x2="319.5" y2="542.5" stroke="#8a8a8a" stroke-width="0.7" />
<text x="321.0" y="545.2" font-size="7.5" fill="#444" color="#444" >0</text>
<line x1="317.5" y1="519.9" x2="319.5" y2="519.9" stroke="#8a8a8a" stroke-width="0.7" />
<text x="321.0" y="522.6" font-size="7.5" fill="#444" color="#444" >20</text>
<line x1="317.5" y1="497.3" x2="319.5" y2="497.3" stroke="#8a8a8a" stroke-width="0.7" />
<text x="321.0" y="500.0" font-size="7.5" fill="#444" color="#444" >40</text>
<line x1="317.5" y1="474.7" x2="319.5" y2="474.7" stroke="#8a8a8a" stroke-width="0.7" />
<text x="321.0" y="477.4" font-size="7.5" fill="#444" color="#444" >60</text>
<text x="252.8" y="486.3" font-size="6.9" fill="#333" color="#333" >sender:</text>
<text x="281.6" y="486.3" font-size="6.9" fill="#333" color="#333" >ligand:</text>
<text x="275.2" y="493.6" font-size="6.9" fill="#333" color="#333" text-anchor="end" >cTEC</text>
<line x1="281.5" y1="491.2" x2="291.5" y2="491.2" stroke="#4b3d9e" stroke-width="1.1" stroke-dasharray="1.1,1.5"/>
<text x="294.7" y="493.6" font-size="6.9" fill="#333" color="#333" >DLK1</text>
<line x1="281.5" y1="500.6" x2="291.5" y2="500.6" stroke="#c43d8e" stroke-width="1.1" stroke-dasharray="1.1,1.5"/>
<text x="294.7" y="503.0" font-size="6.9" fill="#333" color="#333" >DLL4</text>
<line x1="281.5" y1="509.9" x2="291.5" y2="509.9" stroke="#5f9e4f" stroke-width="1.1" stroke-dasharray="1.1,1.5"/>
<text x="294.7" y="512.3" font-size="6.9" fill="#333" color="#333" >JAG2</text>
<text x="241.5" y="575.4" font-size="8" fill="#222" color="#222" font-style="italic" text-anchor="middle" >NOTCH3</text>
<path d="M172.1 628.0h0M173.0 630.8h0M175.0 626.6h0M173.1 628.8h0M175.2 648.3h0M174.3 632.3h0M173.3 644.3h0M172.3 640.8h0M174.9 641.0h0M172.6 635.2h0M173.2 635.3h0M173.3 644.1h0M171.8 629.8h0M174.0 645.3h0M173.4 636.2h0M176.2 590.4h0M176.8 608.7h0M175.9 598.4h0M175.5 587.4h0M175.3 601.0h0M175.8 600.8h0M175.3 610.0h0M177.3 596.1h0M175.7 602.9h0M175.3 613.3h0M175.6 586.0h0M175.8 609.6h0M175.3 613.7h0M177.3 597.4h0M177.1 594.5h0M183.8 627.6h0M178.7 629.6h0M177.8 632.2h0M183.3 622.4h0M177.4 629.4h0M184.4 613.6h0M183.4 616.8h0M184.9 620.2h0M180.5 621.8h0M179.6 634.5h0M179.5 624.9h0M178.3 634.2h0M179.3 627.1h0M185.3 621.6h0M184.3 616.1h0M182.2 626.8h0M180.6 627.7h0M182.6 614.4h0M183.9 626.6h0M178.5 635.7h0M182.2 629.0h0M177.3 629.5h0M179.2 630.9h0M182.8 620.5h0M179.6 618.6h0M179.0 614.5h0M178.3 622.4h0M183.2 616.9h0M181.4 614.6h0M182.5 618.2h0M177.9 631.9h0M181.2 622.1h0M178.1 619.0h0M180.2 624.2h0M181.6 615.2h0M198.3 616.2h0M211.0 611.7h0M198.7 624.6h0M205.3 614.0h0M212.6 627.0h0M204.3 615.4h0M193.8 630.6h0M224.5 628.6h0M206.5 623.1h0M187.0 626.5h0M192.4 621.8h0M223.7 627.0h0M200.4 611.8h0M211.8 630.5h0M195.2 625.0h0M223.1 616.5h0M196.4 618.8h0M206.0 627.5h0M213.6 609.5h0M205.6 615.9h0M217.9 602.0h0M211.3 629.9h0M206.8 612.0h0M199.5 612.3h0M201.0 614.1h0M211.4 611.2h0M224.4 608.6h0M215.3 609.8h0M195.3 614.9h0M211.6 629.3h0M217.2 623.6h0M206.2 616.2h0M215.9 607.9h0M205.2 603.9h0M204.2 615.2h0M227.1 619.4h0M215.5 602.3h0M189.2 610.7h0M212.9 614.9h0M218.7 604.8h0M191.8 619.2h0M211.4 610.4h0M225.8 605.6h0M220.3 628.0h0M203.5 604.9h0M225.2 607.0h0M199.6 609.7h0M207.9 611.7h0M212.3 605.3h0M215.5 601.9h0M206.3 617.1h0M213.2 614.2h0M187.7 605.3h0M199.0 617.9h0M187.4 628.8h0M224.5 621.1h0M198.1 608.6h0M195.8 613.2h0M209.4 604.7h0M205.6 622.2h0M196.5 622.3h0M185.7 631.3h0M191.9 624.4h0M217.8 602.4h0M200.5 625.2h0M197.9 614.1h0M205.7 628.5h0M207.6 623.7h0M191.7 610.1h0M190.1 620.9h0M217.7 614.2h0M222.2 620.3h0M225.3 627.9h0M223.1 617.0h0M185.8 627.0h0M227.0 608.0h0M216.5 606.5h0M185.9 625.5h0M205.1 604.8h0M223.7 625.0h0M227.0 612.7h0M198.4 630.6h0M203.5 616.7h0M204.6 622.8h0M225.3 615.2h0M198.5 609.6h0M195.9 620.6h0M190.0 627.0h0M227.4 610.7h0M207.6 611.6h0M213.8 615.4h0M201.0 628.2h0M186.9 631.0h0M202.6 632.1h0M213.9 620.8h0M195.4 624.0h0M206.3 625.6h0M221.3 615.5h0M188.5 631.9h0M222.9 612.5h0M197.8 611.6h0M187.6 607.5h0M224.8 609.8h0M187.8 621.6h0M220.7 612.4h0M194.4 626.5h0M188.3 618.6h0M193.2 620.3h0M223.1 603.0h0M206.2 608.5h0M191.3 605.2h0M221.9 615.5h0M222.7 620.8h0M226.7 619.5h0M224.3 604.8h0M224.8 607.9h0M188.7 625.9h0M213.1 604.0h0M214.1 629.6h0M200.2 622.4h0M192.8 627.0h0M207.3 620.6h0M196.8 620.8h0M225.3 611.7h0M217.1 602.8h0M186.9 607.8h0M189.6 628.4h0M216.6 608.2h0M211.4 617.0h0M215.9 617.9h0M193.8 627.1h0M190.4 633.1h0M225.5 601.3h0M200.2 620.4h0M197.3 609.6h0M206.3 626.8h0M222.7 602.3h0M187.6 620.6h0M194.9 614.2h0M200.7 623.8h0M198.3 614.7h0M206.7 617.3h0M214.1 616.7h0M225.3 616.3h0M218.8 602.7h0M211.7 613.6h0M218.7 609.1h0M193.7 621.1h0M192.2 633.3h0M214.4 621.0h0M196.3 632.6h0M186.6 614.2h0M200.6 619.6h0M213.9 603.9h0M215.0 624.1h0M227.0 623.5h0M210.0 612.2h0M197.7 606.3h0M211.2 610.1h0M191.4 608.7h0M197.7 614.5h0M216.5 620.9h0M196.8 623.3h0M226.6 609.8h0M205.4 615.2h0M213.1 623.1h0M188.8 631.1h0M210.0 613.5h0M226.6 610.8h0M221.3 600.7h0M206.4 619.3h0M205.4 620.9h0M217.5 613.3h0M190.8 605.1h0M207.7 609.3h0M208.6 614.0h0M209.8 628.0h0M191.1 611.9h0M200.3 628.9h0M219.8 607.9h0M217.6 618.8h0M191.2 611.0h0M194.7 613.3h0M214.8 622.6h0M185.7 616.8h0M218.7 612.8h0M226.8 622.2h0M216.2 617.6h0M209.9 622.4h0M195.3 616.9h0M211.1 604.2h0M210.9 616.4h0M212.9 612.3h0M202.7 624.4h0M214.2 619.3h0M187.2 629.5h0M200.7 612.1h0M213.1 616.4h0M219.8 620.3h0M200.3 610.1h0M214.1 618.1h0M222.9 628.7h0M208.1 606.0h0M222.4 623.9h0M219.4 614.3h0M224.8 619.6h0M213.5 611.8h0M227.1 619.0h0M202.0 628.8h0M214.3 628.7h0M221.2 625.4h0M193.6 604.9h0M206.5 609.3h0M200.1 625.5h0M231.1 593.2h0M229.4 595.3h0M236.1 596.0h0M230.1 598.2h0M236.3 597.2h0M229.6 600.6h0M236.8 597.0h0M229.0 608.6h0M233.7 607.8h0M227.5 606.3h0M230.0 602.5h0M228.2 602.3h0M234.1 603.0h0M233.2 600.1h0M235.2 598.1h0M233.7 599.1h0M235.5 605.6h0M228.6 596.4h0M235.6 606.9h0M236.2 597.0h0M235.9 595.8h0M231.2 608.6h0M235.0 596.1h0M232.1 605.2h0M231.1 594.0h0M232.0 606.3h0M237.1 590.8h0M229.2 608.5h0M234.6 601.5h0M232.1 598.0h0M230.2 600.6h0M229.5 607.8h0M232.8 602.0h0M236.2 604.4h0M236.4 602.3h0M230.8 608.9h0M230.6 593.4h0M231.0 595.8h0M237.0 595.3h0M229.3 604.1h0M229.1 607.6h0M230.8 607.9h0M234.1 599.6h0M230.3 606.6h0M228.9 610.2h0M231.8 608.8h0M232.6 605.1h0M235.0 603.2h0M235.9 591.9h0M236.6 602.8h0M236.6 599.0h0M236.1 599.4h0M241.8 610.6h0M243.6 612.1h0M244.7 608.8h0M240.9 612.0h0M239.5 604.7h0M240.4 603.9h0M237.3 600.5h0M244.7 605.3h0M243.0 606.7h0M242.3 601.2h0M243.9 611.2h0M241.4 600.8h0M241.9 606.1h0M239.8 602.1h0M241.4 600.7h0M245.6 605.9h0M245.2 619.7h0M237.9 602.9h0M244.2 610.3h0M239.4 608.5h0M239.4 608.0h0M238.5 599.0h0M238.9 606.7h0M242.5 613.5h0M244.2 609.0h0M244.6 608.5h0M243.4 613.2h0M240.8 607.3h0M240.5 599.9h0M240.9 602.0h0M242.5 614.3h0M239.0 601.9h0M243.9 614.5h0M239.4 604.9h0M241.1 607.3h0M245.0 610.8h0M239.6 605.7h0M241.5 611.4h0M240.5 611.0h0M242.8 603.7h0M254.4 642.8h0M249.4 628.8h0M251.1 638.5h0M250.9 634.0h0M247.6 625.6h0M253.8 640.6h0M248.8 632.2h0M251.8 635.7h0M248.5 627.8h0M249.6 628.4h0M254.2 644.3h0M250.9 633.1h0M252.2 640.3h0M248.0 619.0h0M247.1 620.0h0M248.2 626.4h0M250.0 635.1h0M247.4 616.2h0M246.0 627.0h0M252.9 640.7h0M247.5 619.8h0M255.2 648.2h0M252.5 639.6h0M255.4 645.6h0M254.4 642.1h0M246.9 623.8h0M252.5 642.3h0M246.5 612.7h0M254.7 643.1h0M246.3 617.2h0M255.3 643.9h0M252.6 639.3h0M251.8 631.3h0M250.5 638.5h0M247.1 615.3h0M252.6 633.7h0M247.1 630.1h0M252.3 638.6h0M250.2 635.5h0M253.1 637.1h0M252.7 639.7h0M250.4 634.0h0M250.2 634.3h0M250.2 625.6h0M300.1 651.2h0M292.8 648.0h0M274.6 647.7h0M307.9 651.5h0M290.3 650.0h0M281.4 649.3h0M303.4 648.9h0M305.0 650.7h0M299.9 650.0h0M265.6 648.1h0M287.6 650.8h0M305.3 649.5h0M293.0 647.3h0M273.6 649.3h0M285.9 650.5h0M285.2 647.4h0M294.3 650.6h0M293.5 649.0h0M276.0 648.7h0M276.4 648.2h0M277.0 648.0h0M272.0 651.0h0M273.8 651.2h0M304.2 647.2h0M278.6 650.7h0M304.6 647.9h0M269.0 650.4h0M283.2 651.2h0M267.2 650.0h0M262.1 651.1h0M289.1 650.4h0M306.5 647.4h0M292.8 650.5h0M297.8 650.2h0M303.9 649.9h0M294.0 648.3h0M294.6 648.3h0M274.5 651.1h0M276.0 647.4h0M257.5 650.5h0M272.7 649.8h0M304.0 651.0h0M261.2 651.7h0M274.4 648.5h0M280.7 648.8h0M284.0 650.1h0M278.1 651.6h0M308.5 648.4h0M260.8 650.9h0M299.1 649.5h0M297.2 648.3h0M263.5 648.0h0M266.6 651.2h0M297.1 648.0h0M272.3 650.0h0M296.4 650.4h0M280.2 647.2h0M262.6 647.5h0M304.9 647.2h0M269.1 650.9h0M279.8 651.0h0M307.0 649.2h0M302.4 649.5h0M283.2 647.4h0M262.4 650.8h0M303.2 649.1h0M299.0 647.2h0M298.5 649.0h0M297.3 649.4h0M267.6 650.3h0M307.0 649.4h0M257.2 648.8h0M310.8 648.9h0M282.9 649.7h0M290.6 649.0h0M282.7 647.6h0M304.9 648.2h0M295.9 648.5h0M266.4 649.5h0M270.3 650.9h0M308.4 650.7h0M300.9 648.0h0M278.0 651.7h0M265.3 648.8h0M295.0 650.2h0M288.8 651.1h0M292.1 648.2h0M299.1 649.2h0M287.4 651.8h0M270.3 649.9h0M259.4 651.5h0M308.8 648.7h0M286.8 648.6h0M303.9 648.9h0M279.2 650.0h0M309.6 647.4h0M263.9 648.0h0M291.3 650.2h0M294.2 650.5h0M297.0 649.2h0M288.0 651.5h0M305.8 647.4h0M297.9 650.5h0M295.7 651.3h0M285.9 650.2h0M281.7 650.5h0M259.3 649.8h0M268.7 651.0h0M273.9 651.2h0M256.6 647.3h0M258.5 647.7h0M278.8 651.2h0M279.3 649.5h0M258.5 649.3h0M255.8 650.4h0M295.1 647.9h0M265.3 649.9h0M308.3 650.4h0M262.0 650.7h0M303.7 650.2h0M292.5 647.5h0M290.1 650.9h0M282.2 650.3h0M282.1 649.0h0M309.9 648.6h0M283.8 648.1h0M283.7 650.9h0M292.8 650.6h0M267.2 650.0h0M282.5 651.7h0M275.5 647.4h0M283.8 650.1h0M280.9 648.6h0M283.5 649.9h0M268.7 648.6h0M270.6 647.7h0M271.0 648.1h0M269.8 649.1h0M267.0 647.2h0M258.5 649.5h0M266.5 645.6h0M272.9 645.1h0M272.8 644.3h0M261.7 649.3h0M260.7 645.4h0M261.6 648.3h0M260.7 644.7h0M262.0 648.8h0M269.0 646.0h0M258.9 646.7h0M267.8 646.9h0M267.5 645.4h0M273.1 645.0h0M264.2 650.0h0M266.7 650.1h0M269.7 647.3h0M271.7 645.2h0M271.5 646.0h0M264.2 645.8h0M269.8 648.9h0M274.0 647.4h0M267.8 649.1h0M273.3 647.4h0M271.7 645.1h0M267.6 646.7h0M266.6 648.8h0M171.7 604.3h0M173.1 603.5h0M274.9 642.6h0M275.6 640.3h0M277.7 644.1h0M290.3 645.7h0M291.7 642.6h0M294.5 644.1h0M297.2 642.6h0M304.2 625.0h0M304.5 628.8h0M304.9 632.6h0M305.2 634.9h0M304.6 630.3h0M302.8 647.2h0M171.7 651.8h0M174.5 651.8h0" stroke="#50b4e8" stroke-opacity="0.9" stroke-width="3.5" stroke-linecap="round" fill="none"/>
<rect x="171.7" y="653.6" width="65.6" height="2.6" fill="#d2406e"/>
<path d="M224.1 653.6v2.6M174.0 653.6v2.6M182.6 653.6v2.6M198.2 653.6v2.6M194.1 653.6v2.6M216.5 653.6v2.6M209.8 653.6v2.6M185.8 653.6v2.6M197.9 653.6v2.6M222.3 653.6v2.6M193.5 653.6v2.6M173.5 653.6v2.6M198.7 653.6v2.6M219.7 653.6v2.6M178.8 653.6v2.6M202.1 653.6v2.6M222.9 653.6v2.6M207.3 653.6v2.6M217.6 653.6v2.6M230.1 653.6v2.6M191.2 653.6v2.6M226.7 653.6v2.6M220.1 653.6v2.6M206.2 653.6v2.6M195.6 653.6v2.6M233.7 653.6v2.6M175.4 653.6v2.6M179.0 653.6v2.6M230.4 653.6v2.6M235.4 653.6v2.6M236.0 653.6v2.6M186.5 653.6v2.6M188.3 653.6v2.6M231.0 653.6v2.6M206.7 653.6v2.6M234.8 653.6v2.6M213.8 653.6v2.6M229.1 653.6v2.6M204.2 653.6v2.6" stroke="#d2406e" stroke-width="0.5"/>
<path d="M184.4 653.6v2.6M222.4 653.6v2.6M235.2 653.6v2.6M226.4 653.6v2.6M226.4 653.6v2.6M210.4 653.6v2.6M233.4 653.6v2.6M188.7 653.6v2.6M197.1 653.6v2.6M199.0 653.6v2.6M235.2 653.6v2.6M220.0 653.6v2.6M175.2 653.6v2.6" stroke="#e06a8a" stroke-width="0.5"/>
<path d="M237.0 653.6v2.6M197.0 653.6v2.6M216.4 653.6v2.6M204.4 653.6v2.6M216.7 653.6v2.6M180.8 653.6v2.6M207.4 653.6v2.6M209.5 653.6v2.6M190.6 653.6v2.6M233.0 653.6v2.6M229.8 653.6v2.6M231.7 653.6v2.6M219.4 653.6v2.6M180.4 653.6v2.6" stroke="#b8304f" stroke-width="0.5"/>
<path d="M190.9 653.6v2.6M205.7 653.6v2.6M189.0 653.6v2.6M236.7 653.6v2.6M208.0 653.6v2.6M202.6 653.6v2.6M183.6 653.6v2.6M208.8 653.6v2.6M194.9 653.6v2.6M180.2 653.6v2.6M183.2 653.6v2.6M191.3 653.6v2.6" stroke="#c83a64" stroke-width="0.5"/>
<rect x="237.3" y="653.6" width="12.6" height="2.6" fill="#9ac48a"/>
<path d="M239.6 653.6v2.6M242.1 653.6v2.6M238.2 653.6v2.6" stroke="#7aa868" stroke-width="0.5"/>
<path d="M240.5 653.6v2.6M239.8 653.6v2.6M241.0 653.6v2.6M244.8 653.6v2.6" stroke="#3e6a2e" stroke-width="0.5"/>
<path d="M246.1 653.6v2.6M239.7 653.6v2.6" stroke="#b8d8a8" stroke-width="0.5"/>
<path d="M248.1 653.6v2.6M237.8 653.6v2.6M237.5 653.6v2.6" stroke="#c8a070" stroke-width="0.5"/>
<path d="M243.8 653.6v2.6M238.8 653.6v2.6" stroke="#9ac48a" stroke-width="0.5"/>
<path d="M241.2 653.6v2.6" stroke="#5e8c46" stroke-width="0.5"/>
<rect x="249.8" y="653.6" width="13.9" height="2.6" fill="#a8a0b8"/>
<path d="M257.4 653.6v2.6M254.2 653.6v2.6" stroke="#c8b8c8" stroke-width="0.5"/>
<path d="M257.5 653.6v2.6" stroke="#a8a0b8" stroke-width="0.5"/>
<path d="M250.6 653.6v2.6M255.5 653.6v2.6M261.4 653.6v2.6M259.6 653.6v2.6" stroke="#8a9a7a" stroke-width="0.5"/>
<path d="M250.6 653.6v2.6M253.9 653.6v2.6M262.9 653.6v2.6M263.5 653.6v2.6M258.6 653.6v2.6M263.5 653.6v2.6" stroke="#d0b890" stroke-width="0.5"/>
<path d="M259.5 653.6v2.6" stroke="#7a7a8a" stroke-width="0.5"/>
<path d="M253.7 653.6v2.6M254.8 653.6v2.6" stroke="#9a9aa8" stroke-width="0.5"/>
<rect x="263.8" y="653.6" width="11.2" height="2.6" fill="#e8c0d0"/>
<path d="M266.0 653.6v2.6M269.1 653.6v2.6M267.9 653.6v2.6M265.4 653.6v2.6M267.4 653.6v2.6" stroke="#d8b0a0" stroke-width="0.5"/>
<path d="M272.7 653.6v2.6M273.2 653.6v2.6M272.7 653.6v2.6M273.9 653.6v2.6" stroke="#c8c0d8" stroke-width="0.5"/>
<path d="M274.0 653.6v2.6M270.1 653.6v2.6M267.0 653.6v2.6M268.4 653.6v2.6" stroke="#e8c0d0" stroke-width="0.5"/>
<rect x="274.9" y="653.6" width="36.3" height="2.6" fill="#f2c8dc"/>
<path d="M285.6 653.6v2.6M299.6 653.6v2.6M306.8 653.6v2.6M285.2 653.6v2.6M281.4 653.6v2.6M277.9 653.6v2.6M292.1 653.6v2.6M296.2 653.6v2.6M302.8 653.6v2.6M310.4 653.6v2.6M275.9 653.6v2.6" stroke="#ecc0d8" stroke-width="0.5"/>
<path d="M291.2 653.6v2.6M304.9 653.6v2.6M280.3 653.6v2.6M306.7 653.6v2.6M309.8 653.6v2.6M299.7 653.6v2.6M286.4 653.6v2.6M309.0 653.6v2.6M301.2 653.6v2.6M294.8 653.6v2.6M283.6 653.6v2.6" stroke="#f0c4da" stroke-width="0.5"/>
<path d="M286.2 653.6v2.6M298.9 653.6v2.6M284.2 653.6v2.6M282.7 653.6v2.6M284.4 653.6v2.6M281.8 653.6v2.6M286.2 653.6v2.6M296.3 653.6v2.6M291.9 653.6v2.6M288.8 653.6v2.6M306.4 653.6v2.6" stroke="#f2c8dc" stroke-width="0.5"/>
<path d="M283.3 653.6v2.6M276.0 653.6v2.6M300.8 653.6v2.6M287.9 653.6v2.6M276.6 653.6v2.6M306.8 653.6v2.6M289.0 653.6v2.6M306.8 653.6v2.6M277.3 653.6v2.6M285.8 653.6v2.6" stroke="#f4d0e0" stroke-width="0.5"/>
<path d="M171.7,634.9 C172.6,632.0 175.4,622.2 177.3,617.3 C179.1,612.4 180.3,609.0 182.9,605.8 C185.4,602.6 189.8,599.2 192.6,598.1 C195.4,597.1 196.6,598.4 199.6,599.7 C202.6,600.9 207.3,605.2 210.8,605.8 C214.2,606.4 217.3,605.0 220.5,603.5 C223.8,602.0 228.0,597.6 230.3,596.6 C232.6,595.6 232.6,595.2 234.5,597.4 C236.3,599.5 239.1,604.4 241.4,609.6 C243.8,614.9 246.1,622.8 248.4,628.8 C250.8,634.8 253.5,641.8 255.4,645.7 C257.3,649.5 257.3,650.8 259.6,651.8 C261.9,652.8 265.4,652.1 269.3,651.8 C273.3,651.5 278.6,650.3 283.3,650.3 C288.0,650.3 292.6,652.1 297.2,651.8 C301.9,651.5 308.9,649.2 311.2,648.7" fill="none" stroke="#4b3d9e" stroke-width="1.1" stroke-dasharray="1.1,1.5"/>
<path d="M171.7,651.8 C172.6,647.3 175.4,632.6 177.3,625.0 C179.1,617.3 180.3,610.3 182.9,605.8 C185.4,601.3 189.8,599.2 192.6,598.1 C195.4,597.1 196.6,598.4 199.6,599.7 C202.6,600.9 207.3,605.2 210.8,605.8 C214.2,606.4 217.3,605.0 220.5,603.5 C223.8,602.0 228.0,597.6 230.3,596.6 C232.6,595.6 232.6,595.2 234.5,597.4 C236.3,599.5 239.1,604.4 241.4,609.6 C243.8,614.9 246.1,622.8 248.4,628.8 C250.8,634.8 253.5,641.8 255.4,645.7 C257.3,649.5 257.3,650.8 259.6,651.8 C261.9,652.8 265.4,652.1 269.3,651.8 C273.3,651.5 278.6,650.3 283.3,650.3 C288.0,650.3 292.6,652.1 297.2,651.8 C301.9,651.5 308.9,649.2 311.2,648.7" fill="none" stroke="#5f9e4f" stroke-width="1.1" stroke-dasharray="1.1,2.2"/>
<path d="M171.7,651.8 C172.9,649.0 176.3,639.1 178.7,634.9 C181.0,630.7 183.3,628.2 185.6,626.5 C188.0,624.8 190.3,625.0 192.6,625.0 C194.9,625.0 197.3,625.9 199.6,626.5 C201.9,627.1 204.2,628.7 206.6,628.8 C208.9,628.9 211.2,628.8 213.5,627.3 C215.9,625.7 218.2,623.2 220.5,619.6 C222.8,616.0 225.4,609.5 227.5,605.8 C229.6,602.1 230.8,596.7 233.1,597.4 C235.4,598.0 238.9,604.4 241.4,609.6 C244.0,614.9 246.1,622.8 248.4,628.8 C250.8,634.8 253.5,641.8 255.4,645.7 C257.3,649.5 257.3,650.8 259.6,651.8 C261.9,652.8 265.4,652.1 269.3,651.8 C273.3,651.5 278.6,650.3 283.3,650.3 C288.0,650.3 292.6,651.8 297.2,651.8 C301.9,651.8 308.9,650.5 311.2,650.3" fill="none" stroke="#c43d8e" stroke-width="1.1" stroke-dasharray="1.1,1.5"/>
<line x1="164.6" y1="580.6" x2="164.6" y2="657.0" stroke="#222" stroke-width="0.9" />
<line x1="162.6" y1="594.3" x2="164.6" y2="594.3" stroke="#222" stroke-width="0.7" />
<text x="162.3" y="597.0" font-size="7.5" fill="#444" color="#444" text-anchor="end" >0.75</text>
<line x1="162.6" y1="613.5" x2="164.6" y2="613.5" stroke="#222" stroke-width="0.7" />
<text x="162.3" y="616.2" font-size="7.5" fill="#444" color="#444" text-anchor="end" >0.50</text>
<line x1="162.6" y1="632.6" x2="164.6" y2="632.6" stroke="#222" stroke-width="0.7" />
<text x="162.3" y="635.3" font-size="7.5" fill="#444" color="#444" text-anchor="end" >0.25</text>
<line x1="162.6" y1="651.8" x2="164.6" y2="651.8" stroke="#222" stroke-width="0.7" />
<text x="162.3" y="654.5" font-size="7.5" fill="#444" color="#444" text-anchor="end" >0.00</text>
<line x1="164.6" y1="657.0" x2="317.9" y2="657.0" stroke="#222" stroke-width="0.9" />
<line x1="171.7" y1="657.0" x2="171.7" y2="659.0" stroke="#222" stroke-width="0.7" />
<text x="171.7" y="666.0" font-size="7.5" fill="#444" color="#444" text-anchor="middle" >0.00</text>
<line x1="206.6" y1="657.0" x2="206.6" y2="659.0" stroke="#222" stroke-width="0.7" />
<text x="206.6" y="666.0" font-size="7.5" fill="#444" color="#444" text-anchor="middle" >0.25</text>
<line x1="241.4" y1="657.0" x2="241.4" y2="659.0" stroke="#222" stroke-width="0.7" />
<text x="241.4" y="666.0" font-size="7.5" fill="#444" color="#444" text-anchor="middle" >0.50</text>
<line x1="276.3" y1="657.0" x2="276.3" y2="659.0" stroke="#222" stroke-width="0.7" />
<text x="276.3" y="666.0" font-size="7.5" fill="#444" color="#444" text-anchor="middle" >0.75</text>
<line x1="311.2" y1="657.0" x2="311.2" y2="659.0" stroke="#222" stroke-width="0.7" />
<text x="311.2" y="666.0" font-size="7.5" fill="#444" color="#444" text-anchor="middle" >1.00</text>
<line x1="317.9" y1="580.6" x2="317.9" y2="657.0" stroke="#8a8a8a" stroke-width="0.9" />
<line x1="317.9" y1="651.4" x2="319.9" y2="651.4" stroke="#8a8a8a" stroke-width="0.7" />
<text x="321.4" y="654.1" font-size="7.5" fill="#444" color="#444" >0</text>
<line x1="317.9" y1="637.9" x2="319.9" y2="637.9" stroke="#8a8a8a" stroke-width="0.7" />
<text x="321.4" y="640.6" font-size="7.5" fill="#444" color="#444" >10</text>
<line x1="317.9" y1="624.4" x2="319.9" y2="624.4" stroke="#8a8a8a" stroke-width="0.7" />
<text x="321.4" y="627.1" font-size="7.5" fill="#444" color="#444" >20</text>
<line x1="317.9" y1="610.8" x2="319.9" y2="610.8" stroke="#8a8a8a" stroke-width="0.7" />
<text x="321.4" y="613.5" font-size="7.5" fill="#444" color="#444" >30</text>
<line x1="317.9" y1="597.3" x2="319.9" y2="597.3" stroke="#8a8a8a" stroke-width="0.7" />
<text x="321.4" y="600.0" font-size="7.5" fill="#444" color="#444" >40</text>
<line x1="317.9" y1="583.8" x2="319.9" y2="583.8" stroke="#8a8a8a" stroke-width="0.7" />
<text x="321.4" y="586.5" font-size="7.5" fill="#444" color="#444" >50</text>
<text x="252.8" y="590.9" font-size="6.9" fill="#333" color="#333" >sender:</text>
<text x="281.6" y="590.9" font-size="6.9" fill="#333" color="#333" >ligand:</text>
<text x="275.2" y="599.3" font-size="6.9" fill="#333" color="#333" text-anchor="end" >cTEC</text>
<line x1="281.5" y1="596.9" x2="291.5" y2="596.9" stroke="#4b3d9e" stroke-width="1.1" stroke-dasharray="1.1,1.5"/>
<text x="294.7" y="599.3" font-size="6.9" fill="#333" color="#333" >DLK1</text>
<line x1="281.5" y1="605.9" x2="291.5" y2="605.9" stroke="#c43d8e" stroke-width="1.1" stroke-dasharray="1.1,1.5"/>
<text x="294.7" y="608.2" font-size="6.9" fill="#333" color="#333" >DLL4</text>
<line x1="281.5" y1="614.8" x2="291.5" y2="614.8" stroke="#5f9e4f" stroke-width="1.1" stroke-dasharray="1.1,1.5"/>
<text x="294.7" y="617.2" font-size="6.9" fill="#333" color="#333" >JAG2</text>
<text x="241.7" y="674.2" font-size="8" fill="#222" color="#222" text-anchor="middle" >Pseudo time</text>
<text x="0" y="0" font-size="8" fill="#222" text-anchor="middle" transform="translate(141.4,569) rotate(-90)">Avg. Expression</text>
<text x="0" y="0" font-size="8" fill="#222" text-anchor="middle" transform="translate(336.6,568.5) rotate(90)">−log(p−val)</text>
<text x="347.5" y="472.4" font-size="13.5" fill="#000" color="#000" font-weight="bold" >f</text>
<text x="422.6" y="468.3" font-size="8" fill="#222" color="#222" font-style="italic" text-anchor="middle" >CCL17</text>
<line x1="368.6" y1="473.0" x2="368.6" y2="515.3" stroke="#222" stroke-width="0.9" />
<line x1="366.6" y1="476.5" x2="368.6" y2="476.5" stroke="#222" stroke-width="0.7" />
<text x="366.3" y="479.2" font-size="7.5" fill="#444" color="#444" text-anchor="end" >8</text>
<line x1="366.6" y1="485.9" x2="368.6" y2="485.9" stroke="#222" stroke-width="0.7" />
<text x="366.3" y="488.6" font-size="7.5" fill="#444" color="#444" text-anchor="end" >6</text>
<line x1="366.6" y1="495.3" x2="368.6" y2="495.3" stroke="#222" stroke-width="0.7" />
<text x="366.3" y="498.0" font-size="7.5" fill="#444" color="#444" text-anchor="end" >4</text>
<line x1="366.6" y1="504.7" x2="368.6" y2="504.7" stroke="#222" stroke-width="0.7" />
<text x="366.3" y="507.4" font-size="7.5" fill="#444" color="#444" text-anchor="end" >2</text>
<line x1="366.6" y1="514.0" x2="368.6" y2="514.0" stroke="#222" stroke-width="0.7" />
<line x1="368.6" y1="515.3" x2="474.9" y2="515.3" stroke="#222" stroke-width="0.9" />
<line x1="383.5" y1="515.3" x2="383.5" y2="517.3" stroke="#222" stroke-width="0.7" />
<line x1="409.1" y1="515.3" x2="409.1" y2="517.3" stroke="#222" stroke-width="0.7" />
<line x1="434.4" y1="515.3" x2="434.4" y2="517.3" stroke="#222" stroke-width="0.7" />
<line x1="460.2" y1="515.3" x2="460.2" y2="517.3" stroke="#222" stroke-width="0.7" />
<rect x="371.5" y="512.5" width="24.0" height="1.9" fill="#cc1a50"/>
<rect x="382.85" y="497.9" width="1.30" height="16.2" fill="#cc1a50"/>
<rect x="397.6" y="512.5" width="23.0" height="1.9" fill="#ecccdc"/>
<rect x="408.60" y="479.1" width="1.00" height="35.0" fill="#ecccdc"/>
<path d="M422.4,514.3 C419.7,514.2 422.8,513.7 423.4,513.4 C424.0,513.0 426.6,512.0 427.4,511.5 C428.2,511.0 429.9,509.7 430.4,509.1 C430.9,508.6 431.6,507.5 431.8,506.8 C432.0,506.0 432.2,503.9 432.3,502.6 C432.4,501.2 432.4,497.4 432.4,495.5 C432.4,493.6 432.2,488.0 432.2,486.1 C432.2,484.2 432.0,480.2 432.0,479.1 C432.0,477.9 432.1,476.8 432.2,476.2 C432.3,475.7 432.8,474.8 433.2,474.6 C433.6,474.4 435.2,474.4 435.6,474.6 C436.0,474.8 436.5,475.7 436.6,476.2 C436.7,476.8 436.8,477.9 436.8,479.1 C436.8,480.2 436.6,484.2 436.6,486.1 C436.6,488.0 436.4,493.6 436.4,495.5 C436.4,497.4 436.4,501.2 436.5,502.6 C436.6,503.9 436.8,506.0 437.0,506.8 C437.2,507.5 437.9,508.6 438.4,509.1 C438.9,509.7 440.6,511.0 441.4,511.5 C442.2,512.0 444.8,513.0 445.4,513.4 C446.0,513.7 449.1,514.2 446.4,514.3 C443.7,514.4 425.1,514.4 422.4,514.3Z" fill="#acdcee"/>
<rect x="448.2" y="512.5" width="24.0" height="1.9" fill="#c8d890"/>
<rect x="459.70" y="497.7" width="1.00" height="16.4" fill="#c8d890"/>
<text x="422.6" y="528.2" font-size="8" fill="#222" color="#222" font-style="italic" text-anchor="middle" >CCL22</text>
<line x1="368.6" y1="533.2" x2="368.6" y2="575.1" stroke="#222" stroke-width="0.9" />
<line x1="366.6" y1="533.6" x2="368.6" y2="533.6" stroke="#222" stroke-width="0.7" />
<text x="366.3" y="536.3" font-size="7.5" fill="#444" color="#444" text-anchor="end" >8</text>
<line x1="366.6" y1="543.5" x2="368.6" y2="543.5" stroke="#222" stroke-width="0.7" />
<text x="366.3" y="546.2" font-size="7.5" fill="#444" color="#444" text-anchor="end" >6</text>
<line x1="366.6" y1="553.5" x2="368.6" y2="553.5" stroke="#222" stroke-width="0.7" />
<text x="366.3" y="556.2" font-size="7.5" fill="#444" color="#444" text-anchor="end" >4</text>
<line x1="366.6" y1="563.4" x2="368.6" y2="563.4" stroke="#222" stroke-width="0.7" />
<text x="366.3" y="566.1" font-size="7.5" fill="#444" color="#444" text-anchor="end" >2</text>
<line x1="366.6" y1="573.4" x2="368.6" y2="573.4" stroke="#222" stroke-width="0.7" />
<text x="366.3" y="576.1" font-size="7.5" fill="#444" color="#444" text-anchor="end" >0</text>
<line x1="368.6" y1="575.1" x2="474.9" y2="575.1" stroke="#222" stroke-width="0.9" />
<line x1="383.5" y1="575.1" x2="383.5" y2="577.1" stroke="#222" stroke-width="0.7" />
<text x="0" y="0" font-size="8" fill="#444" text-anchor="end" transform="translate(386.3,582.1) rotate(-45)">DC1</text>
<line x1="409.1" y1="575.1" x2="409.1" y2="577.1" stroke="#222" stroke-width="0.7" />
<text x="0" y="0" font-size="8" fill="#444" text-anchor="end" transform="translate(411.9,582.1) rotate(-45)">DC2</text>
<line x1="434.4" y1="575.1" x2="434.4" y2="577.1" stroke="#222" stroke-width="0.7" />
<text x="0" y="0" font-size="8" fill="#444" text-anchor="end" transform="translate(437.2,582.1) rotate(-45)">aDC</text>
<line x1="460.2" y1="575.1" x2="460.2" y2="577.1" stroke="#222" stroke-width="0.7" />
<text x="0" y="0" font-size="8" fill="#444" text-anchor="end" transform="translate(463.0,582.1) rotate(-45)">pDC</text>
<rect x="371.5" y="571.8" width="24.0" height="1.9" fill="#cc1a50"/>
<rect x="382.85" y="554.5" width="1.30" height="18.9" fill="#cc1a50"/>
<rect x="397.6" y="571.8" width="23.0" height="1.9" fill="#ecccdc"/>
<rect x="408.60" y="545.5" width="1.00" height="27.9" fill="#ecccdc"/>
<path d="M422.4,573.6 C419.7,573.5 422.8,573.0 423.4,572.6 C424.0,572.3 426.5,571.1 427.4,570.6 C428.3,570.1 430.7,568.8 431.4,568.1 C432.1,567.5 433.0,566.0 433.2,565.1 C433.4,564.3 433.1,562.2 433.0,561.2 C432.9,560.1 432.4,557.3 432.2,556.2 C432.0,555.0 431.6,552.4 431.5,551.2 C431.4,550.1 431.6,547.4 431.7,546.2 C431.8,545.1 432.3,542.4 432.4,541.3 C432.5,540.1 432.7,537.2 432.8,536.3 C432.9,535.4 433.1,534.1 433.4,533.8 C433.7,533.5 435.1,533.5 435.4,533.8 C435.7,534.1 435.9,535.4 436.0,536.3 C436.1,537.2 436.3,540.1 436.4,541.3 C436.5,542.4 437.0,545.1 437.1,546.2 C437.2,547.4 437.4,550.1 437.3,551.2 C437.2,552.4 436.8,555.0 436.6,556.2 C436.4,557.3 435.9,560.1 435.8,561.2 C435.7,562.2 435.4,564.3 435.6,565.1 C435.8,566.0 436.7,567.5 437.4,568.1 C438.1,568.8 440.5,570.1 441.4,570.6 C442.3,571.1 444.8,572.3 445.4,572.6 C446.0,573.0 449.1,573.5 446.4,573.6 C443.7,573.7 425.1,573.7 422.4,573.6Z" fill="#acdcee"/>
<rect x="448.2" y="571.8" width="24.0" height="1.9" fill="#c8d890"/>
<rect x="459.70" y="547.0" width="1.00" height="26.4" fill="#c8d890"/>
<text x="422.6" y="603.7" font-size="8" fill="#222" color="#222" font-style="italic" text-anchor="middle" >CCL19</text>
<line x1="367.6" y1="609.2" x2="367.6" y2="655.6" stroke="#222" stroke-width="0.9" />
<line x1="365.6" y1="619.4" x2="367.6" y2="619.4" stroke="#222" stroke-width="0.7" />
<text x="365.3" y="622.1" font-size="7.5" fill="#444" color="#444" text-anchor="end" >7.5</text>
<line x1="365.6" y1="631.1" x2="367.6" y2="631.1" stroke="#222" stroke-width="0.7" />
<text x="365.3" y="633.9" font-size="7.5" fill="#444" color="#444" text-anchor="end" >5.0</text>
<line x1="365.6" y1="642.9" x2="367.6" y2="642.9" stroke="#222" stroke-width="0.7" />
<text x="365.3" y="645.6" font-size="7.5" fill="#444" color="#444" text-anchor="end" >2.5</text>
<line x1="365.6" y1="654.6" x2="367.6" y2="654.6" stroke="#222" stroke-width="0.7" />
<text x="365.3" y="657.3" font-size="7.5" fill="#444" color="#444" text-anchor="end" >0.0</text>
<line x1="367.6" y1="655.6" x2="475.3" y2="655.6" stroke="#222" stroke-width="0.9" />
<line x1="376.8" y1="655.6" x2="376.8" y2="657.6" stroke="#222" stroke-width="0.7" />
<text x="0" y="0" font-size="8" fill="#444" text-anchor="end" transform="translate(379.6,662.6) rotate(-45)">cTEC</text>
<line x1="391.7" y1="655.6" x2="391.7" y2="657.6" stroke="#222" stroke-width="0.7" />
<text x="0" y="0" font-size="8" fill="#444" text-anchor="end" transform="translate(394.5,662.6) rotate(-45)">mcTEC</text>
<line x1="406.4" y1="655.6" x2="406.4" y2="657.6" stroke="#222" stroke-width="0.7" />
<text x="0" y="0" font-size="8" fill="#444" text-anchor="end" transform="translate(409.2,662.6) rotate(-45)">mTEC(I)</text>
<line x1="421.7" y1="655.6" x2="421.7" y2="657.6" stroke="#222" stroke-width="0.7" />
<text x="0" y="0" font-size="8" fill="#444" text-anchor="end" transform="translate(424.5,662.6) rotate(-45)">mTEC(II)</text>
<line x1="436.5" y1="655.6" x2="436.5" y2="657.6" stroke="#222" stroke-width="0.7" />
<text x="0" y="0" font-size="8" fill="#444" text-anchor="end" transform="translate(439.3,662.6) rotate(-45)">mTEC(III)</text>
<line x1="451.4" y1="655.6" x2="451.4" y2="657.6" stroke="#222" stroke-width="0.7" />
<text x="0" y="0" font-size="8" fill="#444" text-anchor="end" transform="translate(454.2,662.6) rotate(-45)">mTEC(IV)</text>
<line x1="466.3" y1="655.6" x2="466.3" y2="657.6" stroke="#222" stroke-width="0.7" />
<text x="0" y="0" font-size="8" fill="#444" text-anchor="end" transform="translate(469.1,662.6) rotate(-45)">aDC</text>
<path d="M369.6,654.8 C368.0,654.6 369.8,653.8 370.3,653.4 C370.8,653.0 373.2,652.0 373.8,651.5 C374.4,651.0 375.3,649.9 375.4,649.2 C375.5,648.5 375.2,646.5 375.0,645.4 C374.8,644.3 374.0,640.9 373.8,639.8 C373.6,638.7 373.6,637.0 373.7,636.0 C373.8,635.1 374.4,632.4 374.6,631.4 C374.8,630.3 375.5,627.8 375.6,626.7 C375.7,625.6 375.8,623.1 375.8,622.0 C375.8,620.9 375.8,617.8 376.0,617.3 C376.2,616.7 377.4,616.7 377.6,617.3 C377.8,617.8 377.8,620.9 377.8,622.0 C377.8,623.1 377.9,625.6 378.0,626.7 C378.1,627.8 378.8,630.3 379.0,631.4 C379.2,632.4 379.8,635.1 379.9,636.0 C380.0,637.0 380.0,638.7 379.8,639.8 C379.6,640.9 378.8,644.3 378.6,645.4 C378.4,646.5 378.1,648.5 378.2,649.2 C378.3,649.9 379.2,651.0 379.8,651.5 C380.4,652.0 382.8,653.0 383.3,653.4 C383.8,653.8 385.6,654.6 384.0,654.8 C382.4,655.0 371.2,655.0 369.6,654.8Z" fill="#cc1a50"/>
<path d="M384.5,654.8 C382.9,654.6 384.8,653.8 385.2,653.4 C385.6,653.0 387.2,651.7 387.7,651.0 C388.2,650.4 389.3,648.7 389.5,647.8 C389.7,646.8 389.2,644.3 389.1,643.1 C389.0,641.8 388.6,638.3 388.6,637.0 C388.6,635.6 389.0,632.7 389.2,631.4 C389.4,630.0 390.1,627.0 390.3,625.7 C390.5,624.5 390.6,621.7 390.7,620.6 C390.8,619.5 390.8,616.8 391.0,616.3 C391.2,615.8 392.2,615.8 392.4,616.3 C392.6,616.8 392.6,619.5 392.7,620.6 C392.8,621.7 392.9,624.5 393.1,625.7 C393.3,627.0 394.0,630.0 394.2,631.4 C394.4,632.7 394.8,635.6 394.8,637.0 C394.8,638.3 394.4,641.8 394.3,643.1 C394.2,644.3 393.7,646.8 393.9,647.8 C394.1,648.7 395.2,650.4 395.7,651.0 C396.2,651.7 397.8,653.0 398.2,653.4 C398.6,653.8 400.5,654.6 398.9,654.8 C397.3,655.0 386.1,655.0 384.5,654.8Z" fill="#d162a8"/>
<path d="M404.1,654.8 C403.6,654.6 403.9,653.5 404.0,652.9 C404.1,652.4 404.7,651.0 404.8,650.1 C404.9,649.2 404.7,646.8 404.6,645.4 C404.5,644.1 403.9,640.0 403.6,638.4 C403.3,636.7 402.3,632.8 401.9,631.4 C401.5,629.9 400.5,626.8 400.2,625.7 C399.9,624.6 399.2,622.7 399.2,622.0 C399.2,621.2 399.5,619.9 399.9,619.2 C400.3,618.4 401.9,616.6 402.4,615.9 C402.9,615.1 404.2,613.2 404.6,612.6 C405.0,612.0 405.5,610.9 405.8,610.7 C406.1,610.5 406.7,610.5 407.0,610.7 C407.3,610.9 407.8,612.0 408.2,612.6 C408.6,613.2 409.9,615.1 410.4,615.9 C410.9,616.6 412.5,618.4 412.9,619.2 C413.3,619.9 413.6,621.2 413.6,622.0 C413.6,622.7 412.9,624.6 412.6,625.7 C412.3,626.8 411.3,629.9 410.9,631.4 C410.5,632.8 409.5,636.7 409.2,638.4 C408.9,640.0 408.3,644.1 408.2,645.4 C408.1,646.8 407.9,649.2 408.0,650.1 C408.1,651.0 408.7,652.4 408.8,652.9 C408.9,653.5 409.2,654.6 408.7,654.8 C408.2,655.0 404.6,655.0 404.1,654.8Z" fill="#ecccdc"/>
<path d="M419.4,654.8 C418.9,654.6 419.2,653.5 419.3,652.9 C419.4,652.4 420.1,651.0 420.2,650.1 C420.3,649.2 420.1,646.8 419.9,645.4 C419.7,644.1 418.9,640.0 418.5,638.4 C418.1,636.7 416.7,632.9 416.2,631.4 C415.7,629.8 414.6,626.5 414.5,625.3 C414.4,624.0 414.9,622.0 415.2,621.0 C415.5,620.1 416.7,618.0 417.2,617.3 C417.7,616.5 419.3,614.9 419.7,614.5 C420.1,614.0 420.6,613.6 420.9,613.5 C421.2,613.4 422.2,613.4 422.5,613.5 C422.8,613.6 423.3,614.0 423.7,614.5 C424.1,614.9 425.7,616.5 426.2,617.3 C426.7,618.0 427.9,620.1 428.2,621.0 C428.5,622.0 429.0,624.0 428.9,625.3 C428.8,626.5 427.7,629.8 427.2,631.4 C426.7,632.9 425.3,636.7 424.9,638.4 C424.5,640.0 423.7,644.1 423.5,645.4 C423.3,646.8 423.1,649.2 423.2,650.1 C423.3,651.0 424.0,652.4 424.1,652.9 C424.2,653.5 424.5,654.6 424.0,654.8 C423.5,655.0 419.9,655.0 419.4,654.8Z" fill="#5a2e6e"/>
<path d="M429.5,654.8 C427.9,654.6 429.6,653.8 430.0,653.4 C430.4,653.0 432.0,651.6 432.5,651.0 C433.0,650.4 434.2,649.0 434.5,648.2 C434.8,647.5 435.1,645.6 435.2,644.5 C435.3,643.3 435.4,640.2 435.4,638.4 C435.4,636.6 435.4,630.7 435.4,629.0 C435.4,627.3 435.5,624.7 435.5,623.8 C435.5,623.0 435.6,621.8 435.8,621.5 C436.0,621.2 437.0,621.2 437.2,621.5 C437.4,621.8 437.5,623.0 437.5,623.8 C437.5,624.7 437.6,627.3 437.6,629.0 C437.6,630.7 437.6,636.6 437.6,638.4 C437.6,640.2 437.7,643.3 437.8,644.5 C437.9,645.6 438.2,647.5 438.5,648.2 C438.8,649.0 440.0,650.4 440.5,651.0 C441.0,651.6 442.6,653.0 443.0,653.4 C443.4,653.8 445.1,654.6 443.5,654.8 C441.9,655.0 431.1,655.0 429.5,654.8Z" fill="#3a92b4"/>
<path d="M444.4,654.8 C442.8,654.5 444.6,653.3 444.8,652.5 C445.0,651.6 446.2,649.1 446.4,647.8 C446.6,646.4 446.7,642.6 446.8,640.7 C446.9,638.8 447.3,633.3 447.4,631.4 C447.5,629.4 447.7,625.6 447.7,624.3 C447.7,623.1 447.7,621.2 447.8,620.6 C447.9,620.0 448.1,619.3 448.8,619.2 C449.5,619.0 453.3,619.0 454.0,619.2 C454.7,619.3 454.9,620.0 455.0,620.6 C455.1,621.2 455.1,623.1 455.1,624.3 C455.1,625.6 455.3,629.4 455.4,631.4 C455.5,633.3 455.9,638.8 456.0,640.7 C456.1,642.6 456.2,646.4 456.4,647.8 C456.6,649.1 457.8,651.6 458.0,652.5 C458.2,653.3 460.0,654.5 458.4,654.8 C456.8,655.1 446.0,655.1 444.4,654.8Z" fill="#acdcee"/>
<path d="M462.3,654.8 C461.4,654.6 462.4,653.6 462.5,652.9 C462.6,652.3 463.4,650.2 463.5,649.2 C463.6,648.1 463.6,645.3 463.5,644.0 C463.4,642.8 462.8,639.9 462.5,638.4 C462.2,636.9 461.2,632.9 460.8,631.4 C460.4,629.8 459.4,626.5 459.3,625.3 C459.2,624.0 459.7,621.4 460.1,620.6 C460.5,619.7 461.7,618.5 462.8,618.2 C463.9,617.9 468.7,617.9 469.8,618.2 C470.9,618.5 472.1,619.7 472.5,620.6 C472.9,621.4 473.4,624.0 473.3,625.3 C473.2,626.5 472.2,629.8 471.8,631.4 C471.4,632.9 470.4,636.9 470.1,638.4 C469.8,639.9 469.2,642.8 469.1,644.0 C469.0,645.3 469.0,648.1 469.1,649.2 C469.2,650.2 470.0,652.3 470.1,652.9 C470.2,653.6 471.2,654.6 470.3,654.8 C469.4,655.0 463.2,655.0 462.3,654.8Z" fill="#c8d890"/>
<text x="584.4" y="468.4" font-size="8" fill="#222" color="#222" font-style="italic" text-anchor="middle" >CCR4</text>
<path d="M546.9 543.8h0M524.4 542.8h0M515.2 543.5h0M577.1 544.5h0M553.3 543.3h0M517.6 543.8h0M563.6 543.7h0M565.1 544.3h0M531.3 544.4h0M549.9 542.6h0M555.8 543.0h0M541.4 543.0h0M521.9 544.0h0M561.6 543.1h0M544.1 544.4h0M533.3 544.2h0M534.3 542.9h0M528.6 542.7h0M575.8 544.5h0M541.1 543.6h0M516.4 543.7h0M577.7 544.4h0M556.2 544.4h0M555.0 542.7h0M528.9 544.6h0M520.6 543.5h0M516.0 544.4h0M549.3 542.6h0M544.0 543.8h0M559.1 544.4h0M555.0 544.3h0M557.1 542.6h0M518.6 543.4h0M556.9 544.3h0M533.4 542.5h0M584.1 544.4h0M563.8 542.6h0M531.2 543.3h0M517.8 543.8h0M561.6 543.4h0M568.6 544.4h0M538.9 542.8h0M555.3 543.7h0M542.7 542.5h0M554.7 544.6h0M570.3 543.9h0M544.9 544.2h0M545.6 543.9h0M521.0 543.3h0M522.0 542.9h0M516.6 542.9h0M570.8 543.6h0M564.0 544.1h0M566.0 543.7h0M530.8 542.5h0M542.6 543.8h0M574.5 543.8h0M561.1 544.3h0M573.3 544.1h0M518.3 542.5h0M526.8 542.6h0M583.2 543.3h0M515.6 544.5h0M529.3 543.8h0M557.2 542.5h0M539.4 544.3h0M553.8 544.3h0M520.8 543.4h0M563.1 544.5h0M546.1 543.1h0M567.8 543.8h0M576.4 544.3h0M564.5 543.0h0M575.9 543.6h0M521.7 544.5h0M551.5 544.3h0M558.5 544.4h0M568.9 544.2h0M515.7 544.3h0M546.5 543.4h0M541.7 544.3h0M548.3 542.6h0M552.0 542.6h0M516.8 542.5h0M576.5 543.5h0M551.1 543.5h0M577.9 544.5h0M559.4 543.5h0M535.6 543.1h0M564.8 544.4h0M563.3 543.7h0M548.8 543.3h0M518.5 543.3h0M540.7 542.7h0M530.8 542.9h0M565.4 543.3h0M575.6 544.6h0M556.2 543.3h0M561.9 543.8h0M519.6 544.2h0M557.0 544.2h0M519.3 543.9h0M547.4 543.5h0M516.6 543.0h0M538.0 542.9h0M528.9 541.7h0M545.1 541.7h0M556.1 542.0h0M531.6 543.3h0M535.1 542.2h0M534.0 543.6h0M531.8 543.9h0M554.7 541.7h0M539.0 542.3h0M541.7 542.8h0M538.9 542.6h0M535.2 543.5h0M543.1 543.7h0M540.9 541.8h0M529.3 543.9h0M550.9 544.1h0M535.7 542.0h0M545.5 543.6h0M530.3 543.5h0M537.0 542.1h0M555.8 542.2h0M553.7 541.8h0M553.0 541.8h0M555.5 544.0h0M537.5 543.6h0M588.8 540.9h0M586.8 540.9h0M587.2 542.5h0M586.3 542.2h0M588.9 540.6h0M587.6 542.5h0M587.3 542.2h0M585.5 542.4h0M585.6 541.9h0M589.2 542.0h0M589.0 541.4h0M587.6 541.1h0M590.0 538.9h0M589.8 541.5h0M588.3 541.7h0M584.3 542.9h0M587.8 540.2h0M586.7 541.0h0M588.1 542.5h0M589.7 541.3h0M588.3 542.6h0M584.3 542.2h0M584.5 543.8h0M585.4 543.5h0M590.5 538.1h0M589.2 541.1h0M591.0 539.8h0M585.2 542.2h0M586.9 542.5h0M586.6 542.3h0M585.6 542.2h0M590.8 539.6h0M584.3 542.7h0M584.4 543.1h0M602.0 529.4h0M602.5 528.5h0M595.1 538.3h0M597.2 533.9h0M594.6 537.8h0M600.7 532.5h0M598.9 533.0h0M602.8 532.6h0M594.0 536.2h0M599.7 534.7h0M593.4 539.4h0M598.2 531.7h0M594.4 538.6h0M599.9 532.8h0M601.8 527.8h0M602.9 528.5h0M597.7 536.6h0M601.4 531.6h0M597.3 534.0h0M603.2 529.1h0M602.7 527.2h0M592.8 539.2h0M602.3 528.7h0M603.3 531.3h0M598.1 531.7h0M598.2 533.0h0M603.3 531.3h0M592.5 537.3h0M598.7 535.0h0M601.7 532.1h0M593.4 539.0h0M592.3 539.5h0M601.0 531.6h0M603.2 532.2h0M593.9 539.3h0M598.6 535.1h0M599.7 532.4h0M598.7 531.6h0M601.2 528.9h0M593.6 538.4h0M603.2 530.1h0M595.2 536.6h0M594.0 536.0h0M599.3 535.1h0M603.2 529.3h0M594.8 536.3h0M603.0 530.5h0M592.0 540.6h0M592.5 538.7h0M595.5 534.5h0M594.3 539.6h0M597.3 536.6h0M595.5 537.6h0M593.9 537.0h0M602.9 530.5h0M599.4 533.8h0M602.6 529.6h0M592.2 538.1h0M594.3 539.4h0M592.1 537.8h0M600.2 532.9h0M598.4 532.6h0M592.7 537.7h0M600.2 529.6h0M592.5 538.5h0M597.8 532.4h0M596.1 534.9h0M602.4 531.0h0M597.9 532.1h0M592.2 537.0h0M595.5 536.4h0M605.6 524.3h0M607.3 522.2h0M604.4 525.7h0M609.3 519.7h0M605.2 528.4h0M606.8 527.4h0M610.2 520.2h0M610.2 521.8h0M608.1 520.7h0M608.1 523.2h0M603.8 529.3h0M606.3 522.4h0M610.4 516.3h0M610.4 521.6h0M603.8 530.0h0M603.7 531.3h0M607.6 525.3h0M607.9 523.8h0M605.5 523.4h0M604.9 524.9h0M607.3 522.8h0M604.6 526.1h0M609.8 522.3h0M606.9 523.4h0M606.9 522.7h0M608.1 523.9h0M608.4 520.5h0M606.8 523.9h0M608.0 522.9h0M604.2 528.8h0M609.0 519.8h0M604.1 528.5h0M607.7 523.0h0M604.7 526.7h0M608.5 521.9h0M610.2 519.2h0M603.7 530.3h0M608.5 524.9h0M610.3 518.1h0M608.9 523.7h0M603.7 526.8h0M607.2 524.4h0M607.2 522.2h0M606.2 523.6h0M604.8 524.5h0M608.5 523.4h0M613.6 512.4h0M612.6 515.0h0M616.3 508.1h0M612.2 514.9h0M614.4 511.8h0M611.0 519.1h0M613.4 513.1h0M613.4 518.4h0M611.9 515.0h0M616.1 511.0h0M611.1 516.6h0M616.0 513.1h0M613.6 516.4h0M610.9 517.1h0M611.6 520.6h0M616.3 514.1h0M615.3 510.4h0M612.1 517.9h0M612.0 515.8h0M616.7 509.0h0M613.7 514.6h0M613.1 514.1h0M612.3 518.6h0M614.9 514.8h0M616.7 509.0h0M611.7 520.9h0M614.3 516.5h0M613.7 514.1h0M615.6 512.9h0M614.0 512.3h0M611.4 519.1h0M615.6 513.1h0M616.4 514.0h0M611.1 519.4h0M613.5 516.0h0M611.9 517.6h0M616.2 508.4h0M614.5 515.4h0M614.2 516.5h0M611.0 516.6h0M612.2 519.2h0M624.2 515.4h0M619.0 511.1h0M624.9 498.0h0M618.5 513.1h0M625.0 515.7h0M623.3 497.1h0M622.1 503.1h0M620.6 508.3h0M622.7 513.5h0M621.1 509.2h0M620.1 489.9h0M621.9 497.9h0M622.7 518.1h0M623.9 491.5h0M623.5 502.4h0M624.4 489.5h0M619.3 510.9h0M619.9 515.6h0M618.9 513.1h0M616.9 502.8h0M616.9 500.5h0M624.5 496.8h0M617.3 493.7h0M618.5 491.9h0M622.6 501.3h0M620.8 487.4h0M618.7 489.3h0M618.7 512.6h0M618.8 514.3h0M624.3 513.5h0M622.0 509.3h0M620.1 493.0h0M621.8 509.4h0M623.5 514.3h0M617.2 494.6h0M624.5 495.2h0M623.1 489.5h0M625.2 501.8h0M618.4 498.4h0M620.7 495.5h0M620.0 514.1h0M618.6 511.1h0M623.4 497.2h0M621.6 507.8h0M623.4 504.7h0M621.3 511.2h0M625.8 506.1h0M621.1 510.8h0M620.9 502.7h0M620.7 494.5h0M619.8 497.7h0M622.9 514.1h0M624.2 517.1h0M619.1 491.4h0M617.9 506.8h0M620.5 488.4h0M625.6 513.2h0M622.6 492.5h0M621.5 507.8h0M618.2 512.9h0M617.2 512.9h0M623.4 500.2h0M617.4 487.8h0M625.7 506.9h0M620.1 490.4h0M622.8 495.2h0M618.5 494.1h0M620.8 515.2h0M617.3 506.8h0M618.9 507.7h0M625.0 507.1h0M618.7 512.3h0M617.3 502.8h0M620.6 514.3h0M621.5 506.9h0M617.0 500.7h0M618.2 509.8h0M623.6 505.4h0M620.0 499.8h0M623.4 499.1h0M625.4 497.1h0M630.6 490.2h0M626.1 514.3h0M627.5 507.9h0M630.7 507.2h0M634.6 507.9h0M632.5 498.5h0M638.7 491.2h0M631.0 507.3h0M639.6 494.3h0M638.0 513.6h0M629.9 506.2h0M630.1 505.0h0M638.9 506.2h0M632.9 508.8h0M634.0 502.3h0M628.4 517.8h0M636.3 494.3h0M630.5 513.0h0M627.2 500.2h0M633.9 491.1h0M635.2 501.5h0M634.1 491.9h0M638.6 512.0h0M627.5 515.9h0M626.0 492.9h0M639.2 503.2h0M636.4 499.0h0M634.9 506.6h0M639.1 508.2h0M627.2 518.3h0M636.8 495.7h0M637.7 495.3h0M629.0 508.2h0M629.7 492.8h0M625.9 510.5h0M634.9 499.7h0M625.9 516.8h0M628.2 512.8h0M632.9 517.3h0M637.3 504.3h0M634.9 507.4h0M637.6 514.0h0M637.9 510.1h0M633.0 501.9h0M635.2 502.3h0M635.8 515.9h0M633.3 503.6h0M634.4 514.7h0M635.7 515.1h0M626.5 518.6h0M639.4 512.0h0M635.3 515.9h0M634.2 511.6h0M634.2 496.8h0M635.2 502.4h0M635.8 517.3h0M626.6 512.6h0M632.1 496.0h0M626.2 513.7h0M633.1 508.8h0M627.0 511.1h0M626.2 519.9h0M637.5 508.3h0M635.8 510.5h0M636.1 492.9h0M626.1 500.9h0M638.4 496.1h0M627.5 496.8h0M636.3 512.8h0M635.0 500.1h0M628.6 494.1h0M637.7 514.7h0M632.4 501.1h0M626.0 503.7h0M638.9 507.6h0M632.7 490.9h0M638.0 491.2h0M627.1 488.2h0M630.4 508.1h0M628.4 494.5h0M634.0 504.8h0M632.7 503.3h0M633.9 513.6h0M635.8 510.1h0M626.1 489.5h0M627.2 494.6h0M636.5 505.4h0M634.3 510.9h0M628.8 492.1h0M636.2 496.0h0M632.2 517.4h0M636.6 490.8h0M630.2 500.1h0M627.9 489.6h0M635.7 515.6h0M635.6 498.6h0M631.9 501.3h0M638.8 498.4h0M632.4 490.0h0M634.7 495.7h0M633.6 496.2h0M636.6 503.4h0M632.3 512.6h0M634.9 497.1h0M631.5 516.7h0M635.6 499.4h0M634.8 513.3h0M638.1 497.2h0M636.9 513.0h0M629.6 502.9h0M625.9 488.9h0M628.3 515.0h0M636.9 510.6h0M633.8 499.3h0M628.7 518.0h0M635.6 493.0h0M637.1 514.1h0M630.5 505.3h0M626.3 491.8h0M637.3 490.7h0M638.5 494.3h0M630.0 499.3h0M638.0 516.5h0M626.9 488.6h0M627.1 491.2h0M643.9 513.4h0M643.9 490.9h0M646.9 518.8h0M648.8 511.4h0M648.9 505.8h0M649.3 504.2h0M643.6 487.0h0M650.6 504.6h0M645.5 501.2h0M647.2 513.6h0M650.1 509.1h0M650.8 503.7h0M649.9 490.7h0M642.8 520.4h0M646.2 502.4h0M643.5 509.4h0M642.8 518.4h0M644.8 503.8h0M644.6 492.3h0M644.6 495.6h0M648.1 505.4h0M644.9 514.1h0M647.3 492.2h0M650.5 495.3h0M650.5 503.2h0M644.7 487.5h0M647.2 520.8h0M649.2 502.5h0M649.2 509.4h0M646.7 501.7h0M646.5 491.5h0M644.1 498.3h0M650.2 521.3h0M649.2 499.0h0M644.6 521.0h0M645.2 516.7h0M641.9 503.6h0M646.7 489.7h0M646.7 495.6h0M645.8 521.9h0M643.4 517.7h0M646.4 512.1h0M646.5 511.0h0M640.2 512.8h0M650.1 508.0h0M647.1 503.9h0M644.8 498.2h0M649.8 501.3h0M648.5 511.2h0M642.8 521.3h0M645.6 520.5h0M642.7 505.4h0M643.9 514.7h0M644.4 489.7h0M646.0 499.2h0M650.8 501.2h0M650.3 499.1h0M648.7 501.9h0M650.8 504.6h0M643.5 498.8h0M640.8 506.1h0M650.2 519.2h0M644.3 511.4h0M646.6 492.4h0M643.3 501.8h0M640.1 512.3h0M644.4 499.6h0M649.5 491.9h0M645.4 513.3h0M648.9 493.2h0M648.5 499.7h0M646.7 509.0h0M646.1 509.7h0M647.5 491.8h0M643.1 495.8h0M640.9 517.8h0M641.8 511.1h0M644.5 508.5h0M649.8 522.4h0M649.3 515.4h0M643.1 505.3h0M644.7 502.1h0M640.1 500.0h0M640.2 515.0h0M642.8 503.6h0M647.8 522.4h0M640.1 506.3h0M642.3 496.3h0M648.7 491.1h0M650.7 489.4h0M642.4 501.6h0M641.2 502.0h0M647.5 500.6h0M650.6 510.9h0M650.8 479.4h0M649.4 485.9h0M652.2 544.2h0M651.5 543.3h0M648.0 543.3h0" stroke="#50b4e8" stroke-opacity="0.9" stroke-width="3.5" stroke-linecap="round" fill="none"/>
<rect x="514.8" y="545.6" width="65.2" height="3.3" fill="#d2406e"/>
<path d="M542.5 545.6v3.3M576.6 545.6v3.3M550.0 545.6v3.3M560.4 545.6v3.3M519.9 545.6v3.3M545.5 545.6v3.3M550.7 545.6v3.3M530.8 545.6v3.3M569.0 545.6v3.3M566.0 545.6v3.3M575.6 545.6v3.3M547.3 545.6v3.3M533.8 545.6v3.3M552.2 545.6v3.3M556.4 545.6v3.3M537.3 545.6v3.3M550.1 545.6v3.3" stroke="#b8304f" stroke-width="0.5"/>
<path d="M566.9 545.6v3.3M518.7 545.6v3.3M557.1 545.6v3.3M531.1 545.6v3.3M530.3 545.6v3.3M540.8 545.6v3.3M556.7 545.6v3.3M521.3 545.6v3.3M560.6 545.6v3.3M522.7 545.6v3.3M562.4 545.6v3.3M578.1 545.6v3.3M535.0 545.6v3.3M552.3 545.6v3.3M569.2 545.6v3.3M552.5 545.6v3.3M539.8 545.6v3.3M564.4 545.6v3.3M545.4 545.6v3.3M562.2 545.6v3.3M575.8 545.6v3.3M520.6 545.6v3.3M564.0 545.6v3.3M573.7 545.6v3.3M559.0 545.6v3.3M574.8 545.6v3.3M526.3 545.6v3.3M579.1 545.6v3.3M525.4 545.6v3.3" stroke="#d2406e" stroke-width="0.5"/>
<path d="M558.8 545.6v3.3M524.8 545.6v3.3M554.0 545.6v3.3M563.6 545.6v3.3M537.9 545.6v3.3M520.6 545.6v3.3M528.8 545.6v3.3M530.1 545.6v3.3M525.1 545.6v3.3M543.1 545.6v3.3M524.8 545.6v3.3M527.6 545.6v3.3M537.8 545.6v3.3M552.8 545.6v3.3" stroke="#c83a64" stroke-width="0.5"/>
<path d="M555.9 545.6v3.3M523.4 545.6v3.3M538.3 545.6v3.3M564.1 545.6v3.3M552.4 545.6v3.3M577.1 545.6v3.3M578.1 545.6v3.3M569.0 545.6v3.3M568.9 545.6v3.3M545.0 545.6v3.3M519.9 545.6v3.3M542.2 545.6v3.3M559.5 545.6v3.3M515.6 545.6v3.3M517.9 545.6v3.3M522.4 545.6v3.3M558.1 545.6v3.3M516.0 545.6v3.3" stroke="#e06a8a" stroke-width="0.5"/>
<rect x="580.0" y="545.6" width="12.5" height="3.3" fill="#9ac48a"/>
<path d="M581.8 545.6v3.3M590.3 545.6v3.3M592.4 545.6v3.3" stroke="#b8d8a8" stroke-width="0.5"/>
<path d="M590.6 545.6v3.3M589.5 545.6v3.3M584.3 545.6v3.3M587.0 545.6v3.3M587.7 545.6v3.3M584.6 545.6v3.3" stroke="#9ac48a" stroke-width="0.5"/>
<path d="M586.5 545.6v3.3M589.0 545.6v3.3" stroke="#c8a070" stroke-width="0.5"/>
<path d="M591.8 545.6v3.3M588.1 545.6v3.3" stroke="#5e8c46" stroke-width="0.5"/>
<path d="M583.2 545.6v3.3" stroke="#7aa868" stroke-width="0.5"/>
<rect x="592.5" y="545.6" width="13.9" height="3.3" fill="#a8a0b8"/>
<path d="M599.7 545.6v3.3M600.9 545.6v3.3M602.9 545.6v3.3M604.5 545.6v3.3" stroke="#c8b8c8" stroke-width="0.5"/>
<path d="M599.1 545.6v3.3M599.2 545.6v3.3M593.8 545.6v3.3M594.1 545.6v3.3M604.9 545.6v3.3M604.2 545.6v3.3M603.0 545.6v3.3M600.6 545.6v3.3" stroke="#8a9a7a" stroke-width="0.5"/>
<path d="M594.1 545.6v3.3" stroke="#d0b890" stroke-width="0.5"/>
<path d="M603.4 545.6v3.3" stroke="#9a9aa8" stroke-width="0.5"/>
<path d="M596.2 545.6v3.3M597.7 545.6v3.3" stroke="#a8a0b8" stroke-width="0.5"/>
<rect x="606.4" y="545.6" width="11.1" height="3.3" fill="#e8c0d0"/>
<path d="M610.2 545.6v3.3M606.5 545.6v3.3" stroke="#f0c8d8" stroke-width="0.5"/>
<path d="M614.3 545.6v3.3M612.2 545.6v3.3" stroke="#d8b0a0" stroke-width="0.5"/>
<path d="M611.9 545.6v3.3M616.8 545.6v3.3M615.2 545.6v3.3M614.4 545.6v3.3M615.2 545.6v3.3" stroke="#e8c0d0" stroke-width="0.5"/>
<path d="M615.8 545.6v3.3M612.7 545.6v3.3M612.6 545.6v3.3M615.6 545.6v3.3" stroke="#c8c0d8" stroke-width="0.5"/>
<rect x="617.5" y="545.6" width="36.1" height="3.3" fill="#f2c8dc"/>
<path d="M642.0 545.6v3.3M633.9 545.6v3.3M642.4 545.6v3.3M636.8 545.6v3.3M652.1 545.6v3.3M652.2 545.6v3.3M622.8 545.6v3.3M626.6 545.6v3.3M622.3 545.6v3.3M647.0 545.6v3.3M653.2 545.6v3.3M628.3 545.6v3.3M649.4 545.6v3.3M650.5 545.6v3.3" stroke="#f0c4da" stroke-width="0.5"/>
<path d="M628.7 545.6v3.3M650.7 545.6v3.3M627.6 545.6v3.3M645.7 545.6v3.3M643.7 545.6v3.3M632.7 545.6v3.3" stroke="#f2c8dc" stroke-width="0.5"/>
<path d="M624.3 545.6v3.3M645.7 545.6v3.3M631.4 545.6v3.3M640.3 545.6v3.3M632.9 545.6v3.3M629.7 545.6v3.3M629.7 545.6v3.3M632.6 545.6v3.3M642.6 545.6v3.3M638.1 545.6v3.3M628.4 545.6v3.3" stroke="#f4d0e0" stroke-width="0.5"/>
<path d="M652.0 545.6v3.3M630.3 545.6v3.3M640.7 545.6v3.3M635.1 545.6v3.3M641.8 545.6v3.3M650.0 545.6v3.3M649.7 545.6v3.3M641.6 545.6v3.3M618.8 545.6v3.3M625.2 545.6v3.3M647.8 545.6v3.3M625.6 545.6v3.3" stroke="#ecc0d8" stroke-width="0.5"/>
<path d="M514.8,544.2 C519.4,544.2 534.5,544.3 542.6,544.2 C550.7,544.1 558.3,544.1 563.4,543.8 C568.5,543.4 570.3,542.0 573.1,542.0 C575.9,542.0 577.0,543.4 580.0,543.8 C583.0,544.1 588.6,544.4 591.1,544.2 C593.7,544.0 593.2,546.0 595.3,542.3 C597.4,538.6 600.9,528.0 603.6,522.2 C606.4,516.3 609.2,510.4 612.0,507.0 C614.7,503.7 617.5,503.0 620.3,501.9 C623.1,500.7 625.8,499.6 628.6,500.1 C631.4,500.7 634.2,502.5 636.9,505.3 C639.7,508.1 642.7,512.7 645.3,517.0 C647.8,521.3 651.1,528.9 652.2,531.2" fill="none" stroke="#4b3d9e" stroke-width="1.1" stroke-dasharray="1.1,1.5"/>
<path d="M514.8,544.2 C519.4,544.2 534.5,544.3 542.6,544.2 C550.7,544.1 558.3,544.1 563.4,543.8 C568.5,543.4 570.3,542.0 573.1,542.0 C575.9,542.0 577.0,543.4 580.0,543.8 C583.0,544.1 588.6,544.4 591.1,544.2 C593.7,544.0 593.2,546.0 595.3,542.3 C597.4,538.6 600.9,528.0 603.6,522.2 C606.4,516.3 609.2,510.4 612.0,507.0 C614.7,503.7 617.5,503.0 620.3,501.9 C623.1,500.7 625.8,499.6 628.6,500.1 C631.4,500.7 634.2,502.5 636.9,505.3 C639.7,508.1 642.7,512.7 645.3,517.0 C647.8,521.3 651.1,528.9 652.2,531.2" fill="none" stroke="#a0267e" stroke-width="1.1" stroke-dasharray="1.1,2.2"/>
<line x1="507.4" y1="473.6" x2="507.4" y2="549.5" stroke="#222" stroke-width="0.9" />
<line x1="505.4" y1="479.4" x2="507.4" y2="479.4" stroke="#222" stroke-width="0.7" />
<text x="505.1" y="482.1" font-size="7.5" fill="#444" color="#444" text-anchor="end" >1.5</text>
<line x1="505.4" y1="501.0" x2="507.4" y2="501.0" stroke="#222" stroke-width="0.7" />
<text x="505.1" y="503.7" font-size="7.5" fill="#444" color="#444" text-anchor="end" >1.0</text>
<line x1="505.4" y1="522.6" x2="507.4" y2="522.6" stroke="#222" stroke-width="0.7" />
<text x="505.1" y="525.3" font-size="7.5" fill="#444" color="#444" text-anchor="end" >0.5</text>
<line x1="505.4" y1="544.2" x2="507.4" y2="544.2" stroke="#222" stroke-width="0.7" />
<text x="505.1" y="546.9" font-size="7.5" fill="#444" color="#444" text-anchor="end" >0.0</text>
<line x1="507.4" y1="549.5" x2="660.6" y2="549.5" stroke="#222" stroke-width="0.9" />
<line x1="514.8" y1="549.5" x2="514.8" y2="551.5" stroke="#222" stroke-width="0.7" />
<text x="514.8" y="558.5" font-size="7.5" fill="#444" color="#444" text-anchor="middle" >0.00</text>
<line x1="549.5" y1="549.5" x2="549.5" y2="551.5" stroke="#222" stroke-width="0.7" />
<text x="549.5" y="558.5" font-size="7.5" fill="#444" color="#444" text-anchor="middle" >0.25</text>
<line x1="584.2" y1="549.5" x2="584.2" y2="551.5" stroke="#222" stroke-width="0.7" />
<text x="584.2" y="558.5" font-size="7.5" fill="#444" color="#444" text-anchor="middle" >0.50</text>
<line x1="618.9" y1="549.5" x2="618.9" y2="551.5" stroke="#222" stroke-width="0.7" />
<text x="618.9" y="558.5" font-size="7.5" fill="#444" color="#444" text-anchor="middle" >0.75</text>
<line x1="653.6" y1="549.5" x2="653.6" y2="551.5" stroke="#222" stroke-width="0.7" />
<text x="653.6" y="558.5" font-size="7.5" fill="#444" color="#444" text-anchor="middle" >1.00</text>
<line x1="660.6" y1="473.5" x2="660.6" y2="549.5" stroke="#8a8a8a" stroke-width="0.9" />
<line x1="660.6" y1="544.8" x2="662.6" y2="544.8" stroke="#8a8a8a" stroke-width="0.7" />
<text x="664.1" y="547.5" font-size="7.5" fill="#444" color="#444" >0</text>
<line x1="660.6" y1="522.1" x2="662.6" y2="522.1" stroke="#8a8a8a" stroke-width="0.7" />
<text x="664.1" y="524.8" font-size="7.5" fill="#444" color="#444" >20</text>
<line x1="660.6" y1="499.5" x2="662.6" y2="499.5" stroke="#8a8a8a" stroke-width="0.7" />
<text x="664.1" y="502.2" font-size="7.5" fill="#444" color="#444" >40</text>
<line x1="660.6" y1="476.8" x2="662.6" y2="476.8" stroke="#8a8a8a" stroke-width="0.7" />
<text x="664.1" y="479.5" font-size="7.5" fill="#444" color="#444" >60</text>
<text x="514.8" y="485.5" font-size="6.9" fill="#333" color="#333" >sender:</text>
<text x="543.0" y="485.5" font-size="6.9" fill="#333" color="#333" >ligand:</text>
<text x="537.2" y="493.9" font-size="6.9" fill="#333" color="#333" text-anchor="end" >aDC</text>
<line x1="543.0" y1="491.5" x2="553.2" y2="491.5" stroke="#4b3d9e" stroke-width="1.1" stroke-dasharray="1.1,1.5"/>
<text x="556.2" y="493.9" font-size="6.9" fill="#333" color="#333" >CCL17</text>
<line x1="543.0" y1="500.6" x2="553.2" y2="500.6" stroke="#a0267e" stroke-width="1.1" stroke-dasharray="1.1,1.5"/>
<text x="556.2" y="503.0" font-size="6.9" fill="#333" color="#333" >CCL22</text>
<text x="584.4" y="575.4" font-size="8" fill="#222" color="#222" font-style="italic" text-anchor="middle" >CCR7</text>
<path d="M544.7 648.7h0M514.7 649.1h0M539.3 647.4h0M565.5 647.9h0M543.1 648.2h0M556.1 647.8h0M538.5 648.3h0M545.2 649.6h0M531.5 651.0h0M534.6 648.8h0M574.0 650.7h0M570.1 648.4h0M561.1 649.5h0M544.7 648.9h0M562.6 647.9h0M515.3 647.0h0M564.9 647.9h0M533.9 650.0h0M567.7 648.1h0M540.4 649.5h0M531.8 650.7h0M525.1 649.9h0M526.4 648.6h0M562.2 649.3h0M532.6 650.4h0M543.4 650.7h0M540.5 650.7h0M559.0 648.3h0M520.6 650.6h0M535.1 650.5h0M571.2 649.6h0M515.9 649.7h0M555.7 647.6h0M536.1 647.3h0M525.7 650.2h0M559.1 649.0h0M539.0 650.8h0M547.6 650.4h0M570.5 647.7h0M555.9 648.9h0M521.2 651.0h0M540.9 649.7h0M558.2 647.6h0M543.7 648.3h0M575.8 650.6h0M517.3 650.8h0M562.9 649.2h0M559.0 647.5h0M522.5 648.6h0M545.8 649.4h0M545.9 649.0h0M563.3 649.4h0M565.9 650.0h0M571.3 649.2h0M557.9 649.3h0M558.2 649.6h0M558.4 648.1h0M515.3 649.1h0M534.8 651.1h0M518.2 647.8h0M516.9 648.2h0M518.3 650.6h0M542.6 648.2h0M558.8 649.7h0M546.4 648.7h0M517.7 649.4h0M544.9 651.4h0M547.0 649.2h0M558.7 650.9h0M565.8 648.9h0M536.1 651.3h0M566.7 648.9h0M576.9 647.8h0M530.5 648.5h0M545.3 648.0h0M541.0 648.9h0M517.9 646.9h0M517.9 649.1h0M565.4 650.5h0M532.4 648.4h0M520.0 649.0h0M576.4 650.4h0M560.1 649.3h0M540.7 649.2h0M576.1 650.9h0M550.7 649.9h0M523.1 649.9h0M570.2 649.6h0M542.6 647.2h0M516.9 648.6h0M571.7 647.6h0M534.3 650.0h0M560.4 649.5h0M518.1 650.7h0M569.0 649.2h0M569.2 648.3h0M533.6 649.5h0M539.8 649.3h0M530.8 649.7h0M530.2 649.8h0M555.9 649.5h0M518.2 648.5h0M572.6 647.8h0M564.9 648.0h0M525.9 647.6h0M536.8 650.0h0M539.6 647.3h0M559.0 648.6h0M534.5 648.2h0M527.8 649.3h0M565.2 647.5h0M551.2 649.1h0M541.4 650.9h0M554.0 648.8h0M517.9 649.7h0M534.1 647.3h0M564.4 650.3h0M533.7 649.8h0M522.1 650.2h0M531.3 650.5h0M556.1 651.2h0M564.1 648.5h0M530.0 649.8h0M553.3 647.4h0M522.2 647.7h0M532.5 647.9h0M560.2 649.9h0M525.6 649.8h0M557.0 648.8h0M527.5 650.2h0M538.6 651.3h0M550.3 647.7h0M520.0 651.1h0M560.7 648.5h0M568.5 649.5h0M574.9 648.2h0M533.3 649.8h0M517.6 648.8h0M554.3 649.1h0M549.5 647.5h0M570.6 650.3h0M516.7 650.8h0M574.3 650.5h0M575.1 649.0h0M514.9 649.0h0M527.0 649.9h0M536.7 650.5h0M515.2 651.1h0M574.4 649.9h0M547.0 651.0h0M544.7 648.0h0M570.8 650.5h0M575.8 648.6h0M533.4 650.8h0M529.9 650.4h0M522.9 648.5h0M569.6 649.5h0M562.9 647.9h0M576.4 649.5h0M554.0 648.6h0M571.8 648.9h0M561.4 649.1h0M564.7 648.1h0M521.9 647.0h0M539.4 648.5h0M565.1 651.2h0M553.8 648.6h0M550.0 649.2h0M557.2 649.6h0M547.5 647.8h0M584.7 649.6h0M586.5 649.4h0M584.4 649.7h0M582.8 649.3h0M585.5 649.9h0M577.6 650.4h0M580.3 649.2h0M584.4 649.5h0M585.1 649.9h0M581.9 651.3h0M581.2 649.3h0M578.9 650.1h0M580.0 650.8h0M579.6 650.8h0M584.2 650.7h0M586.1 651.3h0M586.7 649.0h0M586.0 650.6h0M577.2 649.5h0M582.4 650.9h0M585.8 650.5h0M578.8 649.4h0M584.2 650.9h0M588.6 648.3h0M590.5 646.1h0M587.9 647.3h0M588.7 650.0h0M590.8 647.3h0M589.9 647.9h0M590.8 647.3h0M589.1 649.1h0M587.8 650.4h0M588.8 650.3h0M591.4 650.0h0M590.3 647.9h0M591.7 646.5h0M589.3 649.6h0M590.4 649.9h0M588.2 647.3h0M591.7 644.9h0M592.1 646.9h0M587.4 648.3h0M591.8 649.8h0M589.3 646.9h0M588.2 649.6h0M588.5 647.2h0M587.1 650.4h0M588.6 648.8h0M595.3 635.8h0M592.7 647.8h0M595.4 645.0h0M594.0 639.4h0M597.9 633.4h0M597.9 638.1h0M597.0 633.3h0M597.8 639.1h0M595.7 634.7h0M596.7 635.9h0M595.0 637.5h0M597.4 640.4h0M597.1 638.8h0M597.0 639.9h0M595.9 634.0h0M593.5 644.6h0M593.4 648.0h0M592.5 648.3h0M593.6 642.4h0M593.1 646.4h0M592.6 649.7h0M596.2 635.3h0M595.9 638.1h0M592.5 647.6h0M593.8 642.2h0M596.4 639.2h0M594.7 646.6h0M595.1 645.8h0M597.6 641.3h0M596.8 635.9h0M595.8 642.6h0M594.9 642.5h0M594.3 641.2h0M599.0 634.0h0M600.7 624.4h0M602.0 609.8h0M598.5 625.8h0M600.4 626.2h0M600.1 617.0h0M599.2 625.3h0M599.3 633.0h0M600.0 624.3h0M599.8 618.5h0M601.8 611.6h0M601.1 611.5h0M599.6 621.4h0M598.4 635.9h0M599.2 625.7h0M598.3 625.6h0M600.4 615.5h0M599.7 619.0h0M600.8 614.0h0M599.9 625.2h0M601.2 620.9h0M599.3 628.3h0M600.1 628.5h0M599.3 630.7h0M601.5 609.4h0M601.6 608.0h0M601.9 605.1h0M600.0 627.6h0M599.4 627.5h0M599.3 633.7h0M599.8 616.3h0M602.4 607.5h0M602.7 607.3h0M604.5 593.3h0M604.3 600.1h0M603.5 599.2h0M602.7 606.1h0M603.5 596.0h0M604.9 588.7h0M604.8 591.8h0M603.1 608.7h0M602.8 599.0h0M604.5 591.0h0M602.3 605.4h0M602.5 609.9h0M603.9 596.7h0M604.6 593.4h0M604.7 588.0h0M604.3 600.2h0M603.6 605.1h0M603.1 597.9h0M603.2 595.8h0M604.3 593.9h0M603.0 604.8h0M604.6 589.9h0M603.6 601.0h0M606.3 599.0h0M605.1 595.7h0M607.7 595.6h0M606.3 593.8h0M607.0 603.6h0M607.6 599.0h0M605.0 592.6h0M605.7 592.8h0M607.8 604.2h0M607.0 594.3h0M606.6 598.2h0M607.3 599.1h0M606.3 595.4h0M605.3 588.5h0M607.6 602.2h0M606.4 601.8h0M606.4 602.3h0M605.5 596.9h0M607.7 597.9h0M605.5 593.9h0M606.9 600.2h0M607.7 595.0h0M606.2 594.1h0M607.7 595.5h0M607.5 602.0h0M614.6 610.7h0M609.7 607.0h0M610.9 607.3h0M613.7 617.5h0M612.9 605.1h0M608.7 602.2h0M611.8 608.3h0M611.0 606.8h0M609.7 615.2h0M609.1 614.8h0M608.5 613.0h0M608.2 604.8h0M613.3 615.5h0M612.5 609.9h0M608.3 611.5h0M611.6 606.4h0M614.3 618.3h0M610.9 605.1h0M611.0 611.9h0M609.0 611.4h0M612.4 616.2h0M609.0 612.0h0M612.9 617.1h0M613.9 610.9h0M614.6 612.2h0M611.2 608.5h0M613.5 616.2h0M608.2 608.4h0M609.4 599.6h0M614.6 612.6h0M611.8 615.4h0M609.0 610.8h0M610.7 604.8h0M610.1 609.7h0M608.1 601.5h0M611.7 606.8h0M609.1 609.0h0M611.0 606.8h0M608.3 603.4h0M611.6 612.6h0M610.1 600.9h0M608.5 601.9h0M612.8 611.6h0M608.3 609.5h0M614.5 607.0h0M608.6 603.7h0M614.7 617.7h0M614.5 611.6h0M608.8 610.4h0M611.9 615.6h0M609.6 602.4h0M609.3 602.9h0M614.3 607.4h0M608.2 609.6h0M610.3 609.2h0M607.9 605.6h0M608.8 600.5h0M612.4 613.3h0M612.0 614.8h0M614.1 612.7h0M610.8 608.9h0M609.6 611.5h0M622.6 622.0h0M619.5 631.8h0M619.8 617.6h0M615.0 621.5h0M622.9 620.3h0M617.3 629.5h0M617.3 624.1h0M616.2 619.5h0M620.1 619.6h0M621.1 622.7h0M615.6 621.5h0M618.4 619.6h0M614.8 617.0h0M619.9 622.5h0M622.1 622.0h0M615.0 611.4h0M617.0 624.7h0M618.6 615.8h0M617.3 626.0h0M617.3 629.6h0M617.4 624.1h0M621.9 621.4h0M615.5 618.6h0M621.4 633.8h0M616.1 618.1h0M617.7 615.3h0M619.0 616.3h0M619.2 620.6h0M614.9 617.0h0M617.8 623.2h0M617.5 616.7h0M617.5 622.7h0M621.1 625.4h0M617.8 620.5h0M615.0 617.1h0M614.8 614.7h0M616.5 626.8h0M619.3 621.1h0M622.0 621.4h0M615.8 623.9h0M619.2 616.2h0M618.3 619.6h0M617.6 617.7h0M614.9 621.6h0M619.8 619.8h0M618.5 628.0h0M619.5 615.4h0M619.0 621.4h0M621.7 622.0h0M621.8 623.8h0M619.3 616.9h0M620.9 624.5h0M616.0 625.6h0M617.9 613.3h0M621.9 623.9h0M619.8 627.3h0M615.8 626.6h0M620.1 626.2h0M615.1 616.4h0M618.1 617.1h0M621.6 634.8h0M614.9 618.4h0M616.0 620.3h0M622.0 629.8h0M616.0 616.2h0M615.9 611.3h0M621.6 620.7h0M619.3 627.2h0M621.4 632.5h0M620.0 631.0h0M614.9 610.6h0M622.9 619.4h0M617.9 624.9h0M620.7 628.4h0M621.8 619.3h0M625.0 646.1h0M626.5 638.8h0M631.8 639.3h0M627.4 626.7h0M623.1 644.7h0M623.2 646.5h0M632.9 635.9h0M633.6 645.1h0M632.9 645.9h0M628.7 628.2h0M628.6 646.8h0M628.8 639.4h0M628.8 643.9h0M626.1 631.0h0M624.0 645.3h0M633.8 642.1h0M626.4 639.0h0M629.7 647.3h0M629.5 627.6h0M628.5 628.0h0M633.5 641.5h0M626.9 646.6h0M628.8 629.6h0M634.0 637.8h0M623.8 630.1h0M624.1 637.0h0M630.7 636.2h0M630.4 639.5h0M629.2 632.4h0M632.9 645.6h0M627.1 632.4h0M623.3 637.4h0M626.6 626.5h0M626.8 637.2h0M632.4 646.0h0M629.7 647.3h0M624.4 626.0h0M624.6 645.6h0M625.7 626.5h0M624.3 626.5h0M626.5 642.8h0M625.6 629.9h0M629.9 639.7h0M625.0 646.8h0M628.7 630.3h0M624.3 640.9h0M628.0 633.7h0M623.6 643.7h0M631.2 638.2h0M634.2 645.4h0M627.2 639.4h0M630.9 644.7h0M629.9 643.8h0M626.7 638.9h0M631.4 633.7h0M629.6 642.3h0M625.2 637.8h0M632.5 631.2h0M633.0 634.5h0M626.5 646.7h0M628.5 636.9h0M624.8 628.4h0M629.5 644.5h0M631.1 636.7h0M631.7 644.0h0M632.9 635.0h0M626.1 633.6h0M625.4 636.8h0M630.6 631.8h0M630.4 641.1h0M625.2 632.1h0M630.5 633.9h0M631.9 634.9h0M633.4 638.3h0M624.9 639.3h0M624.8 629.1h0M630.8 648.0h0M630.1 636.7h0M626.3 629.3h0M625.8 630.0h0M625.9 633.0h0M627.3 641.0h0M631.5 639.4h0M647.6 649.4h0M641.5 646.9h0M646.2 639.8h0M639.6 646.9h0M636.9 649.7h0M642.5 635.4h0M637.6 641.4h0M638.4 639.0h0M644.3 637.2h0M642.1 635.7h0M634.3 636.0h0M635.3 642.4h0M635.2 638.3h0M638.6 644.1h0M647.2 644.8h0M639.7 646.4h0M635.1 649.1h0M644.3 643.4h0M634.4 634.2h0M636.4 647.1h0M640.5 636.5h0M643.3 648.0h0M638.3 644.6h0M636.9 636.9h0M637.7 642.4h0M635.0 646.1h0M637.9 638.1h0M646.6 640.7h0M641.9 638.6h0M643.1 650.8h0M642.0 650.3h0M636.7 638.0h0M643.0 651.3h0M635.8 650.7h0M643.9 635.2h0M636.0 639.3h0M646.0 640.3h0M642.7 638.5h0M635.7 633.5h0M642.4 638.1h0M645.5 645.5h0M646.1 648.7h0M646.3 650.6h0M641.0 650.8h0M639.6 634.8h0M643.4 647.8h0M645.6 641.9h0M638.7 649.4h0M636.4 642.8h0M638.7 646.8h0M637.4 646.8h0M644.3 646.8h0M647.1 644.5h0M640.1 645.9h0M646.5 648.6h0M638.1 642.1h0M642.0 647.0h0M644.2 645.6h0M643.8 648.5h0M641.0 637.1h0M640.0 637.4h0M640.2 646.1h0M644.6 638.5h0M646.3 650.3h0M642.9 637.4h0M645.2 645.0h0M646.7 649.0h0M641.2 645.5h0M646.6 642.2h0M643.5 640.1h0M635.3 647.5h0M639.5 642.4h0M637.4 643.6h0M638.2 642.3h0M644.8 648.5h0M642.8 645.2h0M639.7 651.0h0M636.6 635.7h0M647.1 649.3h0M644.4 647.6h0M636.7 645.2h0M645.7 646.3h0M636.8 639.6h0M652.6 650.2h0M651.7 650.7h0M652.8 650.5h0M653.0 650.6h0M648.4 650.4h0M653.7 650.4h0M648.6 651.3h0M651.9 650.4h0M652.6 651.3h0M650.6 651.3h0M652.1 650.6h0M650.5 650.7h0M650.7 651.3h0M649.7 650.6h0M650.3 650.2h0M652.4 651.0h0M605.0 582.4h0M604.3 583.6h0M650.9 636.6h0M650.9 624.3h0" stroke="#50b4e8" stroke-opacity="0.9" stroke-width="3.5" stroke-linecap="round" fill="none"/>
<rect x="514.6" y="653.4" width="65.4" height="2.6" fill="#d2406e"/>
<path d="M527.8 653.4v2.6M566.7 653.4v2.6M554.1 653.4v2.6M557.2 653.4v2.6M521.4 653.4v2.6M560.0 653.4v2.6M556.4 653.4v2.6M530.4 653.4v2.6M576.9 653.4v2.6M526.9 653.4v2.6M520.9 653.4v2.6M522.2 653.4v2.6M535.5 653.4v2.6M527.6 653.4v2.6M565.9 653.4v2.6" stroke="#c83a64" stroke-width="0.5"/>
<path d="M562.8 653.4v2.6M566.1 653.4v2.6M571.0 653.4v2.6M546.7 653.4v2.6M518.3 653.4v2.6M555.1 653.4v2.6M545.9 653.4v2.6M554.6 653.4v2.6M532.8 653.4v2.6M555.5 653.4v2.6M519.1 653.4v2.6M522.4 653.4v2.6M548.8 653.4v2.6M558.6 653.4v2.6M527.1 653.4v2.6M558.5 653.4v2.6M539.9 653.4v2.6M534.7 653.4v2.6M536.0 653.4v2.6M573.5 653.4v2.6M532.9 653.4v2.6M577.2 653.4v2.6M548.6 653.4v2.6M546.2 653.4v2.6M549.6 653.4v2.6M564.2 653.4v2.6M517.2 653.4v2.6M526.2 653.4v2.6M521.2 653.4v2.6M579.6 653.4v2.6M516.7 653.4v2.6M531.0 653.4v2.6M536.9 653.4v2.6M536.0 653.4v2.6M577.3 653.4v2.6" stroke="#d2406e" stroke-width="0.5"/>
<path d="M551.8 653.4v2.6M560.2 653.4v2.6M556.7 653.4v2.6M539.0 653.4v2.6M564.1 653.4v2.6M555.2 653.4v2.6M565.5 653.4v2.6M575.7 653.4v2.6M521.9 653.4v2.6M529.1 653.4v2.6M534.3 653.4v2.6M569.7 653.4v2.6M544.8 653.4v2.6M519.7 653.4v2.6M517.7 653.4v2.6M548.8 653.4v2.6M515.2 653.4v2.6" stroke="#e06a8a" stroke-width="0.5"/>
<path d="M530.5 653.4v2.6M573.3 653.4v2.6M569.8 653.4v2.6M564.6 653.4v2.6M565.4 653.4v2.6M532.0 653.4v2.6M542.6 653.4v2.6M523.3 653.4v2.6M578.8 653.4v2.6M535.5 653.4v2.6M570.5 653.4v2.6" stroke="#b8304f" stroke-width="0.5"/>
<rect x="580.0" y="653.4" width="12.5" height="2.6" fill="#9ac48a"/>
<path d="M591.5 653.4v2.6M583.1 653.4v2.6M586.9 653.4v2.6M583.6 653.4v2.6M585.6 653.4v2.6" stroke="#c8a070" stroke-width="0.5"/>
<path d="M583.4 653.4v2.6M586.3 653.4v2.6M584.2 653.4v2.6M587.2 653.4v2.6" stroke="#7aa868" stroke-width="0.5"/>
<path d="M582.5 653.4v2.6" stroke="#5e8c46" stroke-width="0.5"/>
<path d="M583.3 653.4v2.6" stroke="#3e6a2e" stroke-width="0.5"/>
<path d="M583.1 653.4v2.6M584.1 653.4v2.6M592.0 653.4v2.6M590.9 653.4v2.6" stroke="#b8d8a8" stroke-width="0.5"/>
<rect x="592.5" y="653.4" width="13.9" height="2.6" fill="#a8a0b8"/>
<path d="M599.3 653.4v2.6M602.1 653.4v2.6M599.7 653.4v2.6" stroke="#a8a0b8" stroke-width="0.5"/>
<path d="M596.7 653.4v2.6M599.6 653.4v2.6" stroke="#7a7a8a" stroke-width="0.5"/>
<path d="M595.7 653.4v2.6M601.3 653.4v2.6M603.7 653.4v2.6" stroke="#d0b890" stroke-width="0.5"/>
<path d="M595.2 653.4v2.6M600.4 653.4v2.6M600.1 653.4v2.6" stroke="#9a9aa8" stroke-width="0.5"/>
<path d="M604.9 653.4v2.6M593.8 653.4v2.6" stroke="#8a9a7a" stroke-width="0.5"/>
<path d="M600.6 653.4v2.6M602.5 653.4v2.6M600.6 653.4v2.6" stroke="#c8b8c8" stroke-width="0.5"/>
<rect x="606.4" y="653.4" width="11.1" height="2.6" fill="#e8c0d0"/>
<path d="M614.1 653.4v2.6M615.2 653.4v2.6M609.1 653.4v2.6M615.5 653.4v2.6" stroke="#e8c0d0" stroke-width="0.5"/>
<path d="M609.4 653.4v2.6M608.1 653.4v2.6M611.7 653.4v2.6" stroke="#c8c0d8" stroke-width="0.5"/>
<path d="M606.8 653.4v2.6M612.3 653.4v2.6M617.4 653.4v2.6" stroke="#f0c8d8" stroke-width="0.5"/>
<path d="M616.9 653.4v2.6M609.3 653.4v2.6M610.2 653.4v2.6" stroke="#d8b0a0" stroke-width="0.5"/>
<rect x="617.5" y="653.4" width="36.2" height="2.6" fill="#f2c8dc"/>
<path d="M632.2 653.4v2.6M653.6 653.4v2.6M619.2 653.4v2.6M639.2 653.4v2.6M628.1 653.4v2.6M642.0 653.4v2.6M628.9 653.4v2.6M618.6 653.4v2.6M624.7 653.4v2.6M626.8 653.4v2.6M631.8 653.4v2.6M623.5 653.4v2.6" stroke="#f0c4da" stroke-width="0.5"/>
<path d="M631.4 653.4v2.6M644.5 653.4v2.6M638.4 653.4v2.6M638.7 653.4v2.6M620.0 653.4v2.6M638.1 653.4v2.6M619.0 653.4v2.6M633.0 653.4v2.6M648.2 653.4v2.6M627.7 653.4v2.6" stroke="#ecc0d8" stroke-width="0.5"/>
<path d="M644.1 653.4v2.6M623.9 653.4v2.6M650.0 653.4v2.6M626.4 653.4v2.6M621.5 653.4v2.6M648.6 653.4v2.6M651.4 653.4v2.6M624.3 653.4v2.6M645.4 653.4v2.6M633.4 653.4v2.6M629.7 653.4v2.6" stroke="#f2c8dc" stroke-width="0.5"/>
<path d="M649.7 653.4v2.6M625.0 653.4v2.6M646.2 653.4v2.6M624.0 653.4v2.6M633.9 653.4v2.6M634.4 653.4v2.6M626.8 653.4v2.6M646.6 653.4v2.6M644.0 653.4v2.6M650.3 653.4v2.6" stroke="#f4d0e0" stroke-width="0.5"/>
<path d="M514.6,651.4 C519.2,651.3 533.1,650.9 542.4,650.9 C551.7,650.9 564.4,651.4 570.2,651.4 C576.0,651.4 574.9,651.7 577.2,650.9 C579.5,650.1 581.8,649.1 584.1,646.5 C586.5,643.9 588.8,640.1 591.1,635.4 C593.4,630.7 596.0,623.7 598.1,618.1 C600.1,612.6 601.8,606.0 603.6,602.1 C605.5,598.2 607.3,595.1 609.2,594.7 C611.0,594.3 612.9,597.6 614.8,599.6 C616.6,601.7 618.5,604.3 620.3,607.0 C622.2,609.8 623.6,612.7 625.9,616.2 C628.2,619.6 631.7,624.2 634.2,628.0 C636.8,631.7 639.1,635.9 641.2,638.6 C643.3,641.3 644.9,642.4 646.7,644.0 C648.6,645.6 651.4,647.3 652.3,647.9" fill="none" stroke="#4b3d9e" stroke-width="1.1" stroke-dasharray="1.1,1.5"/>
<path d="M514.6,651.4 C519.2,651.3 533.1,650.9 542.4,650.9 C551.7,650.9 564.4,651.4 570.2,651.4 C576.0,651.4 574.9,651.8 577.2,650.9 C579.5,650.0 581.8,648.7 584.1,646.0 C586.5,643.3 588.8,639.4 591.1,634.6 C593.4,629.9 596.0,622.9 598.1,617.4 C600.1,611.9 601.9,605.4 603.6,601.6 C605.4,597.8 606.9,594.8 608.5,594.7 C610.1,594.6 611.6,598.0 613.4,600.9 C615.1,603.7 616.8,608.1 618.9,612.0 C621.0,615.9 623.3,620.2 625.9,624.3 C628.4,628.4 631.7,633.3 634.2,636.6 C636.8,639.9 639.1,642.2 641.2,644.0 C643.3,645.9 644.9,646.9 646.7,647.7 C648.6,648.5 651.4,648.7 652.3,648.9" fill="none" stroke="#c43d8e" stroke-width="1.1" stroke-dasharray="1.1,2.2"/>
<path d="M514.6,651.4 C519.2,651.3 533.1,650.9 542.4,650.9 C551.7,650.9 564.4,651.4 570.2,651.4 C576.0,651.4 574.9,651.9 577.2,650.9 C579.5,649.9 581.8,648.0 584.1,645.2 C586.5,642.4 588.8,638.9 591.1,634.1 C593.4,629.4 595.7,622.2 598.1,616.9 C600.4,611.5 602.5,605.9 605.0,602.1 C607.6,598.3 610.8,594.8 613.4,594.2 C615.9,593.6 617.8,596.1 620.3,598.4 C622.9,600.7 625.9,604.6 628.7,608.3 C631.4,612.0 634.3,616.5 637.0,620.6 C639.7,624.7 642.4,629.1 644.9,632.9 C647.5,636.7 651.1,641.5 652.3,643.3" fill="none" stroke="#5f9e4f" stroke-width="1.1" stroke-dasharray="1.1,1.5"/>
<path d="M514.6,651.4 C519.2,651.3 533.1,650.9 542.4,650.9 C551.7,650.9 564.4,651.4 570.2,651.4 C576.0,651.4 574.9,651.7 577.2,650.9 C579.5,650.1 581.8,648.9 584.1,646.5 C586.5,644.1 588.8,641.3 591.1,636.6 C593.4,631.9 596.0,624.1 598.1,618.1 C600.1,612.2 602.1,604.8 603.6,600.9 C605.2,597.0 606.0,594.9 607.4,594.7 C608.8,594.5 610.4,597.2 612.0,599.6 C613.5,602.1 615.4,605.8 616.8,609.5 C618.3,613.2 619.1,617.0 620.6,621.8 C622.1,626.7 624.3,634.7 625.9,638.6 C627.5,642.5 628.8,643.7 630.1,645.2 C631.4,646.8 632.0,647.3 633.7,647.9 C635.3,648.6 636.5,649.3 639.8,649.4 C643.1,649.6 651.4,649.0 653.7,648.9" fill="none" stroke="#e8703a" stroke-width="1.1" stroke-dasharray="1.1,1.5"/>
<path d="M514.6,651.4 C519.2,651.3 533.1,650.9 542.4,650.9 C551.7,650.9 564.4,651.4 570.2,651.4 C576.0,651.4 574.9,651.7 577.2,650.9 C579.5,650.1 581.8,649.1 584.1,646.5 C586.5,643.9 588.8,640.1 591.1,635.4 C593.4,630.7 596.0,623.7 598.1,618.1 C600.1,612.6 601.8,606.0 603.6,602.1 C605.5,598.2 607.3,595.1 609.2,594.7 C611.0,594.3 612.9,597.6 614.8,599.6 C616.6,601.7 618.5,604.3 620.3,607.0 C622.2,609.8 623.6,612.7 625.9,616.2 C628.2,619.6 631.7,624.2 634.2,628.0 C636.8,631.7 639.1,635.9 641.2,638.6 C643.3,641.3 644.9,642.4 646.7,644.0 C648.6,645.6 651.4,647.3 652.3,647.9" fill="none" stroke="#4a80c8" stroke-width="1.1" stroke-dasharray="1.1,2.2"/>
<line x1="508.1" y1="580.2" x2="508.1" y2="657.0" stroke="#222" stroke-width="0.9" />
<line x1="506.1" y1="602.1" x2="508.1" y2="602.1" stroke="#222" stroke-width="0.7" />
<text x="505.8" y="604.8" font-size="7.5" fill="#444" color="#444" text-anchor="end" >2</text>
<line x1="506.1" y1="626.8" x2="508.1" y2="626.8" stroke="#222" stroke-width="0.7" />
<text x="505.8" y="629.5" font-size="7.5" fill="#444" color="#444" text-anchor="end" >1</text>
<line x1="506.1" y1="651.4" x2="508.1" y2="651.4" stroke="#222" stroke-width="0.7" />
<text x="505.8" y="654.1" font-size="7.5" fill="#444" color="#444" text-anchor="end" >0</text>
<line x1="508.1" y1="657.0" x2="661.2" y2="657.0" stroke="#222" stroke-width="0.9" />
<line x1="514.6" y1="657.0" x2="514.6" y2="659.0" stroke="#222" stroke-width="0.7" />
<text x="514.6" y="666.0" font-size="7.5" fill="#444" color="#444" text-anchor="middle" >0.00</text>
<line x1="549.4" y1="657.0" x2="549.4" y2="659.0" stroke="#222" stroke-width="0.7" />
<text x="549.4" y="666.0" font-size="7.5" fill="#444" color="#444" text-anchor="middle" >0.25</text>
<line x1="584.1" y1="657.0" x2="584.1" y2="659.0" stroke="#222" stroke-width="0.7" />
<text x="584.1" y="666.0" font-size="7.5" fill="#444" color="#444" text-anchor="middle" >0.50</text>
<line x1="618.9" y1="657.0" x2="618.9" y2="659.0" stroke="#222" stroke-width="0.7" />
<text x="618.9" y="666.0" font-size="7.5" fill="#444" color="#444" text-anchor="middle" >0.75</text>
<line x1="653.7" y1="657.0" x2="653.7" y2="659.0" stroke="#222" stroke-width="0.7" />
<text x="653.7" y="666.0" font-size="7.5" fill="#444" color="#444" text-anchor="middle" >1.00</text>
<line x1="661.2" y1="580.2" x2="661.2" y2="657.0" stroke="#8a8a8a" stroke-width="0.9" />
<line x1="661.2" y1="651.4" x2="663.2" y2="651.4" stroke="#8a8a8a" stroke-width="0.7" />
<text x="664.7" y="654.1" font-size="7.5" fill="#444" color="#444" >0</text>
<line x1="661.2" y1="637.9" x2="663.2" y2="637.9" stroke="#8a8a8a" stroke-width="0.7" />
<text x="664.7" y="640.6" font-size="7.5" fill="#444" color="#444" >10</text>
<line x1="661.2" y1="624.4" x2="663.2" y2="624.4" stroke="#8a8a8a" stroke-width="0.7" />
<text x="664.7" y="627.1" font-size="7.5" fill="#444" color="#444" >20</text>
<line x1="661.2" y1="610.8" x2="663.2" y2="610.8" stroke="#8a8a8a" stroke-width="0.7" />
<text x="664.7" y="613.5" font-size="7.5" fill="#444" color="#444" >30</text>
<line x1="661.2" y1="597.3" x2="663.2" y2="597.3" stroke="#8a8a8a" stroke-width="0.7" />
<text x="664.7" y="600.0" font-size="7.5" fill="#444" color="#444" >40</text>
<line x1="661.2" y1="583.8" x2="663.2" y2="583.8" stroke="#8a8a8a" stroke-width="0.7" />
<text x="664.7" y="586.5" font-size="7.5" fill="#444" color="#444" >50</text>
<text x="514.6" y="591.5" font-size="6.9" fill="#333" color="#333" >sender:</text>
<text x="554.9" y="591.5" font-size="6.9" fill="#333" color="#333" >ligand:</text>
<text x="554.9" y="599.3" font-size="6.9" fill="#333" color="#333" >CCL19</text>
<line x1="514.6" y1="596.9" x2="524.0" y2="596.9" stroke="#4b3d9e" stroke-width="1.1" stroke-dasharray="1.1,1.5"/>
<text x="527.8" y="599.3" font-size="6.9" fill="#333" color="#333" >aDC</text>
<line x1="514.6" y1="606.0" x2="524.0" y2="606.0" stroke="#c43d8e" stroke-width="1.1" stroke-dasharray="1.1,1.5"/>
<text x="527.8" y="608.4" font-size="6.9" fill="#333" color="#333" >mTEC(I)</text>
<line x1="514.6" y1="615.2" x2="524.0" y2="615.2" stroke="#5f9e4f" stroke-width="1.1" stroke-dasharray="1.1,1.5"/>
<text x="527.8" y="617.6" font-size="6.9" fill="#333" color="#333" >mTEC(II)</text>
<line x1="514.6" y1="624.3" x2="524.0" y2="624.3" stroke="#e8703a" stroke-width="1.1" stroke-dasharray="1.1,1.5"/>
<text x="527.8" y="626.7" font-size="6.9" fill="#333" color="#333" >mTEC(III)</text>
<line x1="514.6" y1="633.4" x2="524.0" y2="633.4" stroke="#4a80c8" stroke-width="1.1" stroke-dasharray="1.1,1.5"/>
<text x="527.8" y="635.8" font-size="6.9" fill="#333" color="#333" >mTEC(IV)</text>
<text x="584.2" y="674.6" font-size="8" fill="#222" color="#222" text-anchor="middle" >Pseudo time</text>
<text x="0" y="0" font-size="8" fill="#222" text-anchor="middle" transform="translate(488.4,569) rotate(-90)">Avg. Expression</text>
<text x="0" y="0" font-size="8" fill="#222" text-anchor="middle" transform="translate(679.5,568.5) rotate(90)">−log(p−val)</text>
</svg>
</body></html>
